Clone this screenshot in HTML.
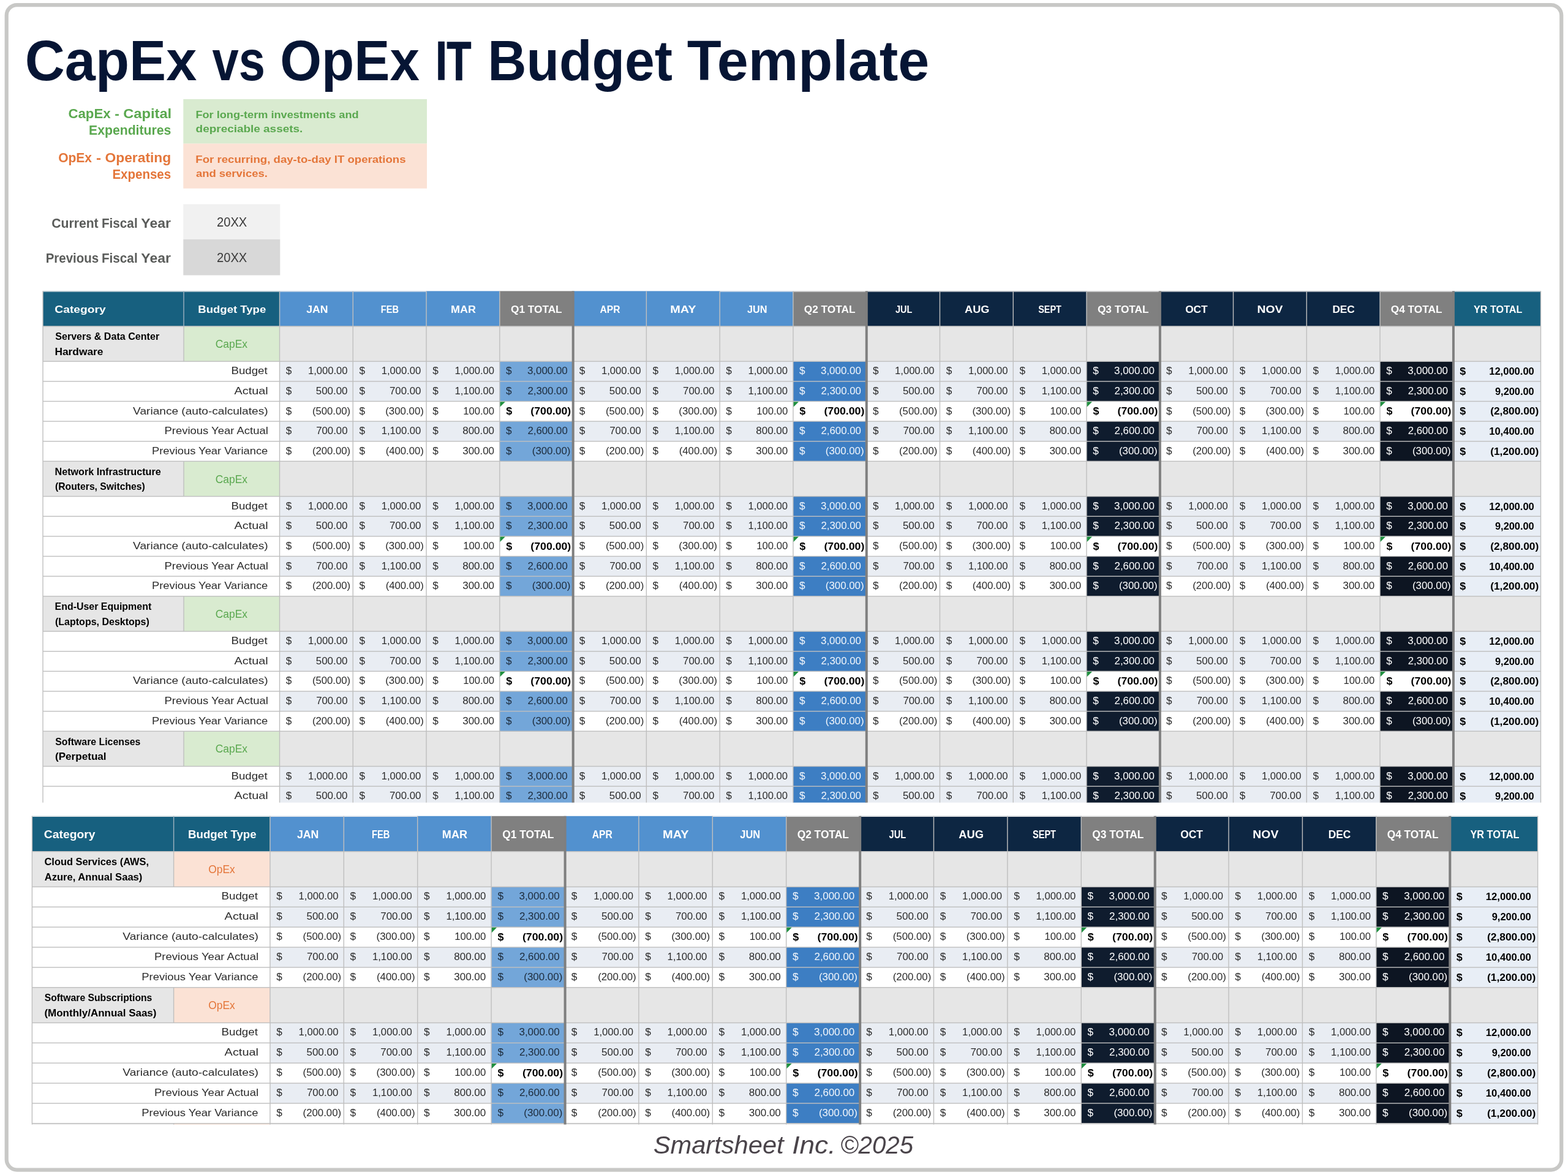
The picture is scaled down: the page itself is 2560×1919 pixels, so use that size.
<!DOCTYPE html>
<html lang="en">
<head>
<meta charset="utf-8">
<title>CapEx vs OpEx IT Budget Template</title>
<style>
html,body{margin:0;padding:0;background:#ffffff;}
body{width:2560px;height:1919px;overflow:hidden;}
svg{display:block;font-family:'Liberation Sans',sans-serif;}
text{white-space:pre;}
</style>
</head>
<body>
<svg width="2560" height="1919" viewBox="0 0 2560 1919" role="img" aria-label="CapEx vs OpEx IT Budget Template">
<rect x="10.7" y="8.05" width="2538.55" height="1902.55" rx="17" ry="17" fill="#ffffff" stroke="#c8c8c6" stroke-width="6.2"/>
<text font-size="92" font-weight="bold" fill="#061534"><tspan x="40.78" y="130.90" textLength="280.54" lengthAdjust="spacingAndGlyphs">CapEx</tspan> <tspan x="346.50" y="130.90" textLength="86.42" lengthAdjust="spacingAndGlyphs">vs</tspan> <tspan x="457.31" y="130.90" textLength="227.62" lengthAdjust="spacingAndGlyphs">OpEx</tspan> <tspan x="711.45" y="130.10" textLength="57.89" lengthAdjust="spacingAndGlyphs" font-size="89.68" stroke="#061534" stroke-width="1.6" stroke-linejoin="miter">IT</tspan> <tspan x="796.19" y="130.90" textLength="301.72" lengthAdjust="spacingAndGlyphs">Budget</tspan> <tspan x="1121.70" y="130.90" textLength="395.56" lengthAdjust="spacingAndGlyphs">Template</tspan></text>
<rect x="299.30" y="161.90" width="397.70" height="72.70" fill="#d9ebd0"/>
<rect x="299.30" y="234.60" width="397.70" height="73.20" fill="#fbe2d5"/>
<text font-size="21.2" font-weight="bold" fill="#5aa84f"><tspan x="111.41" y="193.00" textLength="69.23" lengthAdjust="spacingAndGlyphs">CapEx</tspan> <tspan x="187.30" y="193.00" textLength="7.58" lengthAdjust="spacingAndGlyphs">-</tspan> <tspan x="201.26" y="193.00" textLength="78.93" lengthAdjust="spacingAndGlyphs">Capital</tspan></text>
<text font-size="21.2" font-weight="bold" fill="#5aa84f"><tspan x="145.00" y="219.80" textLength="134.40" lengthAdjust="spacingAndGlyphs">Expenditures</tspan></text>
<text font-size="21.2" font-weight="bold" fill="#e4763a"><tspan x="95.16" y="264.90" textLength="54.91" lengthAdjust="spacingAndGlyphs">OpEx</tspan> <tspan x="156.94" y="264.90" textLength="8.09" lengthAdjust="spacingAndGlyphs">-</tspan> <tspan x="171.49" y="264.90" textLength="107.68" lengthAdjust="spacingAndGlyphs">Operating</tspan></text>
<text font-size="21.2" font-weight="bold" fill="#e4763a"><tspan x="183.45" y="292.30" textLength="95.71" lengthAdjust="spacingAndGlyphs">Expenses</tspan></text>
<text x="319.41" y="193.30" font-size="16.6" font-weight="bold" fill="#5aa84f" textLength="266.22" lengthAdjust="spacingAndGlyphs">For long-term investments and</text>
<text x="319.64" y="216.20" font-size="16.6" font-weight="bold" fill="#5aa84f" textLength="174.67" lengthAdjust="spacingAndGlyphs">depreciable assets.</text>
<text x="319.38" y="265.50" font-size="16.6" font-weight="bold" fill="#e4763a" textLength="343.18" lengthAdjust="spacingAndGlyphs">For recurring, day-to-day IT operations</text>
<text x="319.94" y="288.80" font-size="16.6" font-weight="bold" fill="#e4763a" textLength="116.88" lengthAdjust="spacingAndGlyphs">and services.</text>
<rect x="299.30" y="333.50" width="158.00" height="57.40" fill="#f1f1f1"/>
<rect x="299.30" y="390.90" width="158.00" height="58.60" fill="#d8d8d8"/>
<text font-size="21.4" font-weight="bold" fill="#5a5c5a"><tspan x="84.21" y="371.80" textLength="76.47" lengthAdjust="spacingAndGlyphs">Current</tspan> <tspan x="165.95" y="371.80" textLength="58.72" lengthAdjust="spacingAndGlyphs">Fiscal</tspan> <tspan x="230.36" y="371.80" textLength="48.47" lengthAdjust="spacingAndGlyphs">Year</tspan></text>
<text font-size="21.4" font-weight="bold" fill="#5a5c5a"><tspan x="74.66" y="428.80" textLength="86.59" lengthAdjust="spacingAndGlyphs">Previous</tspan> <tspan x="165.95" y="428.80" textLength="58.72" lengthAdjust="spacingAndGlyphs">Fiscal</tspan> <tspan x="230.36" y="428.80" textLength="48.47" lengthAdjust="spacingAndGlyphs">Year</tspan></text>
<text x="354.00" y="370.40" font-size="22.4" fill="#3a3a3a" textLength="49.29" lengthAdjust="spacingAndGlyphs">20XX</text>
<text x="354.00" y="427.60" font-size="22.4" fill="#3a3a3a" textLength="49.29" lengthAdjust="spacingAndGlyphs">20XX</text>
<text font-size="41" font-style="italic" fill="#4a444a"><tspan x="1066.78" y="1884.20" textLength="212.84" lengthAdjust="spacingAndGlyphs">Smartsheet</tspan> <tspan x="1293.28" y="1884.20" textLength="71.20" lengthAdjust="spacingAndGlyphs">Inc.</tspan> <tspan x="1371.93" y="1884.20" textLength="119.09" lengthAdjust="spacingAndGlyphs">©2025</tspan></text>
<clipPath id="clipa"><rect x="-2" y="-1.6" width="2449.50" height="835.50"/></clipPath>
<g transform="translate(70.00,476.80) scale(1.00000,1.00000)" clip-path="url(#clipa)">
<rect x="0.00" y="-1.60" width="230.00" height="57.70" fill="#17607f"/>
<rect x="230.00" y="-1.60" width="156.50" height="57.70" fill="#17607f"/>
<rect x="386.50" y="-1.60" width="119.77" height="57.70" fill="#5291cf"/>
<rect x="506.27" y="-1.60" width="119.77" height="57.70" fill="#5291cf"/>
<rect x="626.04" y="-1.60" width="119.77" height="57.70" fill="#5291cf"/>
<rect x="745.81" y="-1.60" width="119.77" height="57.70" fill="#808080"/>
<rect x="865.58" y="-1.60" width="119.77" height="57.70" fill="#5291cf"/>
<rect x="985.35" y="-1.60" width="119.77" height="57.70" fill="#5291cf"/>
<rect x="1105.12" y="-1.60" width="119.77" height="57.70" fill="#5291cf"/>
<rect x="1224.89" y="-1.60" width="119.77" height="57.70" fill="#808080"/>
<rect x="1344.66" y="-1.60" width="119.77" height="57.70" fill="#0d2642"/>
<rect x="1464.43" y="-1.60" width="119.77" height="57.70" fill="#0d2642"/>
<rect x="1584.20" y="-1.60" width="119.77" height="57.70" fill="#0d2642"/>
<rect x="1703.97" y="-1.60" width="119.77" height="57.70" fill="#808080"/>
<rect x="1823.74" y="-1.60" width="119.77" height="57.70" fill="#0d2642"/>
<rect x="1943.51" y="-1.60" width="119.77" height="57.70" fill="#0d2642"/>
<rect x="2063.28" y="-1.60" width="119.77" height="57.70" fill="#0d2642"/>
<rect x="2183.05" y="-1.60" width="119.77" height="57.70" fill="#808080"/>
<rect x="2302.82" y="-1.60" width="142.68" height="57.70" fill="#17607f"/>
<rect x="0.00" y="56.10" width="2445.50" height="57.30" fill="#e6e6e6"/>
<rect x="230.00" y="56.10" width="156.50" height="57.30" fill="#d9ebd0"/>
<rect x="0.00" y="113.40" width="386.50" height="32.63" fill="#ffffff"/>
<rect x="386.50" y="113.40" width="119.77" height="32.63" fill="#e9edf3"/>
<rect x="506.27" y="113.40" width="119.77" height="32.63" fill="#e9edf3"/>
<rect x="626.04" y="113.40" width="119.77" height="32.63" fill="#e9edf3"/>
<rect x="745.81" y="113.40" width="119.77" height="32.63" fill="#73a6d9"/>
<rect x="865.58" y="113.40" width="119.77" height="32.63" fill="#e9edf3"/>
<rect x="985.35" y="113.40" width="119.77" height="32.63" fill="#e9edf3"/>
<rect x="1105.12" y="113.40" width="119.77" height="32.63" fill="#e9edf3"/>
<rect x="1224.89" y="113.40" width="119.77" height="32.63" fill="#3d7ec3"/>
<rect x="1344.66" y="113.40" width="119.77" height="32.63" fill="#e9edf3"/>
<rect x="1464.43" y="113.40" width="119.77" height="32.63" fill="#e9edf3"/>
<rect x="1584.20" y="113.40" width="119.77" height="32.63" fill="#e9edf3"/>
<rect x="1703.97" y="113.40" width="119.77" height="32.63" fill="#0f1c2e"/>
<rect x="1823.74" y="113.40" width="119.77" height="32.63" fill="#e9edf3"/>
<rect x="1943.51" y="113.40" width="119.77" height="32.63" fill="#e9edf3"/>
<rect x="2063.28" y="113.40" width="119.77" height="32.63" fill="#e9edf3"/>
<rect x="2183.05" y="113.40" width="119.77" height="32.63" fill="#0d1522"/>
<rect x="2302.82" y="113.40" width="142.68" height="32.63" fill="#e8eef6"/>
<rect x="0.00" y="146.03" width="386.50" height="32.63" fill="#ffffff"/>
<rect x="386.50" y="146.03" width="119.77" height="32.63" fill="#e9edf3"/>
<rect x="506.27" y="146.03" width="119.77" height="32.63" fill="#e9edf3"/>
<rect x="626.04" y="146.03" width="119.77" height="32.63" fill="#e9edf3"/>
<rect x="745.81" y="146.03" width="119.77" height="32.63" fill="#73a6d9"/>
<rect x="865.58" y="146.03" width="119.77" height="32.63" fill="#e9edf3"/>
<rect x="985.35" y="146.03" width="119.77" height="32.63" fill="#e9edf3"/>
<rect x="1105.12" y="146.03" width="119.77" height="32.63" fill="#e9edf3"/>
<rect x="1224.89" y="146.03" width="119.77" height="32.63" fill="#3d7ec3"/>
<rect x="1344.66" y="146.03" width="119.77" height="32.63" fill="#e9edf3"/>
<rect x="1464.43" y="146.03" width="119.77" height="32.63" fill="#e9edf3"/>
<rect x="1584.20" y="146.03" width="119.77" height="32.63" fill="#e9edf3"/>
<rect x="1703.97" y="146.03" width="119.77" height="32.63" fill="#0f1c2e"/>
<rect x="1823.74" y="146.03" width="119.77" height="32.63" fill="#e9edf3"/>
<rect x="1943.51" y="146.03" width="119.77" height="32.63" fill="#e9edf3"/>
<rect x="2063.28" y="146.03" width="119.77" height="32.63" fill="#e9edf3"/>
<rect x="2183.05" y="146.03" width="119.77" height="32.63" fill="#0d1522"/>
<rect x="2302.82" y="146.03" width="142.68" height="32.63" fill="#e8eef6"/>
<rect x="0.00" y="178.66" width="386.50" height="32.63" fill="#ffffff"/>
<rect x="386.50" y="178.66" width="119.77" height="32.63" fill="#ffffff"/>
<rect x="506.27" y="178.66" width="119.77" height="32.63" fill="#ffffff"/>
<rect x="626.04" y="178.66" width="119.77" height="32.63" fill="#ffffff"/>
<rect x="745.81" y="178.66" width="119.77" height="32.63" fill="#ffffff"/>
<rect x="865.58" y="178.66" width="119.77" height="32.63" fill="#ffffff"/>
<rect x="985.35" y="178.66" width="119.77" height="32.63" fill="#ffffff"/>
<rect x="1105.12" y="178.66" width="119.77" height="32.63" fill="#ffffff"/>
<rect x="1224.89" y="178.66" width="119.77" height="32.63" fill="#ffffff"/>
<rect x="1344.66" y="178.66" width="119.77" height="32.63" fill="#ffffff"/>
<rect x="1464.43" y="178.66" width="119.77" height="32.63" fill="#ffffff"/>
<rect x="1584.20" y="178.66" width="119.77" height="32.63" fill="#ffffff"/>
<rect x="1703.97" y="178.66" width="119.77" height="32.63" fill="#ffffff"/>
<rect x="1823.74" y="178.66" width="119.77" height="32.63" fill="#ffffff"/>
<rect x="1943.51" y="178.66" width="119.77" height="32.63" fill="#ffffff"/>
<rect x="2063.28" y="178.66" width="119.77" height="32.63" fill="#ffffff"/>
<rect x="2183.05" y="178.66" width="119.77" height="32.63" fill="#ffffff"/>
<rect x="2302.82" y="178.66" width="142.68" height="32.63" fill="#e8eef6"/>
<rect x="0.00" y="211.29" width="386.50" height="32.63" fill="#ffffff"/>
<rect x="386.50" y="211.29" width="119.77" height="32.63" fill="#e9edf3"/>
<rect x="506.27" y="211.29" width="119.77" height="32.63" fill="#e9edf3"/>
<rect x="626.04" y="211.29" width="119.77" height="32.63" fill="#e9edf3"/>
<rect x="745.81" y="211.29" width="119.77" height="32.63" fill="#73a6d9"/>
<rect x="865.58" y="211.29" width="119.77" height="32.63" fill="#e9edf3"/>
<rect x="985.35" y="211.29" width="119.77" height="32.63" fill="#e9edf3"/>
<rect x="1105.12" y="211.29" width="119.77" height="32.63" fill="#e9edf3"/>
<rect x="1224.89" y="211.29" width="119.77" height="32.63" fill="#3d7ec3"/>
<rect x="1344.66" y="211.29" width="119.77" height="32.63" fill="#e9edf3"/>
<rect x="1464.43" y="211.29" width="119.77" height="32.63" fill="#e9edf3"/>
<rect x="1584.20" y="211.29" width="119.77" height="32.63" fill="#e9edf3"/>
<rect x="1703.97" y="211.29" width="119.77" height="32.63" fill="#0f1c2e"/>
<rect x="1823.74" y="211.29" width="119.77" height="32.63" fill="#e9edf3"/>
<rect x="1943.51" y="211.29" width="119.77" height="32.63" fill="#e9edf3"/>
<rect x="2063.28" y="211.29" width="119.77" height="32.63" fill="#e9edf3"/>
<rect x="2183.05" y="211.29" width="119.77" height="32.63" fill="#0d1522"/>
<rect x="2302.82" y="211.29" width="142.68" height="32.63" fill="#e8eef6"/>
<rect x="0.00" y="243.92" width="386.50" height="32.63" fill="#ffffff"/>
<rect x="386.50" y="243.92" width="119.77" height="32.63" fill="#ffffff"/>
<rect x="506.27" y="243.92" width="119.77" height="32.63" fill="#ffffff"/>
<rect x="626.04" y="243.92" width="119.77" height="32.63" fill="#ffffff"/>
<rect x="745.81" y="243.92" width="119.77" height="32.63" fill="#73a6d9"/>
<rect x="865.58" y="243.92" width="119.77" height="32.63" fill="#ffffff"/>
<rect x="985.35" y="243.92" width="119.77" height="32.63" fill="#ffffff"/>
<rect x="1105.12" y="243.92" width="119.77" height="32.63" fill="#ffffff"/>
<rect x="1224.89" y="243.92" width="119.77" height="32.63" fill="#3d7ec3"/>
<rect x="1344.66" y="243.92" width="119.77" height="32.63" fill="#ffffff"/>
<rect x="1464.43" y="243.92" width="119.77" height="32.63" fill="#ffffff"/>
<rect x="1584.20" y="243.92" width="119.77" height="32.63" fill="#ffffff"/>
<rect x="1703.97" y="243.92" width="119.77" height="32.63" fill="#0f1c2e"/>
<rect x="1823.74" y="243.92" width="119.77" height="32.63" fill="#ffffff"/>
<rect x="1943.51" y="243.92" width="119.77" height="32.63" fill="#ffffff"/>
<rect x="2063.28" y="243.92" width="119.77" height="32.63" fill="#ffffff"/>
<rect x="2183.05" y="243.92" width="119.77" height="32.63" fill="#0d1522"/>
<rect x="2302.82" y="243.92" width="142.68" height="32.63" fill="#e8eef6"/>
<rect x="0.00" y="276.55" width="2445.50" height="57.30" fill="#e6e6e6"/>
<rect x="230.00" y="276.55" width="156.50" height="57.30" fill="#d9ebd0"/>
<rect x="0.00" y="333.85" width="386.50" height="32.63" fill="#ffffff"/>
<rect x="386.50" y="333.85" width="119.77" height="32.63" fill="#e9edf3"/>
<rect x="506.27" y="333.85" width="119.77" height="32.63" fill="#e9edf3"/>
<rect x="626.04" y="333.85" width="119.77" height="32.63" fill="#e9edf3"/>
<rect x="745.81" y="333.85" width="119.77" height="32.63" fill="#73a6d9"/>
<rect x="865.58" y="333.85" width="119.77" height="32.63" fill="#e9edf3"/>
<rect x="985.35" y="333.85" width="119.77" height="32.63" fill="#e9edf3"/>
<rect x="1105.12" y="333.85" width="119.77" height="32.63" fill="#e9edf3"/>
<rect x="1224.89" y="333.85" width="119.77" height="32.63" fill="#3d7ec3"/>
<rect x="1344.66" y="333.85" width="119.77" height="32.63" fill="#e9edf3"/>
<rect x="1464.43" y="333.85" width="119.77" height="32.63" fill="#e9edf3"/>
<rect x="1584.20" y="333.85" width="119.77" height="32.63" fill="#e9edf3"/>
<rect x="1703.97" y="333.85" width="119.77" height="32.63" fill="#0f1c2e"/>
<rect x="1823.74" y="333.85" width="119.77" height="32.63" fill="#e9edf3"/>
<rect x="1943.51" y="333.85" width="119.77" height="32.63" fill="#e9edf3"/>
<rect x="2063.28" y="333.85" width="119.77" height="32.63" fill="#e9edf3"/>
<rect x="2183.05" y="333.85" width="119.77" height="32.63" fill="#0d1522"/>
<rect x="2302.82" y="333.85" width="142.68" height="32.63" fill="#e8eef6"/>
<rect x="0.00" y="366.48" width="386.50" height="32.63" fill="#ffffff"/>
<rect x="386.50" y="366.48" width="119.77" height="32.63" fill="#e9edf3"/>
<rect x="506.27" y="366.48" width="119.77" height="32.63" fill="#e9edf3"/>
<rect x="626.04" y="366.48" width="119.77" height="32.63" fill="#e9edf3"/>
<rect x="745.81" y="366.48" width="119.77" height="32.63" fill="#73a6d9"/>
<rect x="865.58" y="366.48" width="119.77" height="32.63" fill="#e9edf3"/>
<rect x="985.35" y="366.48" width="119.77" height="32.63" fill="#e9edf3"/>
<rect x="1105.12" y="366.48" width="119.77" height="32.63" fill="#e9edf3"/>
<rect x="1224.89" y="366.48" width="119.77" height="32.63" fill="#3d7ec3"/>
<rect x="1344.66" y="366.48" width="119.77" height="32.63" fill="#e9edf3"/>
<rect x="1464.43" y="366.48" width="119.77" height="32.63" fill="#e9edf3"/>
<rect x="1584.20" y="366.48" width="119.77" height="32.63" fill="#e9edf3"/>
<rect x="1703.97" y="366.48" width="119.77" height="32.63" fill="#0f1c2e"/>
<rect x="1823.74" y="366.48" width="119.77" height="32.63" fill="#e9edf3"/>
<rect x="1943.51" y="366.48" width="119.77" height="32.63" fill="#e9edf3"/>
<rect x="2063.28" y="366.48" width="119.77" height="32.63" fill="#e9edf3"/>
<rect x="2183.05" y="366.48" width="119.77" height="32.63" fill="#0d1522"/>
<rect x="2302.82" y="366.48" width="142.68" height="32.63" fill="#e8eef6"/>
<rect x="0.00" y="399.11" width="386.50" height="32.63" fill="#ffffff"/>
<rect x="386.50" y="399.11" width="119.77" height="32.63" fill="#ffffff"/>
<rect x="506.27" y="399.11" width="119.77" height="32.63" fill="#ffffff"/>
<rect x="626.04" y="399.11" width="119.77" height="32.63" fill="#ffffff"/>
<rect x="745.81" y="399.11" width="119.77" height="32.63" fill="#ffffff"/>
<rect x="865.58" y="399.11" width="119.77" height="32.63" fill="#ffffff"/>
<rect x="985.35" y="399.11" width="119.77" height="32.63" fill="#ffffff"/>
<rect x="1105.12" y="399.11" width="119.77" height="32.63" fill="#ffffff"/>
<rect x="1224.89" y="399.11" width="119.77" height="32.63" fill="#ffffff"/>
<rect x="1344.66" y="399.11" width="119.77" height="32.63" fill="#ffffff"/>
<rect x="1464.43" y="399.11" width="119.77" height="32.63" fill="#ffffff"/>
<rect x="1584.20" y="399.11" width="119.77" height="32.63" fill="#ffffff"/>
<rect x="1703.97" y="399.11" width="119.77" height="32.63" fill="#ffffff"/>
<rect x="1823.74" y="399.11" width="119.77" height="32.63" fill="#ffffff"/>
<rect x="1943.51" y="399.11" width="119.77" height="32.63" fill="#ffffff"/>
<rect x="2063.28" y="399.11" width="119.77" height="32.63" fill="#ffffff"/>
<rect x="2183.05" y="399.11" width="119.77" height="32.63" fill="#ffffff"/>
<rect x="2302.82" y="399.11" width="142.68" height="32.63" fill="#e8eef6"/>
<rect x="0.00" y="431.74" width="386.50" height="32.63" fill="#ffffff"/>
<rect x="386.50" y="431.74" width="119.77" height="32.63" fill="#e9edf3"/>
<rect x="506.27" y="431.74" width="119.77" height="32.63" fill="#e9edf3"/>
<rect x="626.04" y="431.74" width="119.77" height="32.63" fill="#e9edf3"/>
<rect x="745.81" y="431.74" width="119.77" height="32.63" fill="#73a6d9"/>
<rect x="865.58" y="431.74" width="119.77" height="32.63" fill="#e9edf3"/>
<rect x="985.35" y="431.74" width="119.77" height="32.63" fill="#e9edf3"/>
<rect x="1105.12" y="431.74" width="119.77" height="32.63" fill="#e9edf3"/>
<rect x="1224.89" y="431.74" width="119.77" height="32.63" fill="#3d7ec3"/>
<rect x="1344.66" y="431.74" width="119.77" height="32.63" fill="#e9edf3"/>
<rect x="1464.43" y="431.74" width="119.77" height="32.63" fill="#e9edf3"/>
<rect x="1584.20" y="431.74" width="119.77" height="32.63" fill="#e9edf3"/>
<rect x="1703.97" y="431.74" width="119.77" height="32.63" fill="#0f1c2e"/>
<rect x="1823.74" y="431.74" width="119.77" height="32.63" fill="#e9edf3"/>
<rect x="1943.51" y="431.74" width="119.77" height="32.63" fill="#e9edf3"/>
<rect x="2063.28" y="431.74" width="119.77" height="32.63" fill="#e9edf3"/>
<rect x="2183.05" y="431.74" width="119.77" height="32.63" fill="#0d1522"/>
<rect x="2302.82" y="431.74" width="142.68" height="32.63" fill="#e8eef6"/>
<rect x="0.00" y="464.37" width="386.50" height="32.63" fill="#ffffff"/>
<rect x="386.50" y="464.37" width="119.77" height="32.63" fill="#ffffff"/>
<rect x="506.27" y="464.37" width="119.77" height="32.63" fill="#ffffff"/>
<rect x="626.04" y="464.37" width="119.77" height="32.63" fill="#ffffff"/>
<rect x="745.81" y="464.37" width="119.77" height="32.63" fill="#73a6d9"/>
<rect x="865.58" y="464.37" width="119.77" height="32.63" fill="#ffffff"/>
<rect x="985.35" y="464.37" width="119.77" height="32.63" fill="#ffffff"/>
<rect x="1105.12" y="464.37" width="119.77" height="32.63" fill="#ffffff"/>
<rect x="1224.89" y="464.37" width="119.77" height="32.63" fill="#3d7ec3"/>
<rect x="1344.66" y="464.37" width="119.77" height="32.63" fill="#ffffff"/>
<rect x="1464.43" y="464.37" width="119.77" height="32.63" fill="#ffffff"/>
<rect x="1584.20" y="464.37" width="119.77" height="32.63" fill="#ffffff"/>
<rect x="1703.97" y="464.37" width="119.77" height="32.63" fill="#0f1c2e"/>
<rect x="1823.74" y="464.37" width="119.77" height="32.63" fill="#ffffff"/>
<rect x="1943.51" y="464.37" width="119.77" height="32.63" fill="#ffffff"/>
<rect x="2063.28" y="464.37" width="119.77" height="32.63" fill="#ffffff"/>
<rect x="2183.05" y="464.37" width="119.77" height="32.63" fill="#0d1522"/>
<rect x="2302.82" y="464.37" width="142.68" height="32.63" fill="#e8eef6"/>
<rect x="0.00" y="497.00" width="2445.50" height="57.30" fill="#e6e6e6"/>
<rect x="230.00" y="497.00" width="156.50" height="57.30" fill="#d9ebd0"/>
<rect x="0.00" y="554.30" width="386.50" height="32.63" fill="#ffffff"/>
<rect x="386.50" y="554.30" width="119.77" height="32.63" fill="#e9edf3"/>
<rect x="506.27" y="554.30" width="119.77" height="32.63" fill="#e9edf3"/>
<rect x="626.04" y="554.30" width="119.77" height="32.63" fill="#e9edf3"/>
<rect x="745.81" y="554.30" width="119.77" height="32.63" fill="#73a6d9"/>
<rect x="865.58" y="554.30" width="119.77" height="32.63" fill="#e9edf3"/>
<rect x="985.35" y="554.30" width="119.77" height="32.63" fill="#e9edf3"/>
<rect x="1105.12" y="554.30" width="119.77" height="32.63" fill="#e9edf3"/>
<rect x="1224.89" y="554.30" width="119.77" height="32.63" fill="#3d7ec3"/>
<rect x="1344.66" y="554.30" width="119.77" height="32.63" fill="#e9edf3"/>
<rect x="1464.43" y="554.30" width="119.77" height="32.63" fill="#e9edf3"/>
<rect x="1584.20" y="554.30" width="119.77" height="32.63" fill="#e9edf3"/>
<rect x="1703.97" y="554.30" width="119.77" height="32.63" fill="#0f1c2e"/>
<rect x="1823.74" y="554.30" width="119.77" height="32.63" fill="#e9edf3"/>
<rect x="1943.51" y="554.30" width="119.77" height="32.63" fill="#e9edf3"/>
<rect x="2063.28" y="554.30" width="119.77" height="32.63" fill="#e9edf3"/>
<rect x="2183.05" y="554.30" width="119.77" height="32.63" fill="#0d1522"/>
<rect x="2302.82" y="554.30" width="142.68" height="32.63" fill="#e8eef6"/>
<rect x="0.00" y="586.93" width="386.50" height="32.63" fill="#ffffff"/>
<rect x="386.50" y="586.93" width="119.77" height="32.63" fill="#e9edf3"/>
<rect x="506.27" y="586.93" width="119.77" height="32.63" fill="#e9edf3"/>
<rect x="626.04" y="586.93" width="119.77" height="32.63" fill="#e9edf3"/>
<rect x="745.81" y="586.93" width="119.77" height="32.63" fill="#73a6d9"/>
<rect x="865.58" y="586.93" width="119.77" height="32.63" fill="#e9edf3"/>
<rect x="985.35" y="586.93" width="119.77" height="32.63" fill="#e9edf3"/>
<rect x="1105.12" y="586.93" width="119.77" height="32.63" fill="#e9edf3"/>
<rect x="1224.89" y="586.93" width="119.77" height="32.63" fill="#3d7ec3"/>
<rect x="1344.66" y="586.93" width="119.77" height="32.63" fill="#e9edf3"/>
<rect x="1464.43" y="586.93" width="119.77" height="32.63" fill="#e9edf3"/>
<rect x="1584.20" y="586.93" width="119.77" height="32.63" fill="#e9edf3"/>
<rect x="1703.97" y="586.93" width="119.77" height="32.63" fill="#0f1c2e"/>
<rect x="1823.74" y="586.93" width="119.77" height="32.63" fill="#e9edf3"/>
<rect x="1943.51" y="586.93" width="119.77" height="32.63" fill="#e9edf3"/>
<rect x="2063.28" y="586.93" width="119.77" height="32.63" fill="#e9edf3"/>
<rect x="2183.05" y="586.93" width="119.77" height="32.63" fill="#0d1522"/>
<rect x="2302.82" y="586.93" width="142.68" height="32.63" fill="#e8eef6"/>
<rect x="0.00" y="619.56" width="386.50" height="32.63" fill="#ffffff"/>
<rect x="386.50" y="619.56" width="119.77" height="32.63" fill="#ffffff"/>
<rect x="506.27" y="619.56" width="119.77" height="32.63" fill="#ffffff"/>
<rect x="626.04" y="619.56" width="119.77" height="32.63" fill="#ffffff"/>
<rect x="745.81" y="619.56" width="119.77" height="32.63" fill="#ffffff"/>
<rect x="865.58" y="619.56" width="119.77" height="32.63" fill="#ffffff"/>
<rect x="985.35" y="619.56" width="119.77" height="32.63" fill="#ffffff"/>
<rect x="1105.12" y="619.56" width="119.77" height="32.63" fill="#ffffff"/>
<rect x="1224.89" y="619.56" width="119.77" height="32.63" fill="#ffffff"/>
<rect x="1344.66" y="619.56" width="119.77" height="32.63" fill="#ffffff"/>
<rect x="1464.43" y="619.56" width="119.77" height="32.63" fill="#ffffff"/>
<rect x="1584.20" y="619.56" width="119.77" height="32.63" fill="#ffffff"/>
<rect x="1703.97" y="619.56" width="119.77" height="32.63" fill="#ffffff"/>
<rect x="1823.74" y="619.56" width="119.77" height="32.63" fill="#ffffff"/>
<rect x="1943.51" y="619.56" width="119.77" height="32.63" fill="#ffffff"/>
<rect x="2063.28" y="619.56" width="119.77" height="32.63" fill="#ffffff"/>
<rect x="2183.05" y="619.56" width="119.77" height="32.63" fill="#ffffff"/>
<rect x="2302.82" y="619.56" width="142.68" height="32.63" fill="#e8eef6"/>
<rect x="0.00" y="652.19" width="386.50" height="32.63" fill="#ffffff"/>
<rect x="386.50" y="652.19" width="119.77" height="32.63" fill="#e9edf3"/>
<rect x="506.27" y="652.19" width="119.77" height="32.63" fill="#e9edf3"/>
<rect x="626.04" y="652.19" width="119.77" height="32.63" fill="#e9edf3"/>
<rect x="745.81" y="652.19" width="119.77" height="32.63" fill="#73a6d9"/>
<rect x="865.58" y="652.19" width="119.77" height="32.63" fill="#e9edf3"/>
<rect x="985.35" y="652.19" width="119.77" height="32.63" fill="#e9edf3"/>
<rect x="1105.12" y="652.19" width="119.77" height="32.63" fill="#e9edf3"/>
<rect x="1224.89" y="652.19" width="119.77" height="32.63" fill="#3d7ec3"/>
<rect x="1344.66" y="652.19" width="119.77" height="32.63" fill="#e9edf3"/>
<rect x="1464.43" y="652.19" width="119.77" height="32.63" fill="#e9edf3"/>
<rect x="1584.20" y="652.19" width="119.77" height="32.63" fill="#e9edf3"/>
<rect x="1703.97" y="652.19" width="119.77" height="32.63" fill="#0f1c2e"/>
<rect x="1823.74" y="652.19" width="119.77" height="32.63" fill="#e9edf3"/>
<rect x="1943.51" y="652.19" width="119.77" height="32.63" fill="#e9edf3"/>
<rect x="2063.28" y="652.19" width="119.77" height="32.63" fill="#e9edf3"/>
<rect x="2183.05" y="652.19" width="119.77" height="32.63" fill="#0d1522"/>
<rect x="2302.82" y="652.19" width="142.68" height="32.63" fill="#e8eef6"/>
<rect x="0.00" y="684.82" width="386.50" height="32.63" fill="#ffffff"/>
<rect x="386.50" y="684.82" width="119.77" height="32.63" fill="#ffffff"/>
<rect x="506.27" y="684.82" width="119.77" height="32.63" fill="#ffffff"/>
<rect x="626.04" y="684.82" width="119.77" height="32.63" fill="#ffffff"/>
<rect x="745.81" y="684.82" width="119.77" height="32.63" fill="#73a6d9"/>
<rect x="865.58" y="684.82" width="119.77" height="32.63" fill="#ffffff"/>
<rect x="985.35" y="684.82" width="119.77" height="32.63" fill="#ffffff"/>
<rect x="1105.12" y="684.82" width="119.77" height="32.63" fill="#ffffff"/>
<rect x="1224.89" y="684.82" width="119.77" height="32.63" fill="#3d7ec3"/>
<rect x="1344.66" y="684.82" width="119.77" height="32.63" fill="#ffffff"/>
<rect x="1464.43" y="684.82" width="119.77" height="32.63" fill="#ffffff"/>
<rect x="1584.20" y="684.82" width="119.77" height="32.63" fill="#ffffff"/>
<rect x="1703.97" y="684.82" width="119.77" height="32.63" fill="#0f1c2e"/>
<rect x="1823.74" y="684.82" width="119.77" height="32.63" fill="#ffffff"/>
<rect x="1943.51" y="684.82" width="119.77" height="32.63" fill="#ffffff"/>
<rect x="2063.28" y="684.82" width="119.77" height="32.63" fill="#ffffff"/>
<rect x="2183.05" y="684.82" width="119.77" height="32.63" fill="#0d1522"/>
<rect x="2302.82" y="684.82" width="142.68" height="32.63" fill="#e8eef6"/>
<rect x="0.00" y="717.45" width="2445.50" height="57.30" fill="#e6e6e6"/>
<rect x="230.00" y="717.45" width="156.50" height="57.30" fill="#d9ebd0"/>
<rect x="0.00" y="774.75" width="386.50" height="32.63" fill="#ffffff"/>
<rect x="386.50" y="774.75" width="119.77" height="32.63" fill="#e9edf3"/>
<rect x="506.27" y="774.75" width="119.77" height="32.63" fill="#e9edf3"/>
<rect x="626.04" y="774.75" width="119.77" height="32.63" fill="#e9edf3"/>
<rect x="745.81" y="774.75" width="119.77" height="32.63" fill="#73a6d9"/>
<rect x="865.58" y="774.75" width="119.77" height="32.63" fill="#e9edf3"/>
<rect x="985.35" y="774.75" width="119.77" height="32.63" fill="#e9edf3"/>
<rect x="1105.12" y="774.75" width="119.77" height="32.63" fill="#e9edf3"/>
<rect x="1224.89" y="774.75" width="119.77" height="32.63" fill="#3d7ec3"/>
<rect x="1344.66" y="774.75" width="119.77" height="32.63" fill="#e9edf3"/>
<rect x="1464.43" y="774.75" width="119.77" height="32.63" fill="#e9edf3"/>
<rect x="1584.20" y="774.75" width="119.77" height="32.63" fill="#e9edf3"/>
<rect x="1703.97" y="774.75" width="119.77" height="32.63" fill="#0f1c2e"/>
<rect x="1823.74" y="774.75" width="119.77" height="32.63" fill="#e9edf3"/>
<rect x="1943.51" y="774.75" width="119.77" height="32.63" fill="#e9edf3"/>
<rect x="2063.28" y="774.75" width="119.77" height="32.63" fill="#e9edf3"/>
<rect x="2183.05" y="774.75" width="119.77" height="32.63" fill="#0d1522"/>
<rect x="2302.82" y="774.75" width="142.68" height="32.63" fill="#e8eef6"/>
<rect x="0.00" y="807.38" width="386.50" height="32.63" fill="#ffffff"/>
<rect x="386.50" y="807.38" width="119.77" height="32.63" fill="#e9edf3"/>
<rect x="506.27" y="807.38" width="119.77" height="32.63" fill="#e9edf3"/>
<rect x="626.04" y="807.38" width="119.77" height="32.63" fill="#e9edf3"/>
<rect x="745.81" y="807.38" width="119.77" height="32.63" fill="#73a6d9"/>
<rect x="865.58" y="807.38" width="119.77" height="32.63" fill="#e9edf3"/>
<rect x="985.35" y="807.38" width="119.77" height="32.63" fill="#e9edf3"/>
<rect x="1105.12" y="807.38" width="119.77" height="32.63" fill="#e9edf3"/>
<rect x="1224.89" y="807.38" width="119.77" height="32.63" fill="#3d7ec3"/>
<rect x="1344.66" y="807.38" width="119.77" height="32.63" fill="#e9edf3"/>
<rect x="1464.43" y="807.38" width="119.77" height="32.63" fill="#e9edf3"/>
<rect x="1584.20" y="807.38" width="119.77" height="32.63" fill="#e9edf3"/>
<rect x="1703.97" y="807.38" width="119.77" height="32.63" fill="#0f1c2e"/>
<rect x="1823.74" y="807.38" width="119.77" height="32.63" fill="#e9edf3"/>
<rect x="1943.51" y="807.38" width="119.77" height="32.63" fill="#e9edf3"/>
<rect x="2063.28" y="807.38" width="119.77" height="32.63" fill="#e9edf3"/>
<rect x="2183.05" y="807.38" width="119.77" height="32.63" fill="#0d1522"/>
<rect x="2302.82" y="807.38" width="142.68" height="32.63" fill="#e8eef6"/>
<rect x="-0.7" y="-1.6" width="626.74" height="1.4" fill="#e9eaeb"/>
<rect x="1105.12" y="-1.6" width="1341.08" height="1.4" fill="#e9eaeb"/>
<rect x="0" y="55.40" width="2445.50" height="1.4" fill="#bfbfbf"/>
<rect x="0" y="112.70" width="2445.50" height="1.4" fill="#bfbfbf"/>
<rect x="0" y="145.33" width="2445.50" height="1.4" fill="#bfbfbf"/>
<rect x="0" y="177.96" width="2445.50" height="1.4" fill="#bfbfbf"/>
<rect x="0" y="210.59" width="2445.50" height="1.4" fill="#bfbfbf"/>
<rect x="0" y="243.22" width="2445.50" height="1.4" fill="#bfbfbf"/>
<rect x="0" y="275.85" width="2445.50" height="1.4" fill="#bfbfbf"/>
<rect x="0" y="333.15" width="2445.50" height="1.4" fill="#bfbfbf"/>
<rect x="0" y="365.78" width="2445.50" height="1.4" fill="#bfbfbf"/>
<rect x="0" y="398.41" width="2445.50" height="1.4" fill="#bfbfbf"/>
<rect x="0" y="431.04" width="2445.50" height="1.4" fill="#bfbfbf"/>
<rect x="0" y="463.67" width="2445.50" height="1.4" fill="#bfbfbf"/>
<rect x="0" y="496.30" width="2445.50" height="1.4" fill="#bfbfbf"/>
<rect x="0" y="553.60" width="2445.50" height="1.4" fill="#bfbfbf"/>
<rect x="0" y="586.23" width="2445.50" height="1.4" fill="#bfbfbf"/>
<rect x="0" y="618.86" width="2445.50" height="1.4" fill="#bfbfbf"/>
<rect x="0" y="651.49" width="2445.50" height="1.4" fill="#bfbfbf"/>
<rect x="0" y="684.12" width="2445.50" height="1.4" fill="#bfbfbf"/>
<rect x="0" y="716.75" width="2445.50" height="1.4" fill="#bfbfbf"/>
<rect x="0" y="774.05" width="2445.50" height="1.4" fill="#bfbfbf"/>
<rect x="0" y="806.68" width="2445.50" height="1.4" fill="#bfbfbf"/>
<rect x="-0.70" y="-1.6" width="1.4" height="837.50" fill="#bfbfbf"/>
<rect x="229.30" y="-1.6" width="1.4" height="57.70" fill="#9fb3bf"/>
<rect x="229.30" y="56.10" width="1.4" height="57.30" fill="#bfbfbf"/>
<rect x="229.30" y="276.55" width="1.4" height="57.30" fill="#bfbfbf"/>
<rect x="229.30" y="497.00" width="1.4" height="57.30" fill="#bfbfbf"/>
<rect x="229.30" y="717.45" width="1.4" height="57.30" fill="#bfbfbf"/>
<rect x="385.80" y="-1.6" width="1.4" height="837.50" fill="#bfbfbf"/>
<rect x="505.57" y="-1.6" width="1.4" height="837.50" fill="#bfbfbf"/>
<rect x="625.34" y="-1.6" width="1.4" height="837.50" fill="#bfbfbf"/>
<rect x="745.11" y="-1.6" width="1.4" height="837.50" fill="#bfbfbf"/>
<rect x="984.65" y="-1.6" width="1.4" height="837.50" fill="#bfbfbf"/>
<rect x="1104.42" y="-1.6" width="1.4" height="837.50" fill="#bfbfbf"/>
<rect x="1224.19" y="-1.6" width="1.4" height="837.50" fill="#bfbfbf"/>
<rect x="1463.73" y="-1.6" width="1.4" height="837.50" fill="#bfbfbf"/>
<rect x="1583.50" y="-1.6" width="1.4" height="837.50" fill="#bfbfbf"/>
<rect x="1703.27" y="-1.6" width="1.4" height="837.50" fill="#bfbfbf"/>
<rect x="1942.81" y="-1.6" width="1.4" height="837.50" fill="#bfbfbf"/>
<rect x="2062.58" y="-1.6" width="1.4" height="837.50" fill="#bfbfbf"/>
<rect x="2182.35" y="-1.6" width="1.4" height="837.50" fill="#bfbfbf"/>
<rect x="2444.80" y="-1.6" width="1.4" height="837.50" fill="#bfbfbf"/>
<rect x="863.68" y="-1.6" width="4.0" height="837.50" fill="#7f7f7f"/>
<rect x="1342.76" y="-1.6" width="4.0" height="837.50" fill="#7f7f7f"/>
<rect x="1821.84" y="-1.6" width="4.0" height="837.50" fill="#7f7f7f"/>
<rect x="2300.92" y="-1.6" width="4.0" height="837.50" fill="#7f7f7f"/>
<path d="M746.51 179.36 h8.3 l-8.3 8.3 z" fill="#1f8f3f"/>
<path d="M1225.59 179.36 h8.3 l-8.3 8.3 z" fill="#1f8f3f"/>
<path d="M1704.67 179.36 h8.3 l-8.3 8.3 z" fill="#1f8f3f"/>
<path d="M2183.75 179.36 h8.3 l-8.3 8.3 z" fill="#1f8f3f"/>
<path d="M746.51 399.81 h8.3 l-8.3 8.3 z" fill="#1f8f3f"/>
<path d="M1225.59 399.81 h8.3 l-8.3 8.3 z" fill="#1f8f3f"/>
<path d="M1704.67 399.81 h8.3 l-8.3 8.3 z" fill="#1f8f3f"/>
<path d="M2183.75 399.81 h8.3 l-8.3 8.3 z" fill="#1f8f3f"/>
<path d="M746.51 620.26 h8.3 l-8.3 8.3 z" fill="#1f8f3f"/>
<path d="M1225.59 620.26 h8.3 l-8.3 8.3 z" fill="#1f8f3f"/>
<path d="M1704.67 620.26 h8.3 l-8.3 8.3 z" fill="#1f8f3f"/>
<path d="M2183.75 620.26 h8.3 l-8.3 8.3 z" fill="#1f8f3f"/>
<text x="19.37" y="34.10" font-size="17.4" font-weight="bold" fill="#ffffff" textLength="83.21" lengthAdjust="spacingAndGlyphs">Category</text>
<text x="253.32" y="34.10" font-size="17.4" font-weight="bold" fill="#ffffff" textLength="110.94" lengthAdjust="spacingAndGlyphs">Budget Type</text>
<text x="430.25" y="34.10" font-size="17.4" font-weight="bold" fill="#ffffff" textLength="35.33" lengthAdjust="spacingAndGlyphs">JAN</text>
<text x="551.80" y="34.10" font-size="17.4" font-weight="bold" fill="#ffffff" textLength="29.22" lengthAdjust="spacingAndGlyphs">FEB</text>
<text x="665.96" y="34.10" font-size="17.4" font-weight="bold" fill="#ffffff" textLength="40.98" lengthAdjust="spacingAndGlyphs">MAR</text>
<text x="764.01" y="34.10" font-size="17.4" font-weight="bold" fill="#ffffff" textLength="83.66" lengthAdjust="spacingAndGlyphs">Q1 TOTAL</text>
<text x="909.55" y="34.10" font-size="17.4" font-weight="bold" fill="#ffffff" textLength="32.88" lengthAdjust="spacingAndGlyphs">APR</text>
<text x="1024.32" y="34.10" font-size="17.4" font-weight="bold" fill="#ffffff" textLength="42.29" lengthAdjust="spacingAndGlyphs">MAY</text>
<text x="1149.92" y="34.10" font-size="17.4" font-weight="bold" fill="#ffffff" textLength="32.52" lengthAdjust="spacingAndGlyphs">JUN</text>
<text x="1242.86" y="34.10" font-size="17.4" font-weight="bold" fill="#ffffff" textLength="83.56" lengthAdjust="spacingAndGlyphs">Q2 TOTAL</text>
<text x="1391.99" y="34.10" font-size="17.4" font-weight="bold" fill="#ffffff" textLength="27.32" lengthAdjust="spacingAndGlyphs">JUL</text>
<text x="1505.13" y="34.10" font-size="17.4" font-weight="bold" fill="#ffffff" textLength="40.23" lengthAdjust="spacingAndGlyphs">AUG</text>
<text x="1625.24" y="34.10" font-size="17.4" font-weight="bold" fill="#ffffff" textLength="37.68" lengthAdjust="spacingAndGlyphs">SEPT</text>
<text x="1721.91" y="34.10" font-size="17.4" font-weight="bold" fill="#ffffff" textLength="83.66" lengthAdjust="spacingAndGlyphs">Q3 TOTAL</text>
<text x="1865.15" y="34.10" font-size="17.4" font-weight="bold" fill="#ffffff" textLength="36.57" lengthAdjust="spacingAndGlyphs">OCT</text>
<text x="1982.61" y="34.10" font-size="17.4" font-weight="bold" fill="#ffffff" textLength="41.81" lengthAdjust="spacingAndGlyphs">NOV</text>
<text x="2105.41" y="34.10" font-size="17.4" font-weight="bold" fill="#ffffff" textLength="36.42" lengthAdjust="spacingAndGlyphs">DEC</text>
<text x="2200.86" y="34.10" font-size="17.4" font-weight="bold" fill="#ffffff" textLength="83.56" lengthAdjust="spacingAndGlyphs">Q4 TOTAL</text>
<text x="2335.92" y="34.10" font-size="17.4" font-weight="bold" fill="#ffffff" textLength="79.52" lengthAdjust="spacingAndGlyphs">YR TOTAL</text>
<text x="20.23" y="78.70" font-size="17" font-weight="bold" fill="#000000" textLength="169.94" lengthAdjust="spacingAndGlyphs">Servers &amp; Data Center</text>
<text x="19.42" y="103.00" font-size="17" font-weight="bold" fill="#000000" textLength="79.07" lengthAdjust="spacingAndGlyphs">Hardware</text>
<text x="281.76" y="91.30" font-size="17.6" fill="#5aa84f" textLength="52.31" lengthAdjust="spacingAndGlyphs">CapEx</text>
<text x="307.45" y="134.50" font-size="17" fill="#2b2b2b" textLength="59.19" lengthAdjust="spacingAndGlyphs">Budget</text>
<text x="396.75" y="134.50" font-size="17" fill="#2b2b2b" textLength="9.56" lengthAdjust="spacingAndGlyphs">$</text>
<text x="432.95" y="134.50" font-size="17" fill="#2b2b2b" textLength="64.48" lengthAdjust="spacingAndGlyphs">1,000.00</text>
<text x="516.52" y="134.50" font-size="17" fill="#2b2b2b" textLength="9.56" lengthAdjust="spacingAndGlyphs">$</text>
<text x="552.72" y="134.50" font-size="17" fill="#2b2b2b" textLength="64.48" lengthAdjust="spacingAndGlyphs">1,000.00</text>
<text x="636.29" y="134.50" font-size="17" fill="#2b2b2b" textLength="9.56" lengthAdjust="spacingAndGlyphs">$</text>
<text x="672.49" y="134.50" font-size="17" fill="#2b2b2b" textLength="64.48" lengthAdjust="spacingAndGlyphs">1,000.00</text>
<text x="756.06" y="134.50" font-size="17" fill="#1c2a3a" textLength="9.56" lengthAdjust="spacingAndGlyphs">$</text>
<text x="790.93" y="134.50" font-size="17" fill="#1c2a3a" textLength="65.82" lengthAdjust="spacingAndGlyphs">3,000.00</text>
<text x="875.83" y="134.50" font-size="17" fill="#2b2b2b" textLength="9.56" lengthAdjust="spacingAndGlyphs">$</text>
<text x="912.03" y="134.50" font-size="17" fill="#2b2b2b" textLength="64.48" lengthAdjust="spacingAndGlyphs">1,000.00</text>
<text x="995.60" y="134.50" font-size="17" fill="#2b2b2b" textLength="9.56" lengthAdjust="spacingAndGlyphs">$</text>
<text x="1031.80" y="134.50" font-size="17" fill="#2b2b2b" textLength="64.48" lengthAdjust="spacingAndGlyphs">1,000.00</text>
<text x="1115.37" y="134.50" font-size="17" fill="#2b2b2b" textLength="9.56" lengthAdjust="spacingAndGlyphs">$</text>
<text x="1151.57" y="134.50" font-size="17" fill="#2b2b2b" textLength="64.48" lengthAdjust="spacingAndGlyphs">1,000.00</text>
<text x="1235.14" y="134.50" font-size="17" fill="#f2f6fb" textLength="9.56" lengthAdjust="spacingAndGlyphs">$</text>
<text x="1270.01" y="134.50" font-size="17" fill="#f2f6fb" textLength="65.82" lengthAdjust="spacingAndGlyphs">3,000.00</text>
<text x="1354.91" y="134.50" font-size="17" fill="#2b2b2b" textLength="9.56" lengthAdjust="spacingAndGlyphs">$</text>
<text x="1391.11" y="134.50" font-size="17" fill="#2b2b2b" textLength="64.48" lengthAdjust="spacingAndGlyphs">1,000.00</text>
<text x="1474.68" y="134.50" font-size="17" fill="#2b2b2b" textLength="9.56" lengthAdjust="spacingAndGlyphs">$</text>
<text x="1510.88" y="134.50" font-size="17" fill="#2b2b2b" textLength="64.48" lengthAdjust="spacingAndGlyphs">1,000.00</text>
<text x="1594.45" y="134.50" font-size="17" fill="#2b2b2b" textLength="9.56" lengthAdjust="spacingAndGlyphs">$</text>
<text x="1630.65" y="134.50" font-size="17" fill="#2b2b2b" textLength="64.48" lengthAdjust="spacingAndGlyphs">1,000.00</text>
<text x="1714.22" y="134.50" font-size="17" fill="#ffffff" textLength="9.56" lengthAdjust="spacingAndGlyphs">$</text>
<text x="1749.09" y="134.50" font-size="17" fill="#ffffff" textLength="65.82" lengthAdjust="spacingAndGlyphs">3,000.00</text>
<text x="1833.99" y="134.50" font-size="17" fill="#2b2b2b" textLength="9.56" lengthAdjust="spacingAndGlyphs">$</text>
<text x="1870.19" y="134.50" font-size="17" fill="#2b2b2b" textLength="64.48" lengthAdjust="spacingAndGlyphs">1,000.00</text>
<text x="1953.76" y="134.50" font-size="17" fill="#2b2b2b" textLength="9.56" lengthAdjust="spacingAndGlyphs">$</text>
<text x="1989.96" y="134.50" font-size="17" fill="#2b2b2b" textLength="64.48" lengthAdjust="spacingAndGlyphs">1,000.00</text>
<text x="2073.53" y="134.50" font-size="17" fill="#2b2b2b" textLength="9.56" lengthAdjust="spacingAndGlyphs">$</text>
<text x="2109.73" y="134.50" font-size="17" fill="#2b2b2b" textLength="64.48" lengthAdjust="spacingAndGlyphs">1,000.00</text>
<text x="2193.30" y="134.50" font-size="17" fill="#ffffff" textLength="9.56" lengthAdjust="spacingAndGlyphs">$</text>
<text x="2228.17" y="134.50" font-size="17" fill="#ffffff" textLength="65.82" lengthAdjust="spacingAndGlyphs">3,000.00</text>
<text x="2313.25" y="135.40" font-size="16.6" font-weight="bold" fill="#000000" textLength="9.92" lengthAdjust="spacingAndGlyphs">$</text>
<text x="2361.19" y="135.40" font-size="16.4" font-weight="bold" fill="#000000" textLength="73.62" lengthAdjust="spacingAndGlyphs">12,000.00</text>
<text x="312.60" y="167.13" font-size="17" fill="#2b2b2b" textLength="55.07" lengthAdjust="spacingAndGlyphs">Actual</text>
<text x="396.75" y="167.13" font-size="17" fill="#2b2b2b" textLength="9.56" lengthAdjust="spacingAndGlyphs">$</text>
<text x="445.72" y="167.13" font-size="17" fill="#2b2b2b" textLength="51.79" lengthAdjust="spacingAndGlyphs">500.00</text>
<text x="516.52" y="167.13" font-size="17" fill="#2b2b2b" textLength="9.56" lengthAdjust="spacingAndGlyphs">$</text>
<text x="566.00" y="167.13" font-size="17" fill="#2b2b2b" textLength="51.28" lengthAdjust="spacingAndGlyphs">700.00</text>
<text x="636.29" y="167.13" font-size="17" fill="#2b2b2b" textLength="9.56" lengthAdjust="spacingAndGlyphs">$</text>
<text x="672.49" y="167.13" font-size="17" fill="#2b2b2b" textLength="64.48" lengthAdjust="spacingAndGlyphs">1,100.00</text>
<text x="756.06" y="167.13" font-size="17" fill="#1c2a3a" textLength="9.56" lengthAdjust="spacingAndGlyphs">$</text>
<text x="791.44" y="167.13" font-size="17" fill="#1c2a3a" textLength="65.31" lengthAdjust="spacingAndGlyphs">2,300.00</text>
<text x="875.83" y="167.13" font-size="17" fill="#2b2b2b" textLength="9.56" lengthAdjust="spacingAndGlyphs">$</text>
<text x="924.80" y="167.13" font-size="17" fill="#2b2b2b" textLength="51.79" lengthAdjust="spacingAndGlyphs">500.00</text>
<text x="995.60" y="167.13" font-size="17" fill="#2b2b2b" textLength="9.56" lengthAdjust="spacingAndGlyphs">$</text>
<text x="1045.08" y="167.13" font-size="17" fill="#2b2b2b" textLength="51.28" lengthAdjust="spacingAndGlyphs">700.00</text>
<text x="1115.37" y="167.13" font-size="17" fill="#2b2b2b" textLength="9.56" lengthAdjust="spacingAndGlyphs">$</text>
<text x="1151.57" y="167.13" font-size="17" fill="#2b2b2b" textLength="64.48" lengthAdjust="spacingAndGlyphs">1,100.00</text>
<text x="1235.14" y="167.13" font-size="17" fill="#f2f6fb" textLength="9.56" lengthAdjust="spacingAndGlyphs">$</text>
<text x="1270.52" y="167.13" font-size="17" fill="#f2f6fb" textLength="65.31" lengthAdjust="spacingAndGlyphs">2,300.00</text>
<text x="1354.91" y="167.13" font-size="17" fill="#2b2b2b" textLength="9.56" lengthAdjust="spacingAndGlyphs">$</text>
<text x="1403.88" y="167.13" font-size="17" fill="#2b2b2b" textLength="51.79" lengthAdjust="spacingAndGlyphs">500.00</text>
<text x="1474.68" y="167.13" font-size="17" fill="#2b2b2b" textLength="9.56" lengthAdjust="spacingAndGlyphs">$</text>
<text x="1524.16" y="167.13" font-size="17" fill="#2b2b2b" textLength="51.28" lengthAdjust="spacingAndGlyphs">700.00</text>
<text x="1594.45" y="167.13" font-size="17" fill="#2b2b2b" textLength="9.56" lengthAdjust="spacingAndGlyphs">$</text>
<text x="1630.65" y="167.13" font-size="17" fill="#2b2b2b" textLength="64.48" lengthAdjust="spacingAndGlyphs">1,100.00</text>
<text x="1714.22" y="167.13" font-size="17" fill="#ffffff" textLength="9.56" lengthAdjust="spacingAndGlyphs">$</text>
<text x="1749.60" y="167.13" font-size="17" fill="#ffffff" textLength="65.31" lengthAdjust="spacingAndGlyphs">2,300.00</text>
<text x="1833.99" y="167.13" font-size="17" fill="#2b2b2b" textLength="9.56" lengthAdjust="spacingAndGlyphs">$</text>
<text x="1882.96" y="167.13" font-size="17" fill="#2b2b2b" textLength="51.79" lengthAdjust="spacingAndGlyphs">500.00</text>
<text x="1953.76" y="167.13" font-size="17" fill="#2b2b2b" textLength="9.56" lengthAdjust="spacingAndGlyphs">$</text>
<text x="2003.24" y="167.13" font-size="17" fill="#2b2b2b" textLength="51.28" lengthAdjust="spacingAndGlyphs">700.00</text>
<text x="2073.53" y="167.13" font-size="17" fill="#2b2b2b" textLength="9.56" lengthAdjust="spacingAndGlyphs">$</text>
<text x="2109.73" y="167.13" font-size="17" fill="#2b2b2b" textLength="64.48" lengthAdjust="spacingAndGlyphs">1,100.00</text>
<text x="2193.30" y="167.13" font-size="17" fill="#ffffff" textLength="9.56" lengthAdjust="spacingAndGlyphs">$</text>
<text x="2228.68" y="167.13" font-size="17" fill="#ffffff" textLength="65.31" lengthAdjust="spacingAndGlyphs">2,300.00</text>
<text x="2313.25" y="168.03" font-size="16.6" font-weight="bold" fill="#000000" textLength="9.92" lengthAdjust="spacingAndGlyphs">$</text>
<text x="2371.00" y="168.03" font-size="16.4" font-weight="bold" fill="#000000" textLength="63.68" lengthAdjust="spacingAndGlyphs">9,200.00</text>
<text x="147.10" y="199.76" font-size="17" fill="#2b2b2b" textLength="220.49" lengthAdjust="spacingAndGlyphs">Variance (auto-calculates)</text>
<text x="396.75" y="199.76" font-size="17" fill="#2b2b2b" textLength="9.56" lengthAdjust="spacingAndGlyphs">$</text>
<text x="439.89" y="199.76" font-size="17" fill="#2b2b2b" textLength="62.23" lengthAdjust="spacingAndGlyphs">(500.00)</text>
<text x="516.52" y="199.76" font-size="17" fill="#2b2b2b" textLength="9.56" lengthAdjust="spacingAndGlyphs">$</text>
<text x="559.25" y="199.76" font-size="17" fill="#2b2b2b" textLength="62.65" lengthAdjust="spacingAndGlyphs">(300.00)</text>
<text x="636.29" y="199.76" font-size="17" fill="#2b2b2b" textLength="9.56" lengthAdjust="spacingAndGlyphs">$</text>
<text x="686.29" y="199.76" font-size="17" fill="#2b2b2b" textLength="50.75" lengthAdjust="spacingAndGlyphs">100.00</text>
<text x="756.24" y="200.66" font-size="16.6" font-weight="bold" fill="#000000" textLength="9.92" lengthAdjust="spacingAndGlyphs">$</text>
<text x="796.37" y="200.66" font-size="16.4" font-weight="bold" fill="#000000" textLength="65.90" lengthAdjust="spacingAndGlyphs">(700.00)</text>
<text x="875.83" y="199.76" font-size="17" fill="#2b2b2b" textLength="9.56" lengthAdjust="spacingAndGlyphs">$</text>
<text x="918.97" y="199.76" font-size="17" fill="#2b2b2b" textLength="62.23" lengthAdjust="spacingAndGlyphs">(500.00)</text>
<text x="995.60" y="199.76" font-size="17" fill="#2b2b2b" textLength="9.56" lengthAdjust="spacingAndGlyphs">$</text>
<text x="1038.33" y="199.76" font-size="17" fill="#2b2b2b" textLength="62.65" lengthAdjust="spacingAndGlyphs">(300.00)</text>
<text x="1115.37" y="199.76" font-size="17" fill="#2b2b2b" textLength="9.56" lengthAdjust="spacingAndGlyphs">$</text>
<text x="1165.37" y="199.76" font-size="17" fill="#2b2b2b" textLength="50.75" lengthAdjust="spacingAndGlyphs">100.00</text>
<text x="1235.32" y="200.66" font-size="16.6" font-weight="bold" fill="#000000" textLength="9.92" lengthAdjust="spacingAndGlyphs">$</text>
<text x="1275.45" y="200.66" font-size="16.4" font-weight="bold" fill="#000000" textLength="65.90" lengthAdjust="spacingAndGlyphs">(700.00)</text>
<text x="1354.91" y="199.76" font-size="17" fill="#2b2b2b" textLength="9.56" lengthAdjust="spacingAndGlyphs">$</text>
<text x="1398.05" y="199.76" font-size="17" fill="#2b2b2b" textLength="62.23" lengthAdjust="spacingAndGlyphs">(500.00)</text>
<text x="1474.68" y="199.76" font-size="17" fill="#2b2b2b" textLength="9.56" lengthAdjust="spacingAndGlyphs">$</text>
<text x="1517.41" y="199.76" font-size="17" fill="#2b2b2b" textLength="62.65" lengthAdjust="spacingAndGlyphs">(300.00)</text>
<text x="1594.45" y="199.76" font-size="17" fill="#2b2b2b" textLength="9.56" lengthAdjust="spacingAndGlyphs">$</text>
<text x="1644.45" y="199.76" font-size="17" fill="#2b2b2b" textLength="50.75" lengthAdjust="spacingAndGlyphs">100.00</text>
<text x="1714.40" y="200.66" font-size="16.6" font-weight="bold" fill="#000000" textLength="9.92" lengthAdjust="spacingAndGlyphs">$</text>
<text x="1754.53" y="200.66" font-size="16.4" font-weight="bold" fill="#000000" textLength="65.90" lengthAdjust="spacingAndGlyphs">(700.00)</text>
<text x="1833.99" y="199.76" font-size="17" fill="#2b2b2b" textLength="9.56" lengthAdjust="spacingAndGlyphs">$</text>
<text x="1877.13" y="199.76" font-size="17" fill="#2b2b2b" textLength="62.23" lengthAdjust="spacingAndGlyphs">(500.00)</text>
<text x="1953.76" y="199.76" font-size="17" fill="#2b2b2b" textLength="9.56" lengthAdjust="spacingAndGlyphs">$</text>
<text x="1996.49" y="199.76" font-size="17" fill="#2b2b2b" textLength="62.65" lengthAdjust="spacingAndGlyphs">(300.00)</text>
<text x="2073.53" y="199.76" font-size="17" fill="#2b2b2b" textLength="9.56" lengthAdjust="spacingAndGlyphs">$</text>
<text x="2123.53" y="199.76" font-size="17" fill="#2b2b2b" textLength="50.75" lengthAdjust="spacingAndGlyphs">100.00</text>
<text x="2193.48" y="200.66" font-size="16.6" font-weight="bold" fill="#000000" textLength="9.92" lengthAdjust="spacingAndGlyphs">$</text>
<text x="2233.61" y="200.66" font-size="16.4" font-weight="bold" fill="#000000" textLength="65.90" lengthAdjust="spacingAndGlyphs">(700.00)</text>
<text x="2313.25" y="200.66" font-size="16.6" font-weight="bold" fill="#000000" textLength="9.92" lengthAdjust="spacingAndGlyphs">$</text>
<text x="2363.21" y="200.66" font-size="16.4" font-weight="bold" fill="#000000" textLength="78.99" lengthAdjust="spacingAndGlyphs">(2,800.00)</text>
<text x="198.57" y="232.39" font-size="17" fill="#2b2b2b" textLength="169.22" lengthAdjust="spacingAndGlyphs">Previous Year Actual</text>
<text x="396.75" y="232.39" font-size="17" fill="#2b2b2b" textLength="9.56" lengthAdjust="spacingAndGlyphs">$</text>
<text x="446.23" y="232.39" font-size="17" fill="#2b2b2b" textLength="51.28" lengthAdjust="spacingAndGlyphs">700.00</text>
<text x="516.52" y="232.39" font-size="17" fill="#2b2b2b" textLength="9.56" lengthAdjust="spacingAndGlyphs">$</text>
<text x="552.72" y="232.39" font-size="17" fill="#2b2b2b" textLength="64.48" lengthAdjust="spacingAndGlyphs">1,100.00</text>
<text x="636.29" y="232.39" font-size="17" fill="#2b2b2b" textLength="9.56" lengthAdjust="spacingAndGlyphs">$</text>
<text x="685.26" y="232.39" font-size="17" fill="#2b2b2b" textLength="51.79" lengthAdjust="spacingAndGlyphs">800.00</text>
<text x="756.06" y="232.39" font-size="17" fill="#1c2a3a" textLength="9.56" lengthAdjust="spacingAndGlyphs">$</text>
<text x="791.44" y="232.39" font-size="17" fill="#1c2a3a" textLength="65.31" lengthAdjust="spacingAndGlyphs">2,600.00</text>
<text x="875.83" y="232.39" font-size="17" fill="#2b2b2b" textLength="9.56" lengthAdjust="spacingAndGlyphs">$</text>
<text x="925.31" y="232.39" font-size="17" fill="#2b2b2b" textLength="51.28" lengthAdjust="spacingAndGlyphs">700.00</text>
<text x="995.60" y="232.39" font-size="17" fill="#2b2b2b" textLength="9.56" lengthAdjust="spacingAndGlyphs">$</text>
<text x="1031.80" y="232.39" font-size="17" fill="#2b2b2b" textLength="64.48" lengthAdjust="spacingAndGlyphs">1,100.00</text>
<text x="1115.37" y="232.39" font-size="17" fill="#2b2b2b" textLength="9.56" lengthAdjust="spacingAndGlyphs">$</text>
<text x="1164.34" y="232.39" font-size="17" fill="#2b2b2b" textLength="51.79" lengthAdjust="spacingAndGlyphs">800.00</text>
<text x="1235.14" y="232.39" font-size="17" fill="#f2f6fb" textLength="9.56" lengthAdjust="spacingAndGlyphs">$</text>
<text x="1270.52" y="232.39" font-size="17" fill="#f2f6fb" textLength="65.31" lengthAdjust="spacingAndGlyphs">2,600.00</text>
<text x="1354.91" y="232.39" font-size="17" fill="#2b2b2b" textLength="9.56" lengthAdjust="spacingAndGlyphs">$</text>
<text x="1404.39" y="232.39" font-size="17" fill="#2b2b2b" textLength="51.28" lengthAdjust="spacingAndGlyphs">700.00</text>
<text x="1474.68" y="232.39" font-size="17" fill="#2b2b2b" textLength="9.56" lengthAdjust="spacingAndGlyphs">$</text>
<text x="1510.88" y="232.39" font-size="17" fill="#2b2b2b" textLength="64.48" lengthAdjust="spacingAndGlyphs">1,100.00</text>
<text x="1594.45" y="232.39" font-size="17" fill="#2b2b2b" textLength="9.56" lengthAdjust="spacingAndGlyphs">$</text>
<text x="1643.42" y="232.39" font-size="17" fill="#2b2b2b" textLength="51.79" lengthAdjust="spacingAndGlyphs">800.00</text>
<text x="1714.22" y="232.39" font-size="17" fill="#ffffff" textLength="9.56" lengthAdjust="spacingAndGlyphs">$</text>
<text x="1749.60" y="232.39" font-size="17" fill="#ffffff" textLength="65.31" lengthAdjust="spacingAndGlyphs">2,600.00</text>
<text x="1833.99" y="232.39" font-size="17" fill="#2b2b2b" textLength="9.56" lengthAdjust="spacingAndGlyphs">$</text>
<text x="1883.47" y="232.39" font-size="17" fill="#2b2b2b" textLength="51.28" lengthAdjust="spacingAndGlyphs">700.00</text>
<text x="1953.76" y="232.39" font-size="17" fill="#2b2b2b" textLength="9.56" lengthAdjust="spacingAndGlyphs">$</text>
<text x="1989.96" y="232.39" font-size="17" fill="#2b2b2b" textLength="64.48" lengthAdjust="spacingAndGlyphs">1,100.00</text>
<text x="2073.53" y="232.39" font-size="17" fill="#2b2b2b" textLength="9.56" lengthAdjust="spacingAndGlyphs">$</text>
<text x="2122.50" y="232.39" font-size="17" fill="#2b2b2b" textLength="51.79" lengthAdjust="spacingAndGlyphs">800.00</text>
<text x="2193.30" y="232.39" font-size="17" fill="#ffffff" textLength="9.56" lengthAdjust="spacingAndGlyphs">$</text>
<text x="2228.68" y="232.39" font-size="17" fill="#ffffff" textLength="65.31" lengthAdjust="spacingAndGlyphs">2,600.00</text>
<text x="2313.25" y="233.29" font-size="16.6" font-weight="bold" fill="#000000" textLength="9.92" lengthAdjust="spacingAndGlyphs">$</text>
<text x="2361.19" y="233.29" font-size="16.4" font-weight="bold" fill="#000000" textLength="73.62" lengthAdjust="spacingAndGlyphs">10,400.00</text>
<text x="177.98" y="265.02" font-size="17" fill="#2b2b2b" textLength="189.29" lengthAdjust="spacingAndGlyphs">Previous Year Variance</text>
<text x="396.75" y="265.02" font-size="17" fill="#2b2b2b" textLength="9.56" lengthAdjust="spacingAndGlyphs">$</text>
<text x="439.89" y="265.02" font-size="17" fill="#2b2b2b" textLength="62.23" lengthAdjust="spacingAndGlyphs">(200.00)</text>
<text x="516.52" y="265.02" font-size="17" fill="#2b2b2b" textLength="9.56" lengthAdjust="spacingAndGlyphs">$</text>
<text x="559.66" y="265.02" font-size="17" fill="#2b2b2b" textLength="62.23" lengthAdjust="spacingAndGlyphs">(400.00)</text>
<text x="636.29" y="265.02" font-size="17" fill="#2b2b2b" textLength="9.56" lengthAdjust="spacingAndGlyphs">$</text>
<text x="685.26" y="265.02" font-size="17" fill="#2b2b2b" textLength="51.79" lengthAdjust="spacingAndGlyphs">300.00</text>
<text x="756.06" y="265.02" font-size="17" fill="#1c2a3a" textLength="9.56" lengthAdjust="spacingAndGlyphs">$</text>
<text x="798.79" y="265.02" font-size="17" fill="#1c2a3a" textLength="62.65" lengthAdjust="spacingAndGlyphs">(300.00)</text>
<text x="875.83" y="265.02" font-size="17" fill="#2b2b2b" textLength="9.56" lengthAdjust="spacingAndGlyphs">$</text>
<text x="918.97" y="265.02" font-size="17" fill="#2b2b2b" textLength="62.23" lengthAdjust="spacingAndGlyphs">(200.00)</text>
<text x="995.60" y="265.02" font-size="17" fill="#2b2b2b" textLength="9.56" lengthAdjust="spacingAndGlyphs">$</text>
<text x="1038.74" y="265.02" font-size="17" fill="#2b2b2b" textLength="62.23" lengthAdjust="spacingAndGlyphs">(400.00)</text>
<text x="1115.37" y="265.02" font-size="17" fill="#2b2b2b" textLength="9.56" lengthAdjust="spacingAndGlyphs">$</text>
<text x="1164.34" y="265.02" font-size="17" fill="#2b2b2b" textLength="51.79" lengthAdjust="spacingAndGlyphs">300.00</text>
<text x="1235.14" y="265.02" font-size="17" fill="#f2f6fb" textLength="9.56" lengthAdjust="spacingAndGlyphs">$</text>
<text x="1277.87" y="265.02" font-size="17" fill="#f2f6fb" textLength="62.65" lengthAdjust="spacingAndGlyphs">(300.00)</text>
<text x="1354.91" y="265.02" font-size="17" fill="#2b2b2b" textLength="9.56" lengthAdjust="spacingAndGlyphs">$</text>
<text x="1398.05" y="265.02" font-size="17" fill="#2b2b2b" textLength="62.23" lengthAdjust="spacingAndGlyphs">(200.00)</text>
<text x="1474.68" y="265.02" font-size="17" fill="#2b2b2b" textLength="9.56" lengthAdjust="spacingAndGlyphs">$</text>
<text x="1517.82" y="265.02" font-size="17" fill="#2b2b2b" textLength="62.23" lengthAdjust="spacingAndGlyphs">(400.00)</text>
<text x="1594.45" y="265.02" font-size="17" fill="#2b2b2b" textLength="9.56" lengthAdjust="spacingAndGlyphs">$</text>
<text x="1643.42" y="265.02" font-size="17" fill="#2b2b2b" textLength="51.79" lengthAdjust="spacingAndGlyphs">300.00</text>
<text x="1714.22" y="265.02" font-size="17" fill="#ffffff" textLength="9.56" lengthAdjust="spacingAndGlyphs">$</text>
<text x="1756.95" y="265.02" font-size="17" fill="#ffffff" textLength="62.65" lengthAdjust="spacingAndGlyphs">(300.00)</text>
<text x="1833.99" y="265.02" font-size="17" fill="#2b2b2b" textLength="9.56" lengthAdjust="spacingAndGlyphs">$</text>
<text x="1877.13" y="265.02" font-size="17" fill="#2b2b2b" textLength="62.23" lengthAdjust="spacingAndGlyphs">(200.00)</text>
<text x="1953.76" y="265.02" font-size="17" fill="#2b2b2b" textLength="9.56" lengthAdjust="spacingAndGlyphs">$</text>
<text x="1996.90" y="265.02" font-size="17" fill="#2b2b2b" textLength="62.23" lengthAdjust="spacingAndGlyphs">(400.00)</text>
<text x="2073.53" y="265.02" font-size="17" fill="#2b2b2b" textLength="9.56" lengthAdjust="spacingAndGlyphs">$</text>
<text x="2122.50" y="265.02" font-size="17" fill="#2b2b2b" textLength="51.79" lengthAdjust="spacingAndGlyphs">300.00</text>
<text x="2193.30" y="265.02" font-size="17" fill="#ffffff" textLength="9.56" lengthAdjust="spacingAndGlyphs">$</text>
<text x="2236.03" y="265.02" font-size="17" fill="#ffffff" textLength="62.65" lengthAdjust="spacingAndGlyphs">(300.00)</text>
<text x="2313.25" y="265.92" font-size="16.6" font-weight="bold" fill="#000000" textLength="9.92" lengthAdjust="spacingAndGlyphs">$</text>
<text x="2363.21" y="265.92" font-size="16.4" font-weight="bold" fill="#000000" textLength="78.99" lengthAdjust="spacingAndGlyphs">(1,200.00)</text>
<text x="19.51" y="299.15" font-size="17" font-weight="bold" fill="#000000" textLength="173.23" lengthAdjust="spacingAndGlyphs">Network Infrastructure</text>
<text x="20.01" y="323.45" font-size="17" font-weight="bold" fill="#000000" textLength="146.74" lengthAdjust="spacingAndGlyphs">(Routers, Switches)</text>
<text x="281.76" y="311.75" font-size="17.6" fill="#5aa84f" textLength="52.31" lengthAdjust="spacingAndGlyphs">CapEx</text>
<text x="307.45" y="354.95" font-size="17" fill="#2b2b2b" textLength="59.19" lengthAdjust="spacingAndGlyphs">Budget</text>
<text x="396.75" y="354.95" font-size="17" fill="#2b2b2b" textLength="9.56" lengthAdjust="spacingAndGlyphs">$</text>
<text x="432.95" y="354.95" font-size="17" fill="#2b2b2b" textLength="64.48" lengthAdjust="spacingAndGlyphs">1,000.00</text>
<text x="516.52" y="354.95" font-size="17" fill="#2b2b2b" textLength="9.56" lengthAdjust="spacingAndGlyphs">$</text>
<text x="552.72" y="354.95" font-size="17" fill="#2b2b2b" textLength="64.48" lengthAdjust="spacingAndGlyphs">1,000.00</text>
<text x="636.29" y="354.95" font-size="17" fill="#2b2b2b" textLength="9.56" lengthAdjust="spacingAndGlyphs">$</text>
<text x="672.49" y="354.95" font-size="17" fill="#2b2b2b" textLength="64.48" lengthAdjust="spacingAndGlyphs">1,000.00</text>
<text x="756.06" y="354.95" font-size="17" fill="#1c2a3a" textLength="9.56" lengthAdjust="spacingAndGlyphs">$</text>
<text x="790.93" y="354.95" font-size="17" fill="#1c2a3a" textLength="65.82" lengthAdjust="spacingAndGlyphs">3,000.00</text>
<text x="875.83" y="354.95" font-size="17" fill="#2b2b2b" textLength="9.56" lengthAdjust="spacingAndGlyphs">$</text>
<text x="912.03" y="354.95" font-size="17" fill="#2b2b2b" textLength="64.48" lengthAdjust="spacingAndGlyphs">1,000.00</text>
<text x="995.60" y="354.95" font-size="17" fill="#2b2b2b" textLength="9.56" lengthAdjust="spacingAndGlyphs">$</text>
<text x="1031.80" y="354.95" font-size="17" fill="#2b2b2b" textLength="64.48" lengthAdjust="spacingAndGlyphs">1,000.00</text>
<text x="1115.37" y="354.95" font-size="17" fill="#2b2b2b" textLength="9.56" lengthAdjust="spacingAndGlyphs">$</text>
<text x="1151.57" y="354.95" font-size="17" fill="#2b2b2b" textLength="64.48" lengthAdjust="spacingAndGlyphs">1,000.00</text>
<text x="1235.14" y="354.95" font-size="17" fill="#f2f6fb" textLength="9.56" lengthAdjust="spacingAndGlyphs">$</text>
<text x="1270.01" y="354.95" font-size="17" fill="#f2f6fb" textLength="65.82" lengthAdjust="spacingAndGlyphs">3,000.00</text>
<text x="1354.91" y="354.95" font-size="17" fill="#2b2b2b" textLength="9.56" lengthAdjust="spacingAndGlyphs">$</text>
<text x="1391.11" y="354.95" font-size="17" fill="#2b2b2b" textLength="64.48" lengthAdjust="spacingAndGlyphs">1,000.00</text>
<text x="1474.68" y="354.95" font-size="17" fill="#2b2b2b" textLength="9.56" lengthAdjust="spacingAndGlyphs">$</text>
<text x="1510.88" y="354.95" font-size="17" fill="#2b2b2b" textLength="64.48" lengthAdjust="spacingAndGlyphs">1,000.00</text>
<text x="1594.45" y="354.95" font-size="17" fill="#2b2b2b" textLength="9.56" lengthAdjust="spacingAndGlyphs">$</text>
<text x="1630.65" y="354.95" font-size="17" fill="#2b2b2b" textLength="64.48" lengthAdjust="spacingAndGlyphs">1,000.00</text>
<text x="1714.22" y="354.95" font-size="17" fill="#ffffff" textLength="9.56" lengthAdjust="spacingAndGlyphs">$</text>
<text x="1749.09" y="354.95" font-size="17" fill="#ffffff" textLength="65.82" lengthAdjust="spacingAndGlyphs">3,000.00</text>
<text x="1833.99" y="354.95" font-size="17" fill="#2b2b2b" textLength="9.56" lengthAdjust="spacingAndGlyphs">$</text>
<text x="1870.19" y="354.95" font-size="17" fill="#2b2b2b" textLength="64.48" lengthAdjust="spacingAndGlyphs">1,000.00</text>
<text x="1953.76" y="354.95" font-size="17" fill="#2b2b2b" textLength="9.56" lengthAdjust="spacingAndGlyphs">$</text>
<text x="1989.96" y="354.95" font-size="17" fill="#2b2b2b" textLength="64.48" lengthAdjust="spacingAndGlyphs">1,000.00</text>
<text x="2073.53" y="354.95" font-size="17" fill="#2b2b2b" textLength="9.56" lengthAdjust="spacingAndGlyphs">$</text>
<text x="2109.73" y="354.95" font-size="17" fill="#2b2b2b" textLength="64.48" lengthAdjust="spacingAndGlyphs">1,000.00</text>
<text x="2193.30" y="354.95" font-size="17" fill="#ffffff" textLength="9.56" lengthAdjust="spacingAndGlyphs">$</text>
<text x="2228.17" y="354.95" font-size="17" fill="#ffffff" textLength="65.82" lengthAdjust="spacingAndGlyphs">3,000.00</text>
<text x="2313.25" y="355.85" font-size="16.6" font-weight="bold" fill="#000000" textLength="9.92" lengthAdjust="spacingAndGlyphs">$</text>
<text x="2361.19" y="355.85" font-size="16.4" font-weight="bold" fill="#000000" textLength="73.62" lengthAdjust="spacingAndGlyphs">12,000.00</text>
<text x="312.60" y="387.58" font-size="17" fill="#2b2b2b" textLength="55.07" lengthAdjust="spacingAndGlyphs">Actual</text>
<text x="396.75" y="387.58" font-size="17" fill="#2b2b2b" textLength="9.56" lengthAdjust="spacingAndGlyphs">$</text>
<text x="445.72" y="387.58" font-size="17" fill="#2b2b2b" textLength="51.79" lengthAdjust="spacingAndGlyphs">500.00</text>
<text x="516.52" y="387.58" font-size="17" fill="#2b2b2b" textLength="9.56" lengthAdjust="spacingAndGlyphs">$</text>
<text x="566.00" y="387.58" font-size="17" fill="#2b2b2b" textLength="51.28" lengthAdjust="spacingAndGlyphs">700.00</text>
<text x="636.29" y="387.58" font-size="17" fill="#2b2b2b" textLength="9.56" lengthAdjust="spacingAndGlyphs">$</text>
<text x="672.49" y="387.58" font-size="17" fill="#2b2b2b" textLength="64.48" lengthAdjust="spacingAndGlyphs">1,100.00</text>
<text x="756.06" y="387.58" font-size="17" fill="#1c2a3a" textLength="9.56" lengthAdjust="spacingAndGlyphs">$</text>
<text x="791.44" y="387.58" font-size="17" fill="#1c2a3a" textLength="65.31" lengthAdjust="spacingAndGlyphs">2,300.00</text>
<text x="875.83" y="387.58" font-size="17" fill="#2b2b2b" textLength="9.56" lengthAdjust="spacingAndGlyphs">$</text>
<text x="924.80" y="387.58" font-size="17" fill="#2b2b2b" textLength="51.79" lengthAdjust="spacingAndGlyphs">500.00</text>
<text x="995.60" y="387.58" font-size="17" fill="#2b2b2b" textLength="9.56" lengthAdjust="spacingAndGlyphs">$</text>
<text x="1045.08" y="387.58" font-size="17" fill="#2b2b2b" textLength="51.28" lengthAdjust="spacingAndGlyphs">700.00</text>
<text x="1115.37" y="387.58" font-size="17" fill="#2b2b2b" textLength="9.56" lengthAdjust="spacingAndGlyphs">$</text>
<text x="1151.57" y="387.58" font-size="17" fill="#2b2b2b" textLength="64.48" lengthAdjust="spacingAndGlyphs">1,100.00</text>
<text x="1235.14" y="387.58" font-size="17" fill="#f2f6fb" textLength="9.56" lengthAdjust="spacingAndGlyphs">$</text>
<text x="1270.52" y="387.58" font-size="17" fill="#f2f6fb" textLength="65.31" lengthAdjust="spacingAndGlyphs">2,300.00</text>
<text x="1354.91" y="387.58" font-size="17" fill="#2b2b2b" textLength="9.56" lengthAdjust="spacingAndGlyphs">$</text>
<text x="1403.88" y="387.58" font-size="17" fill="#2b2b2b" textLength="51.79" lengthAdjust="spacingAndGlyphs">500.00</text>
<text x="1474.68" y="387.58" font-size="17" fill="#2b2b2b" textLength="9.56" lengthAdjust="spacingAndGlyphs">$</text>
<text x="1524.16" y="387.58" font-size="17" fill="#2b2b2b" textLength="51.28" lengthAdjust="spacingAndGlyphs">700.00</text>
<text x="1594.45" y="387.58" font-size="17" fill="#2b2b2b" textLength="9.56" lengthAdjust="spacingAndGlyphs">$</text>
<text x="1630.65" y="387.58" font-size="17" fill="#2b2b2b" textLength="64.48" lengthAdjust="spacingAndGlyphs">1,100.00</text>
<text x="1714.22" y="387.58" font-size="17" fill="#ffffff" textLength="9.56" lengthAdjust="spacingAndGlyphs">$</text>
<text x="1749.60" y="387.58" font-size="17" fill="#ffffff" textLength="65.31" lengthAdjust="spacingAndGlyphs">2,300.00</text>
<text x="1833.99" y="387.58" font-size="17" fill="#2b2b2b" textLength="9.56" lengthAdjust="spacingAndGlyphs">$</text>
<text x="1882.96" y="387.58" font-size="17" fill="#2b2b2b" textLength="51.79" lengthAdjust="spacingAndGlyphs">500.00</text>
<text x="1953.76" y="387.58" font-size="17" fill="#2b2b2b" textLength="9.56" lengthAdjust="spacingAndGlyphs">$</text>
<text x="2003.24" y="387.58" font-size="17" fill="#2b2b2b" textLength="51.28" lengthAdjust="spacingAndGlyphs">700.00</text>
<text x="2073.53" y="387.58" font-size="17" fill="#2b2b2b" textLength="9.56" lengthAdjust="spacingAndGlyphs">$</text>
<text x="2109.73" y="387.58" font-size="17" fill="#2b2b2b" textLength="64.48" lengthAdjust="spacingAndGlyphs">1,100.00</text>
<text x="2193.30" y="387.58" font-size="17" fill="#ffffff" textLength="9.56" lengthAdjust="spacingAndGlyphs">$</text>
<text x="2228.68" y="387.58" font-size="17" fill="#ffffff" textLength="65.31" lengthAdjust="spacingAndGlyphs">2,300.00</text>
<text x="2313.25" y="388.48" font-size="16.6" font-weight="bold" fill="#000000" textLength="9.92" lengthAdjust="spacingAndGlyphs">$</text>
<text x="2371.00" y="388.48" font-size="16.4" font-weight="bold" fill="#000000" textLength="63.68" lengthAdjust="spacingAndGlyphs">9,200.00</text>
<text x="147.10" y="420.21" font-size="17" fill="#2b2b2b" textLength="220.49" lengthAdjust="spacingAndGlyphs">Variance (auto-calculates)</text>
<text x="396.75" y="420.21" font-size="17" fill="#2b2b2b" textLength="9.56" lengthAdjust="spacingAndGlyphs">$</text>
<text x="439.89" y="420.21" font-size="17" fill="#2b2b2b" textLength="62.23" lengthAdjust="spacingAndGlyphs">(500.00)</text>
<text x="516.52" y="420.21" font-size="17" fill="#2b2b2b" textLength="9.56" lengthAdjust="spacingAndGlyphs">$</text>
<text x="559.25" y="420.21" font-size="17" fill="#2b2b2b" textLength="62.65" lengthAdjust="spacingAndGlyphs">(300.00)</text>
<text x="636.29" y="420.21" font-size="17" fill="#2b2b2b" textLength="9.56" lengthAdjust="spacingAndGlyphs">$</text>
<text x="686.29" y="420.21" font-size="17" fill="#2b2b2b" textLength="50.75" lengthAdjust="spacingAndGlyphs">100.00</text>
<text x="756.24" y="421.11" font-size="16.6" font-weight="bold" fill="#000000" textLength="9.92" lengthAdjust="spacingAndGlyphs">$</text>
<text x="796.37" y="421.11" font-size="16.4" font-weight="bold" fill="#000000" textLength="65.90" lengthAdjust="spacingAndGlyphs">(700.00)</text>
<text x="875.83" y="420.21" font-size="17" fill="#2b2b2b" textLength="9.56" lengthAdjust="spacingAndGlyphs">$</text>
<text x="918.97" y="420.21" font-size="17" fill="#2b2b2b" textLength="62.23" lengthAdjust="spacingAndGlyphs">(500.00)</text>
<text x="995.60" y="420.21" font-size="17" fill="#2b2b2b" textLength="9.56" lengthAdjust="spacingAndGlyphs">$</text>
<text x="1038.33" y="420.21" font-size="17" fill="#2b2b2b" textLength="62.65" lengthAdjust="spacingAndGlyphs">(300.00)</text>
<text x="1115.37" y="420.21" font-size="17" fill="#2b2b2b" textLength="9.56" lengthAdjust="spacingAndGlyphs">$</text>
<text x="1165.37" y="420.21" font-size="17" fill="#2b2b2b" textLength="50.75" lengthAdjust="spacingAndGlyphs">100.00</text>
<text x="1235.32" y="421.11" font-size="16.6" font-weight="bold" fill="#000000" textLength="9.92" lengthAdjust="spacingAndGlyphs">$</text>
<text x="1275.45" y="421.11" font-size="16.4" font-weight="bold" fill="#000000" textLength="65.90" lengthAdjust="spacingAndGlyphs">(700.00)</text>
<text x="1354.91" y="420.21" font-size="17" fill="#2b2b2b" textLength="9.56" lengthAdjust="spacingAndGlyphs">$</text>
<text x="1398.05" y="420.21" font-size="17" fill="#2b2b2b" textLength="62.23" lengthAdjust="spacingAndGlyphs">(500.00)</text>
<text x="1474.68" y="420.21" font-size="17" fill="#2b2b2b" textLength="9.56" lengthAdjust="spacingAndGlyphs">$</text>
<text x="1517.41" y="420.21" font-size="17" fill="#2b2b2b" textLength="62.65" lengthAdjust="spacingAndGlyphs">(300.00)</text>
<text x="1594.45" y="420.21" font-size="17" fill="#2b2b2b" textLength="9.56" lengthAdjust="spacingAndGlyphs">$</text>
<text x="1644.45" y="420.21" font-size="17" fill="#2b2b2b" textLength="50.75" lengthAdjust="spacingAndGlyphs">100.00</text>
<text x="1714.40" y="421.11" font-size="16.6" font-weight="bold" fill="#000000" textLength="9.92" lengthAdjust="spacingAndGlyphs">$</text>
<text x="1754.53" y="421.11" font-size="16.4" font-weight="bold" fill="#000000" textLength="65.90" lengthAdjust="spacingAndGlyphs">(700.00)</text>
<text x="1833.99" y="420.21" font-size="17" fill="#2b2b2b" textLength="9.56" lengthAdjust="spacingAndGlyphs">$</text>
<text x="1877.13" y="420.21" font-size="17" fill="#2b2b2b" textLength="62.23" lengthAdjust="spacingAndGlyphs">(500.00)</text>
<text x="1953.76" y="420.21" font-size="17" fill="#2b2b2b" textLength="9.56" lengthAdjust="spacingAndGlyphs">$</text>
<text x="1996.49" y="420.21" font-size="17" fill="#2b2b2b" textLength="62.65" lengthAdjust="spacingAndGlyphs">(300.00)</text>
<text x="2073.53" y="420.21" font-size="17" fill="#2b2b2b" textLength="9.56" lengthAdjust="spacingAndGlyphs">$</text>
<text x="2123.53" y="420.21" font-size="17" fill="#2b2b2b" textLength="50.75" lengthAdjust="spacingAndGlyphs">100.00</text>
<text x="2193.48" y="421.11" font-size="16.6" font-weight="bold" fill="#000000" textLength="9.92" lengthAdjust="spacingAndGlyphs">$</text>
<text x="2233.61" y="421.11" font-size="16.4" font-weight="bold" fill="#000000" textLength="65.90" lengthAdjust="spacingAndGlyphs">(700.00)</text>
<text x="2313.25" y="421.11" font-size="16.6" font-weight="bold" fill="#000000" textLength="9.92" lengthAdjust="spacingAndGlyphs">$</text>
<text x="2363.21" y="421.11" font-size="16.4" font-weight="bold" fill="#000000" textLength="78.99" lengthAdjust="spacingAndGlyphs">(2,800.00)</text>
<text x="198.57" y="452.84" font-size="17" fill="#2b2b2b" textLength="169.22" lengthAdjust="spacingAndGlyphs">Previous Year Actual</text>
<text x="396.75" y="452.84" font-size="17" fill="#2b2b2b" textLength="9.56" lengthAdjust="spacingAndGlyphs">$</text>
<text x="446.23" y="452.84" font-size="17" fill="#2b2b2b" textLength="51.28" lengthAdjust="spacingAndGlyphs">700.00</text>
<text x="516.52" y="452.84" font-size="17" fill="#2b2b2b" textLength="9.56" lengthAdjust="spacingAndGlyphs">$</text>
<text x="552.72" y="452.84" font-size="17" fill="#2b2b2b" textLength="64.48" lengthAdjust="spacingAndGlyphs">1,100.00</text>
<text x="636.29" y="452.84" font-size="17" fill="#2b2b2b" textLength="9.56" lengthAdjust="spacingAndGlyphs">$</text>
<text x="685.26" y="452.84" font-size="17" fill="#2b2b2b" textLength="51.79" lengthAdjust="spacingAndGlyphs">800.00</text>
<text x="756.06" y="452.84" font-size="17" fill="#1c2a3a" textLength="9.56" lengthAdjust="spacingAndGlyphs">$</text>
<text x="791.44" y="452.84" font-size="17" fill="#1c2a3a" textLength="65.31" lengthAdjust="spacingAndGlyphs">2,600.00</text>
<text x="875.83" y="452.84" font-size="17" fill="#2b2b2b" textLength="9.56" lengthAdjust="spacingAndGlyphs">$</text>
<text x="925.31" y="452.84" font-size="17" fill="#2b2b2b" textLength="51.28" lengthAdjust="spacingAndGlyphs">700.00</text>
<text x="995.60" y="452.84" font-size="17" fill="#2b2b2b" textLength="9.56" lengthAdjust="spacingAndGlyphs">$</text>
<text x="1031.80" y="452.84" font-size="17" fill="#2b2b2b" textLength="64.48" lengthAdjust="spacingAndGlyphs">1,100.00</text>
<text x="1115.37" y="452.84" font-size="17" fill="#2b2b2b" textLength="9.56" lengthAdjust="spacingAndGlyphs">$</text>
<text x="1164.34" y="452.84" font-size="17" fill="#2b2b2b" textLength="51.79" lengthAdjust="spacingAndGlyphs">800.00</text>
<text x="1235.14" y="452.84" font-size="17" fill="#f2f6fb" textLength="9.56" lengthAdjust="spacingAndGlyphs">$</text>
<text x="1270.52" y="452.84" font-size="17" fill="#f2f6fb" textLength="65.31" lengthAdjust="spacingAndGlyphs">2,600.00</text>
<text x="1354.91" y="452.84" font-size="17" fill="#2b2b2b" textLength="9.56" lengthAdjust="spacingAndGlyphs">$</text>
<text x="1404.39" y="452.84" font-size="17" fill="#2b2b2b" textLength="51.28" lengthAdjust="spacingAndGlyphs">700.00</text>
<text x="1474.68" y="452.84" font-size="17" fill="#2b2b2b" textLength="9.56" lengthAdjust="spacingAndGlyphs">$</text>
<text x="1510.88" y="452.84" font-size="17" fill="#2b2b2b" textLength="64.48" lengthAdjust="spacingAndGlyphs">1,100.00</text>
<text x="1594.45" y="452.84" font-size="17" fill="#2b2b2b" textLength="9.56" lengthAdjust="spacingAndGlyphs">$</text>
<text x="1643.42" y="452.84" font-size="17" fill="#2b2b2b" textLength="51.79" lengthAdjust="spacingAndGlyphs">800.00</text>
<text x="1714.22" y="452.84" font-size="17" fill="#ffffff" textLength="9.56" lengthAdjust="spacingAndGlyphs">$</text>
<text x="1749.60" y="452.84" font-size="17" fill="#ffffff" textLength="65.31" lengthAdjust="spacingAndGlyphs">2,600.00</text>
<text x="1833.99" y="452.84" font-size="17" fill="#2b2b2b" textLength="9.56" lengthAdjust="spacingAndGlyphs">$</text>
<text x="1883.47" y="452.84" font-size="17" fill="#2b2b2b" textLength="51.28" lengthAdjust="spacingAndGlyphs">700.00</text>
<text x="1953.76" y="452.84" font-size="17" fill="#2b2b2b" textLength="9.56" lengthAdjust="spacingAndGlyphs">$</text>
<text x="1989.96" y="452.84" font-size="17" fill="#2b2b2b" textLength="64.48" lengthAdjust="spacingAndGlyphs">1,100.00</text>
<text x="2073.53" y="452.84" font-size="17" fill="#2b2b2b" textLength="9.56" lengthAdjust="spacingAndGlyphs">$</text>
<text x="2122.50" y="452.84" font-size="17" fill="#2b2b2b" textLength="51.79" lengthAdjust="spacingAndGlyphs">800.00</text>
<text x="2193.30" y="452.84" font-size="17" fill="#ffffff" textLength="9.56" lengthAdjust="spacingAndGlyphs">$</text>
<text x="2228.68" y="452.84" font-size="17" fill="#ffffff" textLength="65.31" lengthAdjust="spacingAndGlyphs">2,600.00</text>
<text x="2313.25" y="453.74" font-size="16.6" font-weight="bold" fill="#000000" textLength="9.92" lengthAdjust="spacingAndGlyphs">$</text>
<text x="2361.19" y="453.74" font-size="16.4" font-weight="bold" fill="#000000" textLength="73.62" lengthAdjust="spacingAndGlyphs">10,400.00</text>
<text x="177.98" y="485.47" font-size="17" fill="#2b2b2b" textLength="189.29" lengthAdjust="spacingAndGlyphs">Previous Year Variance</text>
<text x="396.75" y="485.47" font-size="17" fill="#2b2b2b" textLength="9.56" lengthAdjust="spacingAndGlyphs">$</text>
<text x="439.89" y="485.47" font-size="17" fill="#2b2b2b" textLength="62.23" lengthAdjust="spacingAndGlyphs">(200.00)</text>
<text x="516.52" y="485.47" font-size="17" fill="#2b2b2b" textLength="9.56" lengthAdjust="spacingAndGlyphs">$</text>
<text x="559.66" y="485.47" font-size="17" fill="#2b2b2b" textLength="62.23" lengthAdjust="spacingAndGlyphs">(400.00)</text>
<text x="636.29" y="485.47" font-size="17" fill="#2b2b2b" textLength="9.56" lengthAdjust="spacingAndGlyphs">$</text>
<text x="685.26" y="485.47" font-size="17" fill="#2b2b2b" textLength="51.79" lengthAdjust="spacingAndGlyphs">300.00</text>
<text x="756.06" y="485.47" font-size="17" fill="#1c2a3a" textLength="9.56" lengthAdjust="spacingAndGlyphs">$</text>
<text x="798.79" y="485.47" font-size="17" fill="#1c2a3a" textLength="62.65" lengthAdjust="spacingAndGlyphs">(300.00)</text>
<text x="875.83" y="485.47" font-size="17" fill="#2b2b2b" textLength="9.56" lengthAdjust="spacingAndGlyphs">$</text>
<text x="918.97" y="485.47" font-size="17" fill="#2b2b2b" textLength="62.23" lengthAdjust="spacingAndGlyphs">(200.00)</text>
<text x="995.60" y="485.47" font-size="17" fill="#2b2b2b" textLength="9.56" lengthAdjust="spacingAndGlyphs">$</text>
<text x="1038.74" y="485.47" font-size="17" fill="#2b2b2b" textLength="62.23" lengthAdjust="spacingAndGlyphs">(400.00)</text>
<text x="1115.37" y="485.47" font-size="17" fill="#2b2b2b" textLength="9.56" lengthAdjust="spacingAndGlyphs">$</text>
<text x="1164.34" y="485.47" font-size="17" fill="#2b2b2b" textLength="51.79" lengthAdjust="spacingAndGlyphs">300.00</text>
<text x="1235.14" y="485.47" font-size="17" fill="#f2f6fb" textLength="9.56" lengthAdjust="spacingAndGlyphs">$</text>
<text x="1277.87" y="485.47" font-size="17" fill="#f2f6fb" textLength="62.65" lengthAdjust="spacingAndGlyphs">(300.00)</text>
<text x="1354.91" y="485.47" font-size="17" fill="#2b2b2b" textLength="9.56" lengthAdjust="spacingAndGlyphs">$</text>
<text x="1398.05" y="485.47" font-size="17" fill="#2b2b2b" textLength="62.23" lengthAdjust="spacingAndGlyphs">(200.00)</text>
<text x="1474.68" y="485.47" font-size="17" fill="#2b2b2b" textLength="9.56" lengthAdjust="spacingAndGlyphs">$</text>
<text x="1517.82" y="485.47" font-size="17" fill="#2b2b2b" textLength="62.23" lengthAdjust="spacingAndGlyphs">(400.00)</text>
<text x="1594.45" y="485.47" font-size="17" fill="#2b2b2b" textLength="9.56" lengthAdjust="spacingAndGlyphs">$</text>
<text x="1643.42" y="485.47" font-size="17" fill="#2b2b2b" textLength="51.79" lengthAdjust="spacingAndGlyphs">300.00</text>
<text x="1714.22" y="485.47" font-size="17" fill="#ffffff" textLength="9.56" lengthAdjust="spacingAndGlyphs">$</text>
<text x="1756.95" y="485.47" font-size="17" fill="#ffffff" textLength="62.65" lengthAdjust="spacingAndGlyphs">(300.00)</text>
<text x="1833.99" y="485.47" font-size="17" fill="#2b2b2b" textLength="9.56" lengthAdjust="spacingAndGlyphs">$</text>
<text x="1877.13" y="485.47" font-size="17" fill="#2b2b2b" textLength="62.23" lengthAdjust="spacingAndGlyphs">(200.00)</text>
<text x="1953.76" y="485.47" font-size="17" fill="#2b2b2b" textLength="9.56" lengthAdjust="spacingAndGlyphs">$</text>
<text x="1996.90" y="485.47" font-size="17" fill="#2b2b2b" textLength="62.23" lengthAdjust="spacingAndGlyphs">(400.00)</text>
<text x="2073.53" y="485.47" font-size="17" fill="#2b2b2b" textLength="9.56" lengthAdjust="spacingAndGlyphs">$</text>
<text x="2122.50" y="485.47" font-size="17" fill="#2b2b2b" textLength="51.79" lengthAdjust="spacingAndGlyphs">300.00</text>
<text x="2193.30" y="485.47" font-size="17" fill="#ffffff" textLength="9.56" lengthAdjust="spacingAndGlyphs">$</text>
<text x="2236.03" y="485.47" font-size="17" fill="#ffffff" textLength="62.65" lengthAdjust="spacingAndGlyphs">(300.00)</text>
<text x="2313.25" y="486.37" font-size="16.6" font-weight="bold" fill="#000000" textLength="9.92" lengthAdjust="spacingAndGlyphs">$</text>
<text x="2363.21" y="486.37" font-size="16.4" font-weight="bold" fill="#000000" textLength="78.99" lengthAdjust="spacingAndGlyphs">(1,200.00)</text>
<text x="19.53" y="519.60" font-size="17" font-weight="bold" fill="#000000" textLength="157.69" lengthAdjust="spacingAndGlyphs">End-User Equipment</text>
<text x="19.99" y="543.90" font-size="17" font-weight="bold" fill="#000000" textLength="153.86" lengthAdjust="spacingAndGlyphs">(Laptops, Desktops)</text>
<text x="281.76" y="532.20" font-size="17.6" fill="#5aa84f" textLength="52.31" lengthAdjust="spacingAndGlyphs">CapEx</text>
<text x="307.45" y="575.40" font-size="17" fill="#2b2b2b" textLength="59.19" lengthAdjust="spacingAndGlyphs">Budget</text>
<text x="396.75" y="575.40" font-size="17" fill="#2b2b2b" textLength="9.56" lengthAdjust="spacingAndGlyphs">$</text>
<text x="432.95" y="575.40" font-size="17" fill="#2b2b2b" textLength="64.48" lengthAdjust="spacingAndGlyphs">1,000.00</text>
<text x="516.52" y="575.40" font-size="17" fill="#2b2b2b" textLength="9.56" lengthAdjust="spacingAndGlyphs">$</text>
<text x="552.72" y="575.40" font-size="17" fill="#2b2b2b" textLength="64.48" lengthAdjust="spacingAndGlyphs">1,000.00</text>
<text x="636.29" y="575.40" font-size="17" fill="#2b2b2b" textLength="9.56" lengthAdjust="spacingAndGlyphs">$</text>
<text x="672.49" y="575.40" font-size="17" fill="#2b2b2b" textLength="64.48" lengthAdjust="spacingAndGlyphs">1,000.00</text>
<text x="756.06" y="575.40" font-size="17" fill="#1c2a3a" textLength="9.56" lengthAdjust="spacingAndGlyphs">$</text>
<text x="790.93" y="575.40" font-size="17" fill="#1c2a3a" textLength="65.82" lengthAdjust="spacingAndGlyphs">3,000.00</text>
<text x="875.83" y="575.40" font-size="17" fill="#2b2b2b" textLength="9.56" lengthAdjust="spacingAndGlyphs">$</text>
<text x="912.03" y="575.40" font-size="17" fill="#2b2b2b" textLength="64.48" lengthAdjust="spacingAndGlyphs">1,000.00</text>
<text x="995.60" y="575.40" font-size="17" fill="#2b2b2b" textLength="9.56" lengthAdjust="spacingAndGlyphs">$</text>
<text x="1031.80" y="575.40" font-size="17" fill="#2b2b2b" textLength="64.48" lengthAdjust="spacingAndGlyphs">1,000.00</text>
<text x="1115.37" y="575.40" font-size="17" fill="#2b2b2b" textLength="9.56" lengthAdjust="spacingAndGlyphs">$</text>
<text x="1151.57" y="575.40" font-size="17" fill="#2b2b2b" textLength="64.48" lengthAdjust="spacingAndGlyphs">1,000.00</text>
<text x="1235.14" y="575.40" font-size="17" fill="#f2f6fb" textLength="9.56" lengthAdjust="spacingAndGlyphs">$</text>
<text x="1270.01" y="575.40" font-size="17" fill="#f2f6fb" textLength="65.82" lengthAdjust="spacingAndGlyphs">3,000.00</text>
<text x="1354.91" y="575.40" font-size="17" fill="#2b2b2b" textLength="9.56" lengthAdjust="spacingAndGlyphs">$</text>
<text x="1391.11" y="575.40" font-size="17" fill="#2b2b2b" textLength="64.48" lengthAdjust="spacingAndGlyphs">1,000.00</text>
<text x="1474.68" y="575.40" font-size="17" fill="#2b2b2b" textLength="9.56" lengthAdjust="spacingAndGlyphs">$</text>
<text x="1510.88" y="575.40" font-size="17" fill="#2b2b2b" textLength="64.48" lengthAdjust="spacingAndGlyphs">1,000.00</text>
<text x="1594.45" y="575.40" font-size="17" fill="#2b2b2b" textLength="9.56" lengthAdjust="spacingAndGlyphs">$</text>
<text x="1630.65" y="575.40" font-size="17" fill="#2b2b2b" textLength="64.48" lengthAdjust="spacingAndGlyphs">1,000.00</text>
<text x="1714.22" y="575.40" font-size="17" fill="#ffffff" textLength="9.56" lengthAdjust="spacingAndGlyphs">$</text>
<text x="1749.09" y="575.40" font-size="17" fill="#ffffff" textLength="65.82" lengthAdjust="spacingAndGlyphs">3,000.00</text>
<text x="1833.99" y="575.40" font-size="17" fill="#2b2b2b" textLength="9.56" lengthAdjust="spacingAndGlyphs">$</text>
<text x="1870.19" y="575.40" font-size="17" fill="#2b2b2b" textLength="64.48" lengthAdjust="spacingAndGlyphs">1,000.00</text>
<text x="1953.76" y="575.40" font-size="17" fill="#2b2b2b" textLength="9.56" lengthAdjust="spacingAndGlyphs">$</text>
<text x="1989.96" y="575.40" font-size="17" fill="#2b2b2b" textLength="64.48" lengthAdjust="spacingAndGlyphs">1,000.00</text>
<text x="2073.53" y="575.40" font-size="17" fill="#2b2b2b" textLength="9.56" lengthAdjust="spacingAndGlyphs">$</text>
<text x="2109.73" y="575.40" font-size="17" fill="#2b2b2b" textLength="64.48" lengthAdjust="spacingAndGlyphs">1,000.00</text>
<text x="2193.30" y="575.40" font-size="17" fill="#ffffff" textLength="9.56" lengthAdjust="spacingAndGlyphs">$</text>
<text x="2228.17" y="575.40" font-size="17" fill="#ffffff" textLength="65.82" lengthAdjust="spacingAndGlyphs">3,000.00</text>
<text x="2313.25" y="576.30" font-size="16.6" font-weight="bold" fill="#000000" textLength="9.92" lengthAdjust="spacingAndGlyphs">$</text>
<text x="2361.19" y="576.30" font-size="16.4" font-weight="bold" fill="#000000" textLength="73.62" lengthAdjust="spacingAndGlyphs">12,000.00</text>
<text x="312.60" y="608.03" font-size="17" fill="#2b2b2b" textLength="55.07" lengthAdjust="spacingAndGlyphs">Actual</text>
<text x="396.75" y="608.03" font-size="17" fill="#2b2b2b" textLength="9.56" lengthAdjust="spacingAndGlyphs">$</text>
<text x="445.72" y="608.03" font-size="17" fill="#2b2b2b" textLength="51.79" lengthAdjust="spacingAndGlyphs">500.00</text>
<text x="516.52" y="608.03" font-size="17" fill="#2b2b2b" textLength="9.56" lengthAdjust="spacingAndGlyphs">$</text>
<text x="566.00" y="608.03" font-size="17" fill="#2b2b2b" textLength="51.28" lengthAdjust="spacingAndGlyphs">700.00</text>
<text x="636.29" y="608.03" font-size="17" fill="#2b2b2b" textLength="9.56" lengthAdjust="spacingAndGlyphs">$</text>
<text x="672.49" y="608.03" font-size="17" fill="#2b2b2b" textLength="64.48" lengthAdjust="spacingAndGlyphs">1,100.00</text>
<text x="756.06" y="608.03" font-size="17" fill="#1c2a3a" textLength="9.56" lengthAdjust="spacingAndGlyphs">$</text>
<text x="791.44" y="608.03" font-size="17" fill="#1c2a3a" textLength="65.31" lengthAdjust="spacingAndGlyphs">2,300.00</text>
<text x="875.83" y="608.03" font-size="17" fill="#2b2b2b" textLength="9.56" lengthAdjust="spacingAndGlyphs">$</text>
<text x="924.80" y="608.03" font-size="17" fill="#2b2b2b" textLength="51.79" lengthAdjust="spacingAndGlyphs">500.00</text>
<text x="995.60" y="608.03" font-size="17" fill="#2b2b2b" textLength="9.56" lengthAdjust="spacingAndGlyphs">$</text>
<text x="1045.08" y="608.03" font-size="17" fill="#2b2b2b" textLength="51.28" lengthAdjust="spacingAndGlyphs">700.00</text>
<text x="1115.37" y="608.03" font-size="17" fill="#2b2b2b" textLength="9.56" lengthAdjust="spacingAndGlyphs">$</text>
<text x="1151.57" y="608.03" font-size="17" fill="#2b2b2b" textLength="64.48" lengthAdjust="spacingAndGlyphs">1,100.00</text>
<text x="1235.14" y="608.03" font-size="17" fill="#f2f6fb" textLength="9.56" lengthAdjust="spacingAndGlyphs">$</text>
<text x="1270.52" y="608.03" font-size="17" fill="#f2f6fb" textLength="65.31" lengthAdjust="spacingAndGlyphs">2,300.00</text>
<text x="1354.91" y="608.03" font-size="17" fill="#2b2b2b" textLength="9.56" lengthAdjust="spacingAndGlyphs">$</text>
<text x="1403.88" y="608.03" font-size="17" fill="#2b2b2b" textLength="51.79" lengthAdjust="spacingAndGlyphs">500.00</text>
<text x="1474.68" y="608.03" font-size="17" fill="#2b2b2b" textLength="9.56" lengthAdjust="spacingAndGlyphs">$</text>
<text x="1524.16" y="608.03" font-size="17" fill="#2b2b2b" textLength="51.28" lengthAdjust="spacingAndGlyphs">700.00</text>
<text x="1594.45" y="608.03" font-size="17" fill="#2b2b2b" textLength="9.56" lengthAdjust="spacingAndGlyphs">$</text>
<text x="1630.65" y="608.03" font-size="17" fill="#2b2b2b" textLength="64.48" lengthAdjust="spacingAndGlyphs">1,100.00</text>
<text x="1714.22" y="608.03" font-size="17" fill="#ffffff" textLength="9.56" lengthAdjust="spacingAndGlyphs">$</text>
<text x="1749.60" y="608.03" font-size="17" fill="#ffffff" textLength="65.31" lengthAdjust="spacingAndGlyphs">2,300.00</text>
<text x="1833.99" y="608.03" font-size="17" fill="#2b2b2b" textLength="9.56" lengthAdjust="spacingAndGlyphs">$</text>
<text x="1882.96" y="608.03" font-size="17" fill="#2b2b2b" textLength="51.79" lengthAdjust="spacingAndGlyphs">500.00</text>
<text x="1953.76" y="608.03" font-size="17" fill="#2b2b2b" textLength="9.56" lengthAdjust="spacingAndGlyphs">$</text>
<text x="2003.24" y="608.03" font-size="17" fill="#2b2b2b" textLength="51.28" lengthAdjust="spacingAndGlyphs">700.00</text>
<text x="2073.53" y="608.03" font-size="17" fill="#2b2b2b" textLength="9.56" lengthAdjust="spacingAndGlyphs">$</text>
<text x="2109.73" y="608.03" font-size="17" fill="#2b2b2b" textLength="64.48" lengthAdjust="spacingAndGlyphs">1,100.00</text>
<text x="2193.30" y="608.03" font-size="17" fill="#ffffff" textLength="9.56" lengthAdjust="spacingAndGlyphs">$</text>
<text x="2228.68" y="608.03" font-size="17" fill="#ffffff" textLength="65.31" lengthAdjust="spacingAndGlyphs">2,300.00</text>
<text x="2313.25" y="608.93" font-size="16.6" font-weight="bold" fill="#000000" textLength="9.92" lengthAdjust="spacingAndGlyphs">$</text>
<text x="2371.00" y="608.93" font-size="16.4" font-weight="bold" fill="#000000" textLength="63.68" lengthAdjust="spacingAndGlyphs">9,200.00</text>
<text x="147.10" y="640.66" font-size="17" fill="#2b2b2b" textLength="220.49" lengthAdjust="spacingAndGlyphs">Variance (auto-calculates)</text>
<text x="396.75" y="640.66" font-size="17" fill="#2b2b2b" textLength="9.56" lengthAdjust="spacingAndGlyphs">$</text>
<text x="439.89" y="640.66" font-size="17" fill="#2b2b2b" textLength="62.23" lengthAdjust="spacingAndGlyphs">(500.00)</text>
<text x="516.52" y="640.66" font-size="17" fill="#2b2b2b" textLength="9.56" lengthAdjust="spacingAndGlyphs">$</text>
<text x="559.25" y="640.66" font-size="17" fill="#2b2b2b" textLength="62.65" lengthAdjust="spacingAndGlyphs">(300.00)</text>
<text x="636.29" y="640.66" font-size="17" fill="#2b2b2b" textLength="9.56" lengthAdjust="spacingAndGlyphs">$</text>
<text x="686.29" y="640.66" font-size="17" fill="#2b2b2b" textLength="50.75" lengthAdjust="spacingAndGlyphs">100.00</text>
<text x="756.24" y="641.56" font-size="16.6" font-weight="bold" fill="#000000" textLength="9.92" lengthAdjust="spacingAndGlyphs">$</text>
<text x="796.37" y="641.56" font-size="16.4" font-weight="bold" fill="#000000" textLength="65.90" lengthAdjust="spacingAndGlyphs">(700.00)</text>
<text x="875.83" y="640.66" font-size="17" fill="#2b2b2b" textLength="9.56" lengthAdjust="spacingAndGlyphs">$</text>
<text x="918.97" y="640.66" font-size="17" fill="#2b2b2b" textLength="62.23" lengthAdjust="spacingAndGlyphs">(500.00)</text>
<text x="995.60" y="640.66" font-size="17" fill="#2b2b2b" textLength="9.56" lengthAdjust="spacingAndGlyphs">$</text>
<text x="1038.33" y="640.66" font-size="17" fill="#2b2b2b" textLength="62.65" lengthAdjust="spacingAndGlyphs">(300.00)</text>
<text x="1115.37" y="640.66" font-size="17" fill="#2b2b2b" textLength="9.56" lengthAdjust="spacingAndGlyphs">$</text>
<text x="1165.37" y="640.66" font-size="17" fill="#2b2b2b" textLength="50.75" lengthAdjust="spacingAndGlyphs">100.00</text>
<text x="1235.32" y="641.56" font-size="16.6" font-weight="bold" fill="#000000" textLength="9.92" lengthAdjust="spacingAndGlyphs">$</text>
<text x="1275.45" y="641.56" font-size="16.4" font-weight="bold" fill="#000000" textLength="65.90" lengthAdjust="spacingAndGlyphs">(700.00)</text>
<text x="1354.91" y="640.66" font-size="17" fill="#2b2b2b" textLength="9.56" lengthAdjust="spacingAndGlyphs">$</text>
<text x="1398.05" y="640.66" font-size="17" fill="#2b2b2b" textLength="62.23" lengthAdjust="spacingAndGlyphs">(500.00)</text>
<text x="1474.68" y="640.66" font-size="17" fill="#2b2b2b" textLength="9.56" lengthAdjust="spacingAndGlyphs">$</text>
<text x="1517.41" y="640.66" font-size="17" fill="#2b2b2b" textLength="62.65" lengthAdjust="spacingAndGlyphs">(300.00)</text>
<text x="1594.45" y="640.66" font-size="17" fill="#2b2b2b" textLength="9.56" lengthAdjust="spacingAndGlyphs">$</text>
<text x="1644.45" y="640.66" font-size="17" fill="#2b2b2b" textLength="50.75" lengthAdjust="spacingAndGlyphs">100.00</text>
<text x="1714.40" y="641.56" font-size="16.6" font-weight="bold" fill="#000000" textLength="9.92" lengthAdjust="spacingAndGlyphs">$</text>
<text x="1754.53" y="641.56" font-size="16.4" font-weight="bold" fill="#000000" textLength="65.90" lengthAdjust="spacingAndGlyphs">(700.00)</text>
<text x="1833.99" y="640.66" font-size="17" fill="#2b2b2b" textLength="9.56" lengthAdjust="spacingAndGlyphs">$</text>
<text x="1877.13" y="640.66" font-size="17" fill="#2b2b2b" textLength="62.23" lengthAdjust="spacingAndGlyphs">(500.00)</text>
<text x="1953.76" y="640.66" font-size="17" fill="#2b2b2b" textLength="9.56" lengthAdjust="spacingAndGlyphs">$</text>
<text x="1996.49" y="640.66" font-size="17" fill="#2b2b2b" textLength="62.65" lengthAdjust="spacingAndGlyphs">(300.00)</text>
<text x="2073.53" y="640.66" font-size="17" fill="#2b2b2b" textLength="9.56" lengthAdjust="spacingAndGlyphs">$</text>
<text x="2123.53" y="640.66" font-size="17" fill="#2b2b2b" textLength="50.75" lengthAdjust="spacingAndGlyphs">100.00</text>
<text x="2193.48" y="641.56" font-size="16.6" font-weight="bold" fill="#000000" textLength="9.92" lengthAdjust="spacingAndGlyphs">$</text>
<text x="2233.61" y="641.56" font-size="16.4" font-weight="bold" fill="#000000" textLength="65.90" lengthAdjust="spacingAndGlyphs">(700.00)</text>
<text x="2313.25" y="641.56" font-size="16.6" font-weight="bold" fill="#000000" textLength="9.92" lengthAdjust="spacingAndGlyphs">$</text>
<text x="2363.21" y="641.56" font-size="16.4" font-weight="bold" fill="#000000" textLength="78.99" lengthAdjust="spacingAndGlyphs">(2,800.00)</text>
<text x="198.57" y="673.29" font-size="17" fill="#2b2b2b" textLength="169.22" lengthAdjust="spacingAndGlyphs">Previous Year Actual</text>
<text x="396.75" y="673.29" font-size="17" fill="#2b2b2b" textLength="9.56" lengthAdjust="spacingAndGlyphs">$</text>
<text x="446.23" y="673.29" font-size="17" fill="#2b2b2b" textLength="51.28" lengthAdjust="spacingAndGlyphs">700.00</text>
<text x="516.52" y="673.29" font-size="17" fill="#2b2b2b" textLength="9.56" lengthAdjust="spacingAndGlyphs">$</text>
<text x="552.72" y="673.29" font-size="17" fill="#2b2b2b" textLength="64.48" lengthAdjust="spacingAndGlyphs">1,100.00</text>
<text x="636.29" y="673.29" font-size="17" fill="#2b2b2b" textLength="9.56" lengthAdjust="spacingAndGlyphs">$</text>
<text x="685.26" y="673.29" font-size="17" fill="#2b2b2b" textLength="51.79" lengthAdjust="spacingAndGlyphs">800.00</text>
<text x="756.06" y="673.29" font-size="17" fill="#1c2a3a" textLength="9.56" lengthAdjust="spacingAndGlyphs">$</text>
<text x="791.44" y="673.29" font-size="17" fill="#1c2a3a" textLength="65.31" lengthAdjust="spacingAndGlyphs">2,600.00</text>
<text x="875.83" y="673.29" font-size="17" fill="#2b2b2b" textLength="9.56" lengthAdjust="spacingAndGlyphs">$</text>
<text x="925.31" y="673.29" font-size="17" fill="#2b2b2b" textLength="51.28" lengthAdjust="spacingAndGlyphs">700.00</text>
<text x="995.60" y="673.29" font-size="17" fill="#2b2b2b" textLength="9.56" lengthAdjust="spacingAndGlyphs">$</text>
<text x="1031.80" y="673.29" font-size="17" fill="#2b2b2b" textLength="64.48" lengthAdjust="spacingAndGlyphs">1,100.00</text>
<text x="1115.37" y="673.29" font-size="17" fill="#2b2b2b" textLength="9.56" lengthAdjust="spacingAndGlyphs">$</text>
<text x="1164.34" y="673.29" font-size="17" fill="#2b2b2b" textLength="51.79" lengthAdjust="spacingAndGlyphs">800.00</text>
<text x="1235.14" y="673.29" font-size="17" fill="#f2f6fb" textLength="9.56" lengthAdjust="spacingAndGlyphs">$</text>
<text x="1270.52" y="673.29" font-size="17" fill="#f2f6fb" textLength="65.31" lengthAdjust="spacingAndGlyphs">2,600.00</text>
<text x="1354.91" y="673.29" font-size="17" fill="#2b2b2b" textLength="9.56" lengthAdjust="spacingAndGlyphs">$</text>
<text x="1404.39" y="673.29" font-size="17" fill="#2b2b2b" textLength="51.28" lengthAdjust="spacingAndGlyphs">700.00</text>
<text x="1474.68" y="673.29" font-size="17" fill="#2b2b2b" textLength="9.56" lengthAdjust="spacingAndGlyphs">$</text>
<text x="1510.88" y="673.29" font-size="17" fill="#2b2b2b" textLength="64.48" lengthAdjust="spacingAndGlyphs">1,100.00</text>
<text x="1594.45" y="673.29" font-size="17" fill="#2b2b2b" textLength="9.56" lengthAdjust="spacingAndGlyphs">$</text>
<text x="1643.42" y="673.29" font-size="17" fill="#2b2b2b" textLength="51.79" lengthAdjust="spacingAndGlyphs">800.00</text>
<text x="1714.22" y="673.29" font-size="17" fill="#ffffff" textLength="9.56" lengthAdjust="spacingAndGlyphs">$</text>
<text x="1749.60" y="673.29" font-size="17" fill="#ffffff" textLength="65.31" lengthAdjust="spacingAndGlyphs">2,600.00</text>
<text x="1833.99" y="673.29" font-size="17" fill="#2b2b2b" textLength="9.56" lengthAdjust="spacingAndGlyphs">$</text>
<text x="1883.47" y="673.29" font-size="17" fill="#2b2b2b" textLength="51.28" lengthAdjust="spacingAndGlyphs">700.00</text>
<text x="1953.76" y="673.29" font-size="17" fill="#2b2b2b" textLength="9.56" lengthAdjust="spacingAndGlyphs">$</text>
<text x="1989.96" y="673.29" font-size="17" fill="#2b2b2b" textLength="64.48" lengthAdjust="spacingAndGlyphs">1,100.00</text>
<text x="2073.53" y="673.29" font-size="17" fill="#2b2b2b" textLength="9.56" lengthAdjust="spacingAndGlyphs">$</text>
<text x="2122.50" y="673.29" font-size="17" fill="#2b2b2b" textLength="51.79" lengthAdjust="spacingAndGlyphs">800.00</text>
<text x="2193.30" y="673.29" font-size="17" fill="#ffffff" textLength="9.56" lengthAdjust="spacingAndGlyphs">$</text>
<text x="2228.68" y="673.29" font-size="17" fill="#ffffff" textLength="65.31" lengthAdjust="spacingAndGlyphs">2,600.00</text>
<text x="2313.25" y="674.19" font-size="16.6" font-weight="bold" fill="#000000" textLength="9.92" lengthAdjust="spacingAndGlyphs">$</text>
<text x="2361.19" y="674.19" font-size="16.4" font-weight="bold" fill="#000000" textLength="73.62" lengthAdjust="spacingAndGlyphs">10,400.00</text>
<text x="177.98" y="705.92" font-size="17" fill="#2b2b2b" textLength="189.29" lengthAdjust="spacingAndGlyphs">Previous Year Variance</text>
<text x="396.75" y="705.92" font-size="17" fill="#2b2b2b" textLength="9.56" lengthAdjust="spacingAndGlyphs">$</text>
<text x="439.89" y="705.92" font-size="17" fill="#2b2b2b" textLength="62.23" lengthAdjust="spacingAndGlyphs">(200.00)</text>
<text x="516.52" y="705.92" font-size="17" fill="#2b2b2b" textLength="9.56" lengthAdjust="spacingAndGlyphs">$</text>
<text x="559.66" y="705.92" font-size="17" fill="#2b2b2b" textLength="62.23" lengthAdjust="spacingAndGlyphs">(400.00)</text>
<text x="636.29" y="705.92" font-size="17" fill="#2b2b2b" textLength="9.56" lengthAdjust="spacingAndGlyphs">$</text>
<text x="685.26" y="705.92" font-size="17" fill="#2b2b2b" textLength="51.79" lengthAdjust="spacingAndGlyphs">300.00</text>
<text x="756.06" y="705.92" font-size="17" fill="#1c2a3a" textLength="9.56" lengthAdjust="spacingAndGlyphs">$</text>
<text x="798.79" y="705.92" font-size="17" fill="#1c2a3a" textLength="62.65" lengthAdjust="spacingAndGlyphs">(300.00)</text>
<text x="875.83" y="705.92" font-size="17" fill="#2b2b2b" textLength="9.56" lengthAdjust="spacingAndGlyphs">$</text>
<text x="918.97" y="705.92" font-size="17" fill="#2b2b2b" textLength="62.23" lengthAdjust="spacingAndGlyphs">(200.00)</text>
<text x="995.60" y="705.92" font-size="17" fill="#2b2b2b" textLength="9.56" lengthAdjust="spacingAndGlyphs">$</text>
<text x="1038.74" y="705.92" font-size="17" fill="#2b2b2b" textLength="62.23" lengthAdjust="spacingAndGlyphs">(400.00)</text>
<text x="1115.37" y="705.92" font-size="17" fill="#2b2b2b" textLength="9.56" lengthAdjust="spacingAndGlyphs">$</text>
<text x="1164.34" y="705.92" font-size="17" fill="#2b2b2b" textLength="51.79" lengthAdjust="spacingAndGlyphs">300.00</text>
<text x="1235.14" y="705.92" font-size="17" fill="#f2f6fb" textLength="9.56" lengthAdjust="spacingAndGlyphs">$</text>
<text x="1277.87" y="705.92" font-size="17" fill="#f2f6fb" textLength="62.65" lengthAdjust="spacingAndGlyphs">(300.00)</text>
<text x="1354.91" y="705.92" font-size="17" fill="#2b2b2b" textLength="9.56" lengthAdjust="spacingAndGlyphs">$</text>
<text x="1398.05" y="705.92" font-size="17" fill="#2b2b2b" textLength="62.23" lengthAdjust="spacingAndGlyphs">(200.00)</text>
<text x="1474.68" y="705.92" font-size="17" fill="#2b2b2b" textLength="9.56" lengthAdjust="spacingAndGlyphs">$</text>
<text x="1517.82" y="705.92" font-size="17" fill="#2b2b2b" textLength="62.23" lengthAdjust="spacingAndGlyphs">(400.00)</text>
<text x="1594.45" y="705.92" font-size="17" fill="#2b2b2b" textLength="9.56" lengthAdjust="spacingAndGlyphs">$</text>
<text x="1643.42" y="705.92" font-size="17" fill="#2b2b2b" textLength="51.79" lengthAdjust="spacingAndGlyphs">300.00</text>
<text x="1714.22" y="705.92" font-size="17" fill="#ffffff" textLength="9.56" lengthAdjust="spacingAndGlyphs">$</text>
<text x="1756.95" y="705.92" font-size="17" fill="#ffffff" textLength="62.65" lengthAdjust="spacingAndGlyphs">(300.00)</text>
<text x="1833.99" y="705.92" font-size="17" fill="#2b2b2b" textLength="9.56" lengthAdjust="spacingAndGlyphs">$</text>
<text x="1877.13" y="705.92" font-size="17" fill="#2b2b2b" textLength="62.23" lengthAdjust="spacingAndGlyphs">(200.00)</text>
<text x="1953.76" y="705.92" font-size="17" fill="#2b2b2b" textLength="9.56" lengthAdjust="spacingAndGlyphs">$</text>
<text x="1996.90" y="705.92" font-size="17" fill="#2b2b2b" textLength="62.23" lengthAdjust="spacingAndGlyphs">(400.00)</text>
<text x="2073.53" y="705.92" font-size="17" fill="#2b2b2b" textLength="9.56" lengthAdjust="spacingAndGlyphs">$</text>
<text x="2122.50" y="705.92" font-size="17" fill="#2b2b2b" textLength="51.79" lengthAdjust="spacingAndGlyphs">300.00</text>
<text x="2193.30" y="705.92" font-size="17" fill="#ffffff" textLength="9.56" lengthAdjust="spacingAndGlyphs">$</text>
<text x="2236.03" y="705.92" font-size="17" fill="#ffffff" textLength="62.65" lengthAdjust="spacingAndGlyphs">(300.00)</text>
<text x="2313.25" y="706.82" font-size="16.6" font-weight="bold" fill="#000000" textLength="9.92" lengthAdjust="spacingAndGlyphs">$</text>
<text x="2363.21" y="706.82" font-size="16.4" font-weight="bold" fill="#000000" textLength="78.99" lengthAdjust="spacingAndGlyphs">(1,200.00)</text>
<text x="20.23" y="740.05" font-size="17" font-weight="bold" fill="#000000" textLength="139.09" lengthAdjust="spacingAndGlyphs">Software Licenses</text>
<text x="19.94" y="764.35" font-size="17" font-weight="bold" fill="#000000" textLength="83.70" lengthAdjust="spacingAndGlyphs">(Perpetual</text>
<text x="281.76" y="752.65" font-size="17.6" fill="#5aa84f" textLength="52.31" lengthAdjust="spacingAndGlyphs">CapEx</text>
<text x="307.45" y="795.85" font-size="17" fill="#2b2b2b" textLength="59.19" lengthAdjust="spacingAndGlyphs">Budget</text>
<text x="396.75" y="795.85" font-size="17" fill="#2b2b2b" textLength="9.56" lengthAdjust="spacingAndGlyphs">$</text>
<text x="432.95" y="795.85" font-size="17" fill="#2b2b2b" textLength="64.48" lengthAdjust="spacingAndGlyphs">1,000.00</text>
<text x="516.52" y="795.85" font-size="17" fill="#2b2b2b" textLength="9.56" lengthAdjust="spacingAndGlyphs">$</text>
<text x="552.72" y="795.85" font-size="17" fill="#2b2b2b" textLength="64.48" lengthAdjust="spacingAndGlyphs">1,000.00</text>
<text x="636.29" y="795.85" font-size="17" fill="#2b2b2b" textLength="9.56" lengthAdjust="spacingAndGlyphs">$</text>
<text x="672.49" y="795.85" font-size="17" fill="#2b2b2b" textLength="64.48" lengthAdjust="spacingAndGlyphs">1,000.00</text>
<text x="756.06" y="795.85" font-size="17" fill="#1c2a3a" textLength="9.56" lengthAdjust="spacingAndGlyphs">$</text>
<text x="790.93" y="795.85" font-size="17" fill="#1c2a3a" textLength="65.82" lengthAdjust="spacingAndGlyphs">3,000.00</text>
<text x="875.83" y="795.85" font-size="17" fill="#2b2b2b" textLength="9.56" lengthAdjust="spacingAndGlyphs">$</text>
<text x="912.03" y="795.85" font-size="17" fill="#2b2b2b" textLength="64.48" lengthAdjust="spacingAndGlyphs">1,000.00</text>
<text x="995.60" y="795.85" font-size="17" fill="#2b2b2b" textLength="9.56" lengthAdjust="spacingAndGlyphs">$</text>
<text x="1031.80" y="795.85" font-size="17" fill="#2b2b2b" textLength="64.48" lengthAdjust="spacingAndGlyphs">1,000.00</text>
<text x="1115.37" y="795.85" font-size="17" fill="#2b2b2b" textLength="9.56" lengthAdjust="spacingAndGlyphs">$</text>
<text x="1151.57" y="795.85" font-size="17" fill="#2b2b2b" textLength="64.48" lengthAdjust="spacingAndGlyphs">1,000.00</text>
<text x="1235.14" y="795.85" font-size="17" fill="#f2f6fb" textLength="9.56" lengthAdjust="spacingAndGlyphs">$</text>
<text x="1270.01" y="795.85" font-size="17" fill="#f2f6fb" textLength="65.82" lengthAdjust="spacingAndGlyphs">3,000.00</text>
<text x="1354.91" y="795.85" font-size="17" fill="#2b2b2b" textLength="9.56" lengthAdjust="spacingAndGlyphs">$</text>
<text x="1391.11" y="795.85" font-size="17" fill="#2b2b2b" textLength="64.48" lengthAdjust="spacingAndGlyphs">1,000.00</text>
<text x="1474.68" y="795.85" font-size="17" fill="#2b2b2b" textLength="9.56" lengthAdjust="spacingAndGlyphs">$</text>
<text x="1510.88" y="795.85" font-size="17" fill="#2b2b2b" textLength="64.48" lengthAdjust="spacingAndGlyphs">1,000.00</text>
<text x="1594.45" y="795.85" font-size="17" fill="#2b2b2b" textLength="9.56" lengthAdjust="spacingAndGlyphs">$</text>
<text x="1630.65" y="795.85" font-size="17" fill="#2b2b2b" textLength="64.48" lengthAdjust="spacingAndGlyphs">1,000.00</text>
<text x="1714.22" y="795.85" font-size="17" fill="#ffffff" textLength="9.56" lengthAdjust="spacingAndGlyphs">$</text>
<text x="1749.09" y="795.85" font-size="17" fill="#ffffff" textLength="65.82" lengthAdjust="spacingAndGlyphs">3,000.00</text>
<text x="1833.99" y="795.85" font-size="17" fill="#2b2b2b" textLength="9.56" lengthAdjust="spacingAndGlyphs">$</text>
<text x="1870.19" y="795.85" font-size="17" fill="#2b2b2b" textLength="64.48" lengthAdjust="spacingAndGlyphs">1,000.00</text>
<text x="1953.76" y="795.85" font-size="17" fill="#2b2b2b" textLength="9.56" lengthAdjust="spacingAndGlyphs">$</text>
<text x="1989.96" y="795.85" font-size="17" fill="#2b2b2b" textLength="64.48" lengthAdjust="spacingAndGlyphs">1,000.00</text>
<text x="2073.53" y="795.85" font-size="17" fill="#2b2b2b" textLength="9.56" lengthAdjust="spacingAndGlyphs">$</text>
<text x="2109.73" y="795.85" font-size="17" fill="#2b2b2b" textLength="64.48" lengthAdjust="spacingAndGlyphs">1,000.00</text>
<text x="2193.30" y="795.85" font-size="17" fill="#ffffff" textLength="9.56" lengthAdjust="spacingAndGlyphs">$</text>
<text x="2228.17" y="795.85" font-size="17" fill="#ffffff" textLength="65.82" lengthAdjust="spacingAndGlyphs">3,000.00</text>
<text x="2313.25" y="796.75" font-size="16.6" font-weight="bold" fill="#000000" textLength="9.92" lengthAdjust="spacingAndGlyphs">$</text>
<text x="2361.19" y="796.75" font-size="16.4" font-weight="bold" fill="#000000" textLength="73.62" lengthAdjust="spacingAndGlyphs">12,000.00</text>
<text x="312.60" y="828.48" font-size="17" fill="#2b2b2b" textLength="55.07" lengthAdjust="spacingAndGlyphs">Actual</text>
<text x="396.75" y="828.48" font-size="17" fill="#2b2b2b" textLength="9.56" lengthAdjust="spacingAndGlyphs">$</text>
<text x="445.72" y="828.48" font-size="17" fill="#2b2b2b" textLength="51.79" lengthAdjust="spacingAndGlyphs">500.00</text>
<text x="516.52" y="828.48" font-size="17" fill="#2b2b2b" textLength="9.56" lengthAdjust="spacingAndGlyphs">$</text>
<text x="566.00" y="828.48" font-size="17" fill="#2b2b2b" textLength="51.28" lengthAdjust="spacingAndGlyphs">700.00</text>
<text x="636.29" y="828.48" font-size="17" fill="#2b2b2b" textLength="9.56" lengthAdjust="spacingAndGlyphs">$</text>
<text x="672.49" y="828.48" font-size="17" fill="#2b2b2b" textLength="64.48" lengthAdjust="spacingAndGlyphs">1,100.00</text>
<text x="756.06" y="828.48" font-size="17" fill="#1c2a3a" textLength="9.56" lengthAdjust="spacingAndGlyphs">$</text>
<text x="791.44" y="828.48" font-size="17" fill="#1c2a3a" textLength="65.31" lengthAdjust="spacingAndGlyphs">2,300.00</text>
<text x="875.83" y="828.48" font-size="17" fill="#2b2b2b" textLength="9.56" lengthAdjust="spacingAndGlyphs">$</text>
<text x="924.80" y="828.48" font-size="17" fill="#2b2b2b" textLength="51.79" lengthAdjust="spacingAndGlyphs">500.00</text>
<text x="995.60" y="828.48" font-size="17" fill="#2b2b2b" textLength="9.56" lengthAdjust="spacingAndGlyphs">$</text>
<text x="1045.08" y="828.48" font-size="17" fill="#2b2b2b" textLength="51.28" lengthAdjust="spacingAndGlyphs">700.00</text>
<text x="1115.37" y="828.48" font-size="17" fill="#2b2b2b" textLength="9.56" lengthAdjust="spacingAndGlyphs">$</text>
<text x="1151.57" y="828.48" font-size="17" fill="#2b2b2b" textLength="64.48" lengthAdjust="spacingAndGlyphs">1,100.00</text>
<text x="1235.14" y="828.48" font-size="17" fill="#f2f6fb" textLength="9.56" lengthAdjust="spacingAndGlyphs">$</text>
<text x="1270.52" y="828.48" font-size="17" fill="#f2f6fb" textLength="65.31" lengthAdjust="spacingAndGlyphs">2,300.00</text>
<text x="1354.91" y="828.48" font-size="17" fill="#2b2b2b" textLength="9.56" lengthAdjust="spacingAndGlyphs">$</text>
<text x="1403.88" y="828.48" font-size="17" fill="#2b2b2b" textLength="51.79" lengthAdjust="spacingAndGlyphs">500.00</text>
<text x="1474.68" y="828.48" font-size="17" fill="#2b2b2b" textLength="9.56" lengthAdjust="spacingAndGlyphs">$</text>
<text x="1524.16" y="828.48" font-size="17" fill="#2b2b2b" textLength="51.28" lengthAdjust="spacingAndGlyphs">700.00</text>
<text x="1594.45" y="828.48" font-size="17" fill="#2b2b2b" textLength="9.56" lengthAdjust="spacingAndGlyphs">$</text>
<text x="1630.65" y="828.48" font-size="17" fill="#2b2b2b" textLength="64.48" lengthAdjust="spacingAndGlyphs">1,100.00</text>
<text x="1714.22" y="828.48" font-size="17" fill="#ffffff" textLength="9.56" lengthAdjust="spacingAndGlyphs">$</text>
<text x="1749.60" y="828.48" font-size="17" fill="#ffffff" textLength="65.31" lengthAdjust="spacingAndGlyphs">2,300.00</text>
<text x="1833.99" y="828.48" font-size="17" fill="#2b2b2b" textLength="9.56" lengthAdjust="spacingAndGlyphs">$</text>
<text x="1882.96" y="828.48" font-size="17" fill="#2b2b2b" textLength="51.79" lengthAdjust="spacingAndGlyphs">500.00</text>
<text x="1953.76" y="828.48" font-size="17" fill="#2b2b2b" textLength="9.56" lengthAdjust="spacingAndGlyphs">$</text>
<text x="2003.24" y="828.48" font-size="17" fill="#2b2b2b" textLength="51.28" lengthAdjust="spacingAndGlyphs">700.00</text>
<text x="2073.53" y="828.48" font-size="17" fill="#2b2b2b" textLength="9.56" lengthAdjust="spacingAndGlyphs">$</text>
<text x="2109.73" y="828.48" font-size="17" fill="#2b2b2b" textLength="64.48" lengthAdjust="spacingAndGlyphs">1,100.00</text>
<text x="2193.30" y="828.48" font-size="17" fill="#ffffff" textLength="9.56" lengthAdjust="spacingAndGlyphs">$</text>
<text x="2228.68" y="828.48" font-size="17" fill="#ffffff" textLength="65.31" lengthAdjust="spacingAndGlyphs">2,300.00</text>
<text x="2313.25" y="829.38" font-size="16.6" font-weight="bold" fill="#000000" textLength="9.92" lengthAdjust="spacingAndGlyphs">$</text>
<text x="2371.00" y="829.38" font-size="16.4" font-weight="bold" fill="#000000" textLength="63.68" lengthAdjust="spacingAndGlyphs">9,200.00</text>
</g>
<clipPath id="clipb"><rect x="-2" y="-1.6" width="2449.50" height="500.21"/></clipPath>
<g transform="translate(52.40,1334.20) scale(1.00520,1.00720)" clip-path="url(#clipb)">
<rect x="0.00" y="-1.60" width="230.00" height="57.70" fill="#17607f"/>
<rect x="230.00" y="-1.60" width="156.50" height="57.70" fill="#17607f"/>
<rect x="386.50" y="-1.60" width="119.77" height="57.70" fill="#5291cf"/>
<rect x="506.27" y="-1.60" width="119.77" height="57.70" fill="#5291cf"/>
<rect x="626.04" y="-1.60" width="119.77" height="57.70" fill="#5291cf"/>
<rect x="745.81" y="-1.60" width="119.77" height="57.70" fill="#808080"/>
<rect x="865.58" y="-1.60" width="119.77" height="57.70" fill="#5291cf"/>
<rect x="985.35" y="-1.60" width="119.77" height="57.70" fill="#5291cf"/>
<rect x="1105.12" y="-1.60" width="119.77" height="57.70" fill="#5291cf"/>
<rect x="1224.89" y="-1.60" width="119.77" height="57.70" fill="#808080"/>
<rect x="1344.66" y="-1.60" width="119.77" height="57.70" fill="#0d2642"/>
<rect x="1464.43" y="-1.60" width="119.77" height="57.70" fill="#0d2642"/>
<rect x="1584.20" y="-1.60" width="119.77" height="57.70" fill="#0d2642"/>
<rect x="1703.97" y="-1.60" width="119.77" height="57.70" fill="#808080"/>
<rect x="1823.74" y="-1.60" width="119.77" height="57.70" fill="#0d2642"/>
<rect x="1943.51" y="-1.60" width="119.77" height="57.70" fill="#0d2642"/>
<rect x="2063.28" y="-1.60" width="119.77" height="57.70" fill="#0d2642"/>
<rect x="2183.05" y="-1.60" width="119.77" height="57.70" fill="#808080"/>
<rect x="2302.82" y="-1.60" width="142.68" height="57.70" fill="#17607f"/>
<rect x="0.00" y="56.10" width="2445.50" height="57.30" fill="#e6e6e6"/>
<rect x="230.00" y="56.10" width="156.50" height="57.30" fill="#fbe2d5"/>
<rect x="0.00" y="113.40" width="386.50" height="32.63" fill="#ffffff"/>
<rect x="386.50" y="113.40" width="119.77" height="32.63" fill="#e9edf3"/>
<rect x="506.27" y="113.40" width="119.77" height="32.63" fill="#e9edf3"/>
<rect x="626.04" y="113.40" width="119.77" height="32.63" fill="#e9edf3"/>
<rect x="745.81" y="113.40" width="119.77" height="32.63" fill="#73a6d9"/>
<rect x="865.58" y="113.40" width="119.77" height="32.63" fill="#e9edf3"/>
<rect x="985.35" y="113.40" width="119.77" height="32.63" fill="#e9edf3"/>
<rect x="1105.12" y="113.40" width="119.77" height="32.63" fill="#e9edf3"/>
<rect x="1224.89" y="113.40" width="119.77" height="32.63" fill="#3d7ec3"/>
<rect x="1344.66" y="113.40" width="119.77" height="32.63" fill="#e9edf3"/>
<rect x="1464.43" y="113.40" width="119.77" height="32.63" fill="#e9edf3"/>
<rect x="1584.20" y="113.40" width="119.77" height="32.63" fill="#e9edf3"/>
<rect x="1703.97" y="113.40" width="119.77" height="32.63" fill="#0f1c2e"/>
<rect x="1823.74" y="113.40" width="119.77" height="32.63" fill="#e9edf3"/>
<rect x="1943.51" y="113.40" width="119.77" height="32.63" fill="#e9edf3"/>
<rect x="2063.28" y="113.40" width="119.77" height="32.63" fill="#e9edf3"/>
<rect x="2183.05" y="113.40" width="119.77" height="32.63" fill="#0d1522"/>
<rect x="2302.82" y="113.40" width="142.68" height="32.63" fill="#e8eef6"/>
<rect x="0.00" y="146.03" width="386.50" height="32.63" fill="#ffffff"/>
<rect x="386.50" y="146.03" width="119.77" height="32.63" fill="#e9edf3"/>
<rect x="506.27" y="146.03" width="119.77" height="32.63" fill="#e9edf3"/>
<rect x="626.04" y="146.03" width="119.77" height="32.63" fill="#e9edf3"/>
<rect x="745.81" y="146.03" width="119.77" height="32.63" fill="#73a6d9"/>
<rect x="865.58" y="146.03" width="119.77" height="32.63" fill="#e9edf3"/>
<rect x="985.35" y="146.03" width="119.77" height="32.63" fill="#e9edf3"/>
<rect x="1105.12" y="146.03" width="119.77" height="32.63" fill="#e9edf3"/>
<rect x="1224.89" y="146.03" width="119.77" height="32.63" fill="#3d7ec3"/>
<rect x="1344.66" y="146.03" width="119.77" height="32.63" fill="#e9edf3"/>
<rect x="1464.43" y="146.03" width="119.77" height="32.63" fill="#e9edf3"/>
<rect x="1584.20" y="146.03" width="119.77" height="32.63" fill="#e9edf3"/>
<rect x="1703.97" y="146.03" width="119.77" height="32.63" fill="#0f1c2e"/>
<rect x="1823.74" y="146.03" width="119.77" height="32.63" fill="#e9edf3"/>
<rect x="1943.51" y="146.03" width="119.77" height="32.63" fill="#e9edf3"/>
<rect x="2063.28" y="146.03" width="119.77" height="32.63" fill="#e9edf3"/>
<rect x="2183.05" y="146.03" width="119.77" height="32.63" fill="#0d1522"/>
<rect x="2302.82" y="146.03" width="142.68" height="32.63" fill="#e8eef6"/>
<rect x="0.00" y="178.66" width="386.50" height="32.63" fill="#ffffff"/>
<rect x="386.50" y="178.66" width="119.77" height="32.63" fill="#ffffff"/>
<rect x="506.27" y="178.66" width="119.77" height="32.63" fill="#ffffff"/>
<rect x="626.04" y="178.66" width="119.77" height="32.63" fill="#ffffff"/>
<rect x="745.81" y="178.66" width="119.77" height="32.63" fill="#ffffff"/>
<rect x="865.58" y="178.66" width="119.77" height="32.63" fill="#ffffff"/>
<rect x="985.35" y="178.66" width="119.77" height="32.63" fill="#ffffff"/>
<rect x="1105.12" y="178.66" width="119.77" height="32.63" fill="#ffffff"/>
<rect x="1224.89" y="178.66" width="119.77" height="32.63" fill="#ffffff"/>
<rect x="1344.66" y="178.66" width="119.77" height="32.63" fill="#ffffff"/>
<rect x="1464.43" y="178.66" width="119.77" height="32.63" fill="#ffffff"/>
<rect x="1584.20" y="178.66" width="119.77" height="32.63" fill="#ffffff"/>
<rect x="1703.97" y="178.66" width="119.77" height="32.63" fill="#ffffff"/>
<rect x="1823.74" y="178.66" width="119.77" height="32.63" fill="#ffffff"/>
<rect x="1943.51" y="178.66" width="119.77" height="32.63" fill="#ffffff"/>
<rect x="2063.28" y="178.66" width="119.77" height="32.63" fill="#ffffff"/>
<rect x="2183.05" y="178.66" width="119.77" height="32.63" fill="#ffffff"/>
<rect x="2302.82" y="178.66" width="142.68" height="32.63" fill="#e8eef6"/>
<rect x="0.00" y="211.29" width="386.50" height="32.63" fill="#ffffff"/>
<rect x="386.50" y="211.29" width="119.77" height="32.63" fill="#e9edf3"/>
<rect x="506.27" y="211.29" width="119.77" height="32.63" fill="#e9edf3"/>
<rect x="626.04" y="211.29" width="119.77" height="32.63" fill="#e9edf3"/>
<rect x="745.81" y="211.29" width="119.77" height="32.63" fill="#73a6d9"/>
<rect x="865.58" y="211.29" width="119.77" height="32.63" fill="#e9edf3"/>
<rect x="985.35" y="211.29" width="119.77" height="32.63" fill="#e9edf3"/>
<rect x="1105.12" y="211.29" width="119.77" height="32.63" fill="#e9edf3"/>
<rect x="1224.89" y="211.29" width="119.77" height="32.63" fill="#3d7ec3"/>
<rect x="1344.66" y="211.29" width="119.77" height="32.63" fill="#e9edf3"/>
<rect x="1464.43" y="211.29" width="119.77" height="32.63" fill="#e9edf3"/>
<rect x="1584.20" y="211.29" width="119.77" height="32.63" fill="#e9edf3"/>
<rect x="1703.97" y="211.29" width="119.77" height="32.63" fill="#0f1c2e"/>
<rect x="1823.74" y="211.29" width="119.77" height="32.63" fill="#e9edf3"/>
<rect x="1943.51" y="211.29" width="119.77" height="32.63" fill="#e9edf3"/>
<rect x="2063.28" y="211.29" width="119.77" height="32.63" fill="#e9edf3"/>
<rect x="2183.05" y="211.29" width="119.77" height="32.63" fill="#0d1522"/>
<rect x="2302.82" y="211.29" width="142.68" height="32.63" fill="#e8eef6"/>
<rect x="0.00" y="243.92" width="386.50" height="32.63" fill="#ffffff"/>
<rect x="386.50" y="243.92" width="119.77" height="32.63" fill="#ffffff"/>
<rect x="506.27" y="243.92" width="119.77" height="32.63" fill="#ffffff"/>
<rect x="626.04" y="243.92" width="119.77" height="32.63" fill="#ffffff"/>
<rect x="745.81" y="243.92" width="119.77" height="32.63" fill="#73a6d9"/>
<rect x="865.58" y="243.92" width="119.77" height="32.63" fill="#ffffff"/>
<rect x="985.35" y="243.92" width="119.77" height="32.63" fill="#ffffff"/>
<rect x="1105.12" y="243.92" width="119.77" height="32.63" fill="#ffffff"/>
<rect x="1224.89" y="243.92" width="119.77" height="32.63" fill="#3d7ec3"/>
<rect x="1344.66" y="243.92" width="119.77" height="32.63" fill="#ffffff"/>
<rect x="1464.43" y="243.92" width="119.77" height="32.63" fill="#ffffff"/>
<rect x="1584.20" y="243.92" width="119.77" height="32.63" fill="#ffffff"/>
<rect x="1703.97" y="243.92" width="119.77" height="32.63" fill="#0f1c2e"/>
<rect x="1823.74" y="243.92" width="119.77" height="32.63" fill="#ffffff"/>
<rect x="1943.51" y="243.92" width="119.77" height="32.63" fill="#ffffff"/>
<rect x="2063.28" y="243.92" width="119.77" height="32.63" fill="#ffffff"/>
<rect x="2183.05" y="243.92" width="119.77" height="32.63" fill="#0d1522"/>
<rect x="2302.82" y="243.92" width="142.68" height="32.63" fill="#e8eef6"/>
<rect x="0.00" y="276.55" width="2445.50" height="57.30" fill="#e6e6e6"/>
<rect x="230.00" y="276.55" width="156.50" height="57.30" fill="#fbe2d5"/>
<rect x="0.00" y="333.85" width="386.50" height="32.63" fill="#ffffff"/>
<rect x="386.50" y="333.85" width="119.77" height="32.63" fill="#e9edf3"/>
<rect x="506.27" y="333.85" width="119.77" height="32.63" fill="#e9edf3"/>
<rect x="626.04" y="333.85" width="119.77" height="32.63" fill="#e9edf3"/>
<rect x="745.81" y="333.85" width="119.77" height="32.63" fill="#73a6d9"/>
<rect x="865.58" y="333.85" width="119.77" height="32.63" fill="#e9edf3"/>
<rect x="985.35" y="333.85" width="119.77" height="32.63" fill="#e9edf3"/>
<rect x="1105.12" y="333.85" width="119.77" height="32.63" fill="#e9edf3"/>
<rect x="1224.89" y="333.85" width="119.77" height="32.63" fill="#3d7ec3"/>
<rect x="1344.66" y="333.85" width="119.77" height="32.63" fill="#e9edf3"/>
<rect x="1464.43" y="333.85" width="119.77" height="32.63" fill="#e9edf3"/>
<rect x="1584.20" y="333.85" width="119.77" height="32.63" fill="#e9edf3"/>
<rect x="1703.97" y="333.85" width="119.77" height="32.63" fill="#0f1c2e"/>
<rect x="1823.74" y="333.85" width="119.77" height="32.63" fill="#e9edf3"/>
<rect x="1943.51" y="333.85" width="119.77" height="32.63" fill="#e9edf3"/>
<rect x="2063.28" y="333.85" width="119.77" height="32.63" fill="#e9edf3"/>
<rect x="2183.05" y="333.85" width="119.77" height="32.63" fill="#0d1522"/>
<rect x="2302.82" y="333.85" width="142.68" height="32.63" fill="#e8eef6"/>
<rect x="0.00" y="366.48" width="386.50" height="32.63" fill="#ffffff"/>
<rect x="386.50" y="366.48" width="119.77" height="32.63" fill="#e9edf3"/>
<rect x="506.27" y="366.48" width="119.77" height="32.63" fill="#e9edf3"/>
<rect x="626.04" y="366.48" width="119.77" height="32.63" fill="#e9edf3"/>
<rect x="745.81" y="366.48" width="119.77" height="32.63" fill="#73a6d9"/>
<rect x="865.58" y="366.48" width="119.77" height="32.63" fill="#e9edf3"/>
<rect x="985.35" y="366.48" width="119.77" height="32.63" fill="#e9edf3"/>
<rect x="1105.12" y="366.48" width="119.77" height="32.63" fill="#e9edf3"/>
<rect x="1224.89" y="366.48" width="119.77" height="32.63" fill="#3d7ec3"/>
<rect x="1344.66" y="366.48" width="119.77" height="32.63" fill="#e9edf3"/>
<rect x="1464.43" y="366.48" width="119.77" height="32.63" fill="#e9edf3"/>
<rect x="1584.20" y="366.48" width="119.77" height="32.63" fill="#e9edf3"/>
<rect x="1703.97" y="366.48" width="119.77" height="32.63" fill="#0f1c2e"/>
<rect x="1823.74" y="366.48" width="119.77" height="32.63" fill="#e9edf3"/>
<rect x="1943.51" y="366.48" width="119.77" height="32.63" fill="#e9edf3"/>
<rect x="2063.28" y="366.48" width="119.77" height="32.63" fill="#e9edf3"/>
<rect x="2183.05" y="366.48" width="119.77" height="32.63" fill="#0d1522"/>
<rect x="2302.82" y="366.48" width="142.68" height="32.63" fill="#e8eef6"/>
<rect x="0.00" y="399.11" width="386.50" height="32.63" fill="#ffffff"/>
<rect x="386.50" y="399.11" width="119.77" height="32.63" fill="#ffffff"/>
<rect x="506.27" y="399.11" width="119.77" height="32.63" fill="#ffffff"/>
<rect x="626.04" y="399.11" width="119.77" height="32.63" fill="#ffffff"/>
<rect x="745.81" y="399.11" width="119.77" height="32.63" fill="#ffffff"/>
<rect x="865.58" y="399.11" width="119.77" height="32.63" fill="#ffffff"/>
<rect x="985.35" y="399.11" width="119.77" height="32.63" fill="#ffffff"/>
<rect x="1105.12" y="399.11" width="119.77" height="32.63" fill="#ffffff"/>
<rect x="1224.89" y="399.11" width="119.77" height="32.63" fill="#ffffff"/>
<rect x="1344.66" y="399.11" width="119.77" height="32.63" fill="#ffffff"/>
<rect x="1464.43" y="399.11" width="119.77" height="32.63" fill="#ffffff"/>
<rect x="1584.20" y="399.11" width="119.77" height="32.63" fill="#ffffff"/>
<rect x="1703.97" y="399.11" width="119.77" height="32.63" fill="#ffffff"/>
<rect x="1823.74" y="399.11" width="119.77" height="32.63" fill="#ffffff"/>
<rect x="1943.51" y="399.11" width="119.77" height="32.63" fill="#ffffff"/>
<rect x="2063.28" y="399.11" width="119.77" height="32.63" fill="#ffffff"/>
<rect x="2183.05" y="399.11" width="119.77" height="32.63" fill="#ffffff"/>
<rect x="2302.82" y="399.11" width="142.68" height="32.63" fill="#e8eef6"/>
<rect x="0.00" y="431.74" width="386.50" height="32.63" fill="#ffffff"/>
<rect x="386.50" y="431.74" width="119.77" height="32.63" fill="#e9edf3"/>
<rect x="506.27" y="431.74" width="119.77" height="32.63" fill="#e9edf3"/>
<rect x="626.04" y="431.74" width="119.77" height="32.63" fill="#e9edf3"/>
<rect x="745.81" y="431.74" width="119.77" height="32.63" fill="#73a6d9"/>
<rect x="865.58" y="431.74" width="119.77" height="32.63" fill="#e9edf3"/>
<rect x="985.35" y="431.74" width="119.77" height="32.63" fill="#e9edf3"/>
<rect x="1105.12" y="431.74" width="119.77" height="32.63" fill="#e9edf3"/>
<rect x="1224.89" y="431.74" width="119.77" height="32.63" fill="#3d7ec3"/>
<rect x="1344.66" y="431.74" width="119.77" height="32.63" fill="#e9edf3"/>
<rect x="1464.43" y="431.74" width="119.77" height="32.63" fill="#e9edf3"/>
<rect x="1584.20" y="431.74" width="119.77" height="32.63" fill="#e9edf3"/>
<rect x="1703.97" y="431.74" width="119.77" height="32.63" fill="#0f1c2e"/>
<rect x="1823.74" y="431.74" width="119.77" height="32.63" fill="#e9edf3"/>
<rect x="1943.51" y="431.74" width="119.77" height="32.63" fill="#e9edf3"/>
<rect x="2063.28" y="431.74" width="119.77" height="32.63" fill="#e9edf3"/>
<rect x="2183.05" y="431.74" width="119.77" height="32.63" fill="#0d1522"/>
<rect x="2302.82" y="431.74" width="142.68" height="32.63" fill="#e8eef6"/>
<rect x="0.00" y="464.37" width="386.50" height="32.63" fill="#ffffff"/>
<rect x="386.50" y="464.37" width="119.77" height="32.63" fill="#ffffff"/>
<rect x="506.27" y="464.37" width="119.77" height="32.63" fill="#ffffff"/>
<rect x="626.04" y="464.37" width="119.77" height="32.63" fill="#ffffff"/>
<rect x="745.81" y="464.37" width="119.77" height="32.63" fill="#73a6d9"/>
<rect x="865.58" y="464.37" width="119.77" height="32.63" fill="#ffffff"/>
<rect x="985.35" y="464.37" width="119.77" height="32.63" fill="#ffffff"/>
<rect x="1105.12" y="464.37" width="119.77" height="32.63" fill="#ffffff"/>
<rect x="1224.89" y="464.37" width="119.77" height="32.63" fill="#3d7ec3"/>
<rect x="1344.66" y="464.37" width="119.77" height="32.63" fill="#ffffff"/>
<rect x="1464.43" y="464.37" width="119.77" height="32.63" fill="#ffffff"/>
<rect x="1584.20" y="464.37" width="119.77" height="32.63" fill="#ffffff"/>
<rect x="1703.97" y="464.37" width="119.77" height="32.63" fill="#0f1c2e"/>
<rect x="1823.74" y="464.37" width="119.77" height="32.63" fill="#ffffff"/>
<rect x="1943.51" y="464.37" width="119.77" height="32.63" fill="#ffffff"/>
<rect x="2063.28" y="464.37" width="119.77" height="32.63" fill="#ffffff"/>
<rect x="2183.05" y="464.37" width="119.77" height="32.63" fill="#0d1522"/>
<rect x="2302.82" y="464.37" width="142.68" height="32.63" fill="#e8eef6"/>
<rect x="0.00" y="497.00" width="2445.50" height="57.30" fill="#e6e6e6"/>
<rect x="230.00" y="497.00" width="156.50" height="57.30" fill="#fbe2d5"/>
<rect x="-0.7" y="-1.6" width="626.74" height="1.4" fill="#e9eaeb"/>
<rect x="1105.12" y="-1.6" width="1341.08" height="1.4" fill="#e9eaeb"/>
<rect x="0" y="55.40" width="2445.50" height="1.4" fill="#bfbfbf"/>
<rect x="0" y="112.70" width="2445.50" height="1.4" fill="#bfbfbf"/>
<rect x="0" y="145.33" width="2445.50" height="1.4" fill="#bfbfbf"/>
<rect x="0" y="177.96" width="2445.50" height="1.4" fill="#bfbfbf"/>
<rect x="0" y="210.59" width="2445.50" height="1.4" fill="#bfbfbf"/>
<rect x="0" y="243.22" width="2445.50" height="1.4" fill="#bfbfbf"/>
<rect x="0" y="275.85" width="2445.50" height="1.4" fill="#bfbfbf"/>
<rect x="0" y="333.15" width="2445.50" height="1.4" fill="#bfbfbf"/>
<rect x="0" y="365.78" width="2445.50" height="1.4" fill="#bfbfbf"/>
<rect x="0" y="398.41" width="2445.50" height="1.4" fill="#bfbfbf"/>
<rect x="0" y="431.04" width="2445.50" height="1.4" fill="#bfbfbf"/>
<rect x="0" y="463.67" width="2445.50" height="1.4" fill="#bfbfbf"/>
<rect x="0" y="496.30" width="2445.50" height="1.4" fill="#bfbfbf"/>
<rect x="-0.70" y="-1.6" width="1.4" height="502.21" fill="#bfbfbf"/>
<rect x="229.30" y="-1.6" width="1.4" height="57.70" fill="#9fb3bf"/>
<rect x="229.30" y="56.10" width="1.4" height="57.30" fill="#bfbfbf"/>
<rect x="229.30" y="276.55" width="1.4" height="57.30" fill="#bfbfbf"/>
<rect x="229.30" y="497.00" width="1.4" height="57.30" fill="#bfbfbf"/>
<rect x="385.80" y="-1.6" width="1.4" height="502.21" fill="#bfbfbf"/>
<rect x="505.57" y="-1.6" width="1.4" height="502.21" fill="#bfbfbf"/>
<rect x="625.34" y="-1.6" width="1.4" height="502.21" fill="#bfbfbf"/>
<rect x="745.11" y="-1.6" width="1.4" height="502.21" fill="#bfbfbf"/>
<rect x="984.65" y="-1.6" width="1.4" height="502.21" fill="#bfbfbf"/>
<rect x="1104.42" y="-1.6" width="1.4" height="502.21" fill="#bfbfbf"/>
<rect x="1224.19" y="-1.6" width="1.4" height="502.21" fill="#bfbfbf"/>
<rect x="1463.73" y="-1.6" width="1.4" height="502.21" fill="#bfbfbf"/>
<rect x="1583.50" y="-1.6" width="1.4" height="502.21" fill="#bfbfbf"/>
<rect x="1703.27" y="-1.6" width="1.4" height="502.21" fill="#bfbfbf"/>
<rect x="1942.81" y="-1.6" width="1.4" height="502.21" fill="#bfbfbf"/>
<rect x="2062.58" y="-1.6" width="1.4" height="502.21" fill="#bfbfbf"/>
<rect x="2182.35" y="-1.6" width="1.4" height="502.21" fill="#bfbfbf"/>
<rect x="2444.80" y="-1.6" width="1.4" height="502.21" fill="#bfbfbf"/>
<rect x="863.68" y="-1.6" width="4.0" height="502.21" fill="#7f7f7f"/>
<rect x="1342.76" y="-1.6" width="4.0" height="502.21" fill="#7f7f7f"/>
<rect x="1821.84" y="-1.6" width="4.0" height="502.21" fill="#7f7f7f"/>
<rect x="2300.92" y="-1.6" width="4.0" height="502.21" fill="#7f7f7f"/>
<path d="M746.51 179.36 h8.3 l-8.3 8.3 z" fill="#1f8f3f"/>
<path d="M1225.59 179.36 h8.3 l-8.3 8.3 z" fill="#1f8f3f"/>
<path d="M1704.67 179.36 h8.3 l-8.3 8.3 z" fill="#1f8f3f"/>
<path d="M2183.75 179.36 h8.3 l-8.3 8.3 z" fill="#1f8f3f"/>
<path d="M746.51 399.81 h8.3 l-8.3 8.3 z" fill="#1f8f3f"/>
<path d="M1225.59 399.81 h8.3 l-8.3 8.3 z" fill="#1f8f3f"/>
<path d="M1704.67 399.81 h8.3 l-8.3 8.3 z" fill="#1f8f3f"/>
<path d="M2183.75 399.81 h8.3 l-8.3 8.3 z" fill="#1f8f3f"/>
<text x="19.37" y="34.10" font-size="17.4" font-weight="bold" fill="#ffffff" textLength="83.21" lengthAdjust="spacingAndGlyphs">Category</text>
<text x="253.32" y="34.10" font-size="17.4" font-weight="bold" fill="#ffffff" textLength="110.94" lengthAdjust="spacingAndGlyphs">Budget Type</text>
<text x="430.25" y="34.10" font-size="17.4" font-weight="bold" fill="#ffffff" textLength="35.33" lengthAdjust="spacingAndGlyphs">JAN</text>
<text x="551.80" y="34.10" font-size="17.4" font-weight="bold" fill="#ffffff" textLength="29.22" lengthAdjust="spacingAndGlyphs">FEB</text>
<text x="665.96" y="34.10" font-size="17.4" font-weight="bold" fill="#ffffff" textLength="40.98" lengthAdjust="spacingAndGlyphs">MAR</text>
<text x="764.01" y="34.10" font-size="17.4" font-weight="bold" fill="#ffffff" textLength="83.66" lengthAdjust="spacingAndGlyphs">Q1 TOTAL</text>
<text x="909.55" y="34.10" font-size="17.4" font-weight="bold" fill="#ffffff" textLength="32.88" lengthAdjust="spacingAndGlyphs">APR</text>
<text x="1024.32" y="34.10" font-size="17.4" font-weight="bold" fill="#ffffff" textLength="42.29" lengthAdjust="spacingAndGlyphs">MAY</text>
<text x="1149.92" y="34.10" font-size="17.4" font-weight="bold" fill="#ffffff" textLength="32.52" lengthAdjust="spacingAndGlyphs">JUN</text>
<text x="1242.86" y="34.10" font-size="17.4" font-weight="bold" fill="#ffffff" textLength="83.56" lengthAdjust="spacingAndGlyphs">Q2 TOTAL</text>
<text x="1391.99" y="34.10" font-size="17.4" font-weight="bold" fill="#ffffff" textLength="27.32" lengthAdjust="spacingAndGlyphs">JUL</text>
<text x="1505.13" y="34.10" font-size="17.4" font-weight="bold" fill="#ffffff" textLength="40.23" lengthAdjust="spacingAndGlyphs">AUG</text>
<text x="1625.24" y="34.10" font-size="17.4" font-weight="bold" fill="#ffffff" textLength="37.68" lengthAdjust="spacingAndGlyphs">SEPT</text>
<text x="1721.91" y="34.10" font-size="17.4" font-weight="bold" fill="#ffffff" textLength="83.66" lengthAdjust="spacingAndGlyphs">Q3 TOTAL</text>
<text x="1865.15" y="34.10" font-size="17.4" font-weight="bold" fill="#ffffff" textLength="36.57" lengthAdjust="spacingAndGlyphs">OCT</text>
<text x="1982.61" y="34.10" font-size="17.4" font-weight="bold" fill="#ffffff" textLength="41.81" lengthAdjust="spacingAndGlyphs">NOV</text>
<text x="2105.41" y="34.10" font-size="17.4" font-weight="bold" fill="#ffffff" textLength="36.42" lengthAdjust="spacingAndGlyphs">DEC</text>
<text x="2200.86" y="34.10" font-size="17.4" font-weight="bold" fill="#ffffff" textLength="83.56" lengthAdjust="spacingAndGlyphs">Q4 TOTAL</text>
<text x="2335.92" y="34.10" font-size="17.4" font-weight="bold" fill="#ffffff" textLength="79.52" lengthAdjust="spacingAndGlyphs">YR TOTAL</text>
<text x="19.98" y="78.70" font-size="17" font-weight="bold" fill="#000000" textLength="169.74" lengthAdjust="spacingAndGlyphs">Cloud Services (AWS,</text>
<text x="20.22" y="103.00" font-size="17" font-weight="bold" fill="#000000" textLength="158.80" lengthAdjust="spacingAndGlyphs">Azure, Annual Saas)</text>
<text x="286.47" y="91.30" font-size="17.6" fill="#e4763a" textLength="43.09" lengthAdjust="spacingAndGlyphs">OpEx</text>
<text x="307.45" y="134.00" font-size="17" fill="#2b2b2b" textLength="59.19" lengthAdjust="spacingAndGlyphs">Budget</text>
<text x="396.75" y="134.00" font-size="17" fill="#2b2b2b" textLength="9.56" lengthAdjust="spacingAndGlyphs">$</text>
<text x="432.95" y="134.00" font-size="17" fill="#2b2b2b" textLength="64.48" lengthAdjust="spacingAndGlyphs">1,000.00</text>
<text x="516.52" y="134.00" font-size="17" fill="#2b2b2b" textLength="9.56" lengthAdjust="spacingAndGlyphs">$</text>
<text x="552.72" y="134.00" font-size="17" fill="#2b2b2b" textLength="64.48" lengthAdjust="spacingAndGlyphs">1,000.00</text>
<text x="636.29" y="134.00" font-size="17" fill="#2b2b2b" textLength="9.56" lengthAdjust="spacingAndGlyphs">$</text>
<text x="672.49" y="134.00" font-size="17" fill="#2b2b2b" textLength="64.48" lengthAdjust="spacingAndGlyphs">1,000.00</text>
<text x="756.06" y="134.00" font-size="17" fill="#1c2a3a" textLength="9.56" lengthAdjust="spacingAndGlyphs">$</text>
<text x="790.93" y="134.00" font-size="17" fill="#1c2a3a" textLength="65.82" lengthAdjust="spacingAndGlyphs">3,000.00</text>
<text x="875.83" y="134.00" font-size="17" fill="#2b2b2b" textLength="9.56" lengthAdjust="spacingAndGlyphs">$</text>
<text x="912.03" y="134.00" font-size="17" fill="#2b2b2b" textLength="64.48" lengthAdjust="spacingAndGlyphs">1,000.00</text>
<text x="995.60" y="134.00" font-size="17" fill="#2b2b2b" textLength="9.56" lengthAdjust="spacingAndGlyphs">$</text>
<text x="1031.80" y="134.00" font-size="17" fill="#2b2b2b" textLength="64.48" lengthAdjust="spacingAndGlyphs">1,000.00</text>
<text x="1115.37" y="134.00" font-size="17" fill="#2b2b2b" textLength="9.56" lengthAdjust="spacingAndGlyphs">$</text>
<text x="1151.57" y="134.00" font-size="17" fill="#2b2b2b" textLength="64.48" lengthAdjust="spacingAndGlyphs">1,000.00</text>
<text x="1235.14" y="134.00" font-size="17" fill="#f2f6fb" textLength="9.56" lengthAdjust="spacingAndGlyphs">$</text>
<text x="1270.01" y="134.00" font-size="17" fill="#f2f6fb" textLength="65.82" lengthAdjust="spacingAndGlyphs">3,000.00</text>
<text x="1354.91" y="134.00" font-size="17" fill="#2b2b2b" textLength="9.56" lengthAdjust="spacingAndGlyphs">$</text>
<text x="1391.11" y="134.00" font-size="17" fill="#2b2b2b" textLength="64.48" lengthAdjust="spacingAndGlyphs">1,000.00</text>
<text x="1474.68" y="134.00" font-size="17" fill="#2b2b2b" textLength="9.56" lengthAdjust="spacingAndGlyphs">$</text>
<text x="1510.88" y="134.00" font-size="17" fill="#2b2b2b" textLength="64.48" lengthAdjust="spacingAndGlyphs">1,000.00</text>
<text x="1594.45" y="134.00" font-size="17" fill="#2b2b2b" textLength="9.56" lengthAdjust="spacingAndGlyphs">$</text>
<text x="1630.65" y="134.00" font-size="17" fill="#2b2b2b" textLength="64.48" lengthAdjust="spacingAndGlyphs">1,000.00</text>
<text x="1714.22" y="134.00" font-size="17" fill="#ffffff" textLength="9.56" lengthAdjust="spacingAndGlyphs">$</text>
<text x="1749.09" y="134.00" font-size="17" fill="#ffffff" textLength="65.82" lengthAdjust="spacingAndGlyphs">3,000.00</text>
<text x="1833.99" y="134.00" font-size="17" fill="#2b2b2b" textLength="9.56" lengthAdjust="spacingAndGlyphs">$</text>
<text x="1870.19" y="134.00" font-size="17" fill="#2b2b2b" textLength="64.48" lengthAdjust="spacingAndGlyphs">1,000.00</text>
<text x="1953.76" y="134.00" font-size="17" fill="#2b2b2b" textLength="9.56" lengthAdjust="spacingAndGlyphs">$</text>
<text x="1989.96" y="134.00" font-size="17" fill="#2b2b2b" textLength="64.48" lengthAdjust="spacingAndGlyphs">1,000.00</text>
<text x="2073.53" y="134.00" font-size="17" fill="#2b2b2b" textLength="9.56" lengthAdjust="spacingAndGlyphs">$</text>
<text x="2109.73" y="134.00" font-size="17" fill="#2b2b2b" textLength="64.48" lengthAdjust="spacingAndGlyphs">1,000.00</text>
<text x="2193.30" y="134.00" font-size="17" fill="#ffffff" textLength="9.56" lengthAdjust="spacingAndGlyphs">$</text>
<text x="2228.17" y="134.00" font-size="17" fill="#ffffff" textLength="65.82" lengthAdjust="spacingAndGlyphs">3,000.00</text>
<text x="2313.25" y="134.90" font-size="16.6" font-weight="bold" fill="#000000" textLength="9.92" lengthAdjust="spacingAndGlyphs">$</text>
<text x="2361.19" y="134.90" font-size="16.4" font-weight="bold" fill="#000000" textLength="73.62" lengthAdjust="spacingAndGlyphs">12,000.00</text>
<text x="312.60" y="166.63" font-size="17" fill="#2b2b2b" textLength="55.07" lengthAdjust="spacingAndGlyphs">Actual</text>
<text x="396.75" y="166.63" font-size="17" fill="#2b2b2b" textLength="9.56" lengthAdjust="spacingAndGlyphs">$</text>
<text x="445.72" y="166.63" font-size="17" fill="#2b2b2b" textLength="51.79" lengthAdjust="spacingAndGlyphs">500.00</text>
<text x="516.52" y="166.63" font-size="17" fill="#2b2b2b" textLength="9.56" lengthAdjust="spacingAndGlyphs">$</text>
<text x="566.00" y="166.63" font-size="17" fill="#2b2b2b" textLength="51.28" lengthAdjust="spacingAndGlyphs">700.00</text>
<text x="636.29" y="166.63" font-size="17" fill="#2b2b2b" textLength="9.56" lengthAdjust="spacingAndGlyphs">$</text>
<text x="672.49" y="166.63" font-size="17" fill="#2b2b2b" textLength="64.48" lengthAdjust="spacingAndGlyphs">1,100.00</text>
<text x="756.06" y="166.63" font-size="17" fill="#1c2a3a" textLength="9.56" lengthAdjust="spacingAndGlyphs">$</text>
<text x="791.44" y="166.63" font-size="17" fill="#1c2a3a" textLength="65.31" lengthAdjust="spacingAndGlyphs">2,300.00</text>
<text x="875.83" y="166.63" font-size="17" fill="#2b2b2b" textLength="9.56" lengthAdjust="spacingAndGlyphs">$</text>
<text x="924.80" y="166.63" font-size="17" fill="#2b2b2b" textLength="51.79" lengthAdjust="spacingAndGlyphs">500.00</text>
<text x="995.60" y="166.63" font-size="17" fill="#2b2b2b" textLength="9.56" lengthAdjust="spacingAndGlyphs">$</text>
<text x="1045.08" y="166.63" font-size="17" fill="#2b2b2b" textLength="51.28" lengthAdjust="spacingAndGlyphs">700.00</text>
<text x="1115.37" y="166.63" font-size="17" fill="#2b2b2b" textLength="9.56" lengthAdjust="spacingAndGlyphs">$</text>
<text x="1151.57" y="166.63" font-size="17" fill="#2b2b2b" textLength="64.48" lengthAdjust="spacingAndGlyphs">1,100.00</text>
<text x="1235.14" y="166.63" font-size="17" fill="#f2f6fb" textLength="9.56" lengthAdjust="spacingAndGlyphs">$</text>
<text x="1270.52" y="166.63" font-size="17" fill="#f2f6fb" textLength="65.31" lengthAdjust="spacingAndGlyphs">2,300.00</text>
<text x="1354.91" y="166.63" font-size="17" fill="#2b2b2b" textLength="9.56" lengthAdjust="spacingAndGlyphs">$</text>
<text x="1403.88" y="166.63" font-size="17" fill="#2b2b2b" textLength="51.79" lengthAdjust="spacingAndGlyphs">500.00</text>
<text x="1474.68" y="166.63" font-size="17" fill="#2b2b2b" textLength="9.56" lengthAdjust="spacingAndGlyphs">$</text>
<text x="1524.16" y="166.63" font-size="17" fill="#2b2b2b" textLength="51.28" lengthAdjust="spacingAndGlyphs">700.00</text>
<text x="1594.45" y="166.63" font-size="17" fill="#2b2b2b" textLength="9.56" lengthAdjust="spacingAndGlyphs">$</text>
<text x="1630.65" y="166.63" font-size="17" fill="#2b2b2b" textLength="64.48" lengthAdjust="spacingAndGlyphs">1,100.00</text>
<text x="1714.22" y="166.63" font-size="17" fill="#ffffff" textLength="9.56" lengthAdjust="spacingAndGlyphs">$</text>
<text x="1749.60" y="166.63" font-size="17" fill="#ffffff" textLength="65.31" lengthAdjust="spacingAndGlyphs">2,300.00</text>
<text x="1833.99" y="166.63" font-size="17" fill="#2b2b2b" textLength="9.56" lengthAdjust="spacingAndGlyphs">$</text>
<text x="1882.96" y="166.63" font-size="17" fill="#2b2b2b" textLength="51.79" lengthAdjust="spacingAndGlyphs">500.00</text>
<text x="1953.76" y="166.63" font-size="17" fill="#2b2b2b" textLength="9.56" lengthAdjust="spacingAndGlyphs">$</text>
<text x="2003.24" y="166.63" font-size="17" fill="#2b2b2b" textLength="51.28" lengthAdjust="spacingAndGlyphs">700.00</text>
<text x="2073.53" y="166.63" font-size="17" fill="#2b2b2b" textLength="9.56" lengthAdjust="spacingAndGlyphs">$</text>
<text x="2109.73" y="166.63" font-size="17" fill="#2b2b2b" textLength="64.48" lengthAdjust="spacingAndGlyphs">1,100.00</text>
<text x="2193.30" y="166.63" font-size="17" fill="#ffffff" textLength="9.56" lengthAdjust="spacingAndGlyphs">$</text>
<text x="2228.68" y="166.63" font-size="17" fill="#ffffff" textLength="65.31" lengthAdjust="spacingAndGlyphs">2,300.00</text>
<text x="2313.25" y="167.53" font-size="16.6" font-weight="bold" fill="#000000" textLength="9.92" lengthAdjust="spacingAndGlyphs">$</text>
<text x="2371.00" y="167.53" font-size="16.4" font-weight="bold" fill="#000000" textLength="63.68" lengthAdjust="spacingAndGlyphs">9,200.00</text>
<text x="147.10" y="199.26" font-size="17" fill="#2b2b2b" textLength="220.49" lengthAdjust="spacingAndGlyphs">Variance (auto-calculates)</text>
<text x="396.75" y="199.26" font-size="17" fill="#2b2b2b" textLength="9.56" lengthAdjust="spacingAndGlyphs">$</text>
<text x="439.89" y="199.26" font-size="17" fill="#2b2b2b" textLength="62.23" lengthAdjust="spacingAndGlyphs">(500.00)</text>
<text x="516.52" y="199.26" font-size="17" fill="#2b2b2b" textLength="9.56" lengthAdjust="spacingAndGlyphs">$</text>
<text x="559.25" y="199.26" font-size="17" fill="#2b2b2b" textLength="62.65" lengthAdjust="spacingAndGlyphs">(300.00)</text>
<text x="636.29" y="199.26" font-size="17" fill="#2b2b2b" textLength="9.56" lengthAdjust="spacingAndGlyphs">$</text>
<text x="686.29" y="199.26" font-size="17" fill="#2b2b2b" textLength="50.75" lengthAdjust="spacingAndGlyphs">100.00</text>
<text x="756.24" y="200.16" font-size="16.6" font-weight="bold" fill="#000000" textLength="9.92" lengthAdjust="spacingAndGlyphs">$</text>
<text x="796.37" y="200.16" font-size="16.4" font-weight="bold" fill="#000000" textLength="65.90" lengthAdjust="spacingAndGlyphs">(700.00)</text>
<text x="875.83" y="199.26" font-size="17" fill="#2b2b2b" textLength="9.56" lengthAdjust="spacingAndGlyphs">$</text>
<text x="918.97" y="199.26" font-size="17" fill="#2b2b2b" textLength="62.23" lengthAdjust="spacingAndGlyphs">(500.00)</text>
<text x="995.60" y="199.26" font-size="17" fill="#2b2b2b" textLength="9.56" lengthAdjust="spacingAndGlyphs">$</text>
<text x="1038.33" y="199.26" font-size="17" fill="#2b2b2b" textLength="62.65" lengthAdjust="spacingAndGlyphs">(300.00)</text>
<text x="1115.37" y="199.26" font-size="17" fill="#2b2b2b" textLength="9.56" lengthAdjust="spacingAndGlyphs">$</text>
<text x="1165.37" y="199.26" font-size="17" fill="#2b2b2b" textLength="50.75" lengthAdjust="spacingAndGlyphs">100.00</text>
<text x="1235.32" y="200.16" font-size="16.6" font-weight="bold" fill="#000000" textLength="9.92" lengthAdjust="spacingAndGlyphs">$</text>
<text x="1275.45" y="200.16" font-size="16.4" font-weight="bold" fill="#000000" textLength="65.90" lengthAdjust="spacingAndGlyphs">(700.00)</text>
<text x="1354.91" y="199.26" font-size="17" fill="#2b2b2b" textLength="9.56" lengthAdjust="spacingAndGlyphs">$</text>
<text x="1398.05" y="199.26" font-size="17" fill="#2b2b2b" textLength="62.23" lengthAdjust="spacingAndGlyphs">(500.00)</text>
<text x="1474.68" y="199.26" font-size="17" fill="#2b2b2b" textLength="9.56" lengthAdjust="spacingAndGlyphs">$</text>
<text x="1517.41" y="199.26" font-size="17" fill="#2b2b2b" textLength="62.65" lengthAdjust="spacingAndGlyphs">(300.00)</text>
<text x="1594.45" y="199.26" font-size="17" fill="#2b2b2b" textLength="9.56" lengthAdjust="spacingAndGlyphs">$</text>
<text x="1644.45" y="199.26" font-size="17" fill="#2b2b2b" textLength="50.75" lengthAdjust="spacingAndGlyphs">100.00</text>
<text x="1714.40" y="200.16" font-size="16.6" font-weight="bold" fill="#000000" textLength="9.92" lengthAdjust="spacingAndGlyphs">$</text>
<text x="1754.53" y="200.16" font-size="16.4" font-weight="bold" fill="#000000" textLength="65.90" lengthAdjust="spacingAndGlyphs">(700.00)</text>
<text x="1833.99" y="199.26" font-size="17" fill="#2b2b2b" textLength="9.56" lengthAdjust="spacingAndGlyphs">$</text>
<text x="1877.13" y="199.26" font-size="17" fill="#2b2b2b" textLength="62.23" lengthAdjust="spacingAndGlyphs">(500.00)</text>
<text x="1953.76" y="199.26" font-size="17" fill="#2b2b2b" textLength="9.56" lengthAdjust="spacingAndGlyphs">$</text>
<text x="1996.49" y="199.26" font-size="17" fill="#2b2b2b" textLength="62.65" lengthAdjust="spacingAndGlyphs">(300.00)</text>
<text x="2073.53" y="199.26" font-size="17" fill="#2b2b2b" textLength="9.56" lengthAdjust="spacingAndGlyphs">$</text>
<text x="2123.53" y="199.26" font-size="17" fill="#2b2b2b" textLength="50.75" lengthAdjust="spacingAndGlyphs">100.00</text>
<text x="2193.48" y="200.16" font-size="16.6" font-weight="bold" fill="#000000" textLength="9.92" lengthAdjust="spacingAndGlyphs">$</text>
<text x="2233.61" y="200.16" font-size="16.4" font-weight="bold" fill="#000000" textLength="65.90" lengthAdjust="spacingAndGlyphs">(700.00)</text>
<text x="2313.25" y="200.16" font-size="16.6" font-weight="bold" fill="#000000" textLength="9.92" lengthAdjust="spacingAndGlyphs">$</text>
<text x="2363.21" y="200.16" font-size="16.4" font-weight="bold" fill="#000000" textLength="78.99" lengthAdjust="spacingAndGlyphs">(2,800.00)</text>
<text x="198.57" y="231.89" font-size="17" fill="#2b2b2b" textLength="169.22" lengthAdjust="spacingAndGlyphs">Previous Year Actual</text>
<text x="396.75" y="231.89" font-size="17" fill="#2b2b2b" textLength="9.56" lengthAdjust="spacingAndGlyphs">$</text>
<text x="446.23" y="231.89" font-size="17" fill="#2b2b2b" textLength="51.28" lengthAdjust="spacingAndGlyphs">700.00</text>
<text x="516.52" y="231.89" font-size="17" fill="#2b2b2b" textLength="9.56" lengthAdjust="spacingAndGlyphs">$</text>
<text x="552.72" y="231.89" font-size="17" fill="#2b2b2b" textLength="64.48" lengthAdjust="spacingAndGlyphs">1,100.00</text>
<text x="636.29" y="231.89" font-size="17" fill="#2b2b2b" textLength="9.56" lengthAdjust="spacingAndGlyphs">$</text>
<text x="685.26" y="231.89" font-size="17" fill="#2b2b2b" textLength="51.79" lengthAdjust="spacingAndGlyphs">800.00</text>
<text x="756.06" y="231.89" font-size="17" fill="#1c2a3a" textLength="9.56" lengthAdjust="spacingAndGlyphs">$</text>
<text x="791.44" y="231.89" font-size="17" fill="#1c2a3a" textLength="65.31" lengthAdjust="spacingAndGlyphs">2,600.00</text>
<text x="875.83" y="231.89" font-size="17" fill="#2b2b2b" textLength="9.56" lengthAdjust="spacingAndGlyphs">$</text>
<text x="925.31" y="231.89" font-size="17" fill="#2b2b2b" textLength="51.28" lengthAdjust="spacingAndGlyphs">700.00</text>
<text x="995.60" y="231.89" font-size="17" fill="#2b2b2b" textLength="9.56" lengthAdjust="spacingAndGlyphs">$</text>
<text x="1031.80" y="231.89" font-size="17" fill="#2b2b2b" textLength="64.48" lengthAdjust="spacingAndGlyphs">1,100.00</text>
<text x="1115.37" y="231.89" font-size="17" fill="#2b2b2b" textLength="9.56" lengthAdjust="spacingAndGlyphs">$</text>
<text x="1164.34" y="231.89" font-size="17" fill="#2b2b2b" textLength="51.79" lengthAdjust="spacingAndGlyphs">800.00</text>
<text x="1235.14" y="231.89" font-size="17" fill="#f2f6fb" textLength="9.56" lengthAdjust="spacingAndGlyphs">$</text>
<text x="1270.52" y="231.89" font-size="17" fill="#f2f6fb" textLength="65.31" lengthAdjust="spacingAndGlyphs">2,600.00</text>
<text x="1354.91" y="231.89" font-size="17" fill="#2b2b2b" textLength="9.56" lengthAdjust="spacingAndGlyphs">$</text>
<text x="1404.39" y="231.89" font-size="17" fill="#2b2b2b" textLength="51.28" lengthAdjust="spacingAndGlyphs">700.00</text>
<text x="1474.68" y="231.89" font-size="17" fill="#2b2b2b" textLength="9.56" lengthAdjust="spacingAndGlyphs">$</text>
<text x="1510.88" y="231.89" font-size="17" fill="#2b2b2b" textLength="64.48" lengthAdjust="spacingAndGlyphs">1,100.00</text>
<text x="1594.45" y="231.89" font-size="17" fill="#2b2b2b" textLength="9.56" lengthAdjust="spacingAndGlyphs">$</text>
<text x="1643.42" y="231.89" font-size="17" fill="#2b2b2b" textLength="51.79" lengthAdjust="spacingAndGlyphs">800.00</text>
<text x="1714.22" y="231.89" font-size="17" fill="#ffffff" textLength="9.56" lengthAdjust="spacingAndGlyphs">$</text>
<text x="1749.60" y="231.89" font-size="17" fill="#ffffff" textLength="65.31" lengthAdjust="spacingAndGlyphs">2,600.00</text>
<text x="1833.99" y="231.89" font-size="17" fill="#2b2b2b" textLength="9.56" lengthAdjust="spacingAndGlyphs">$</text>
<text x="1883.47" y="231.89" font-size="17" fill="#2b2b2b" textLength="51.28" lengthAdjust="spacingAndGlyphs">700.00</text>
<text x="1953.76" y="231.89" font-size="17" fill="#2b2b2b" textLength="9.56" lengthAdjust="spacingAndGlyphs">$</text>
<text x="1989.96" y="231.89" font-size="17" fill="#2b2b2b" textLength="64.48" lengthAdjust="spacingAndGlyphs">1,100.00</text>
<text x="2073.53" y="231.89" font-size="17" fill="#2b2b2b" textLength="9.56" lengthAdjust="spacingAndGlyphs">$</text>
<text x="2122.50" y="231.89" font-size="17" fill="#2b2b2b" textLength="51.79" lengthAdjust="spacingAndGlyphs">800.00</text>
<text x="2193.30" y="231.89" font-size="17" fill="#ffffff" textLength="9.56" lengthAdjust="spacingAndGlyphs">$</text>
<text x="2228.68" y="231.89" font-size="17" fill="#ffffff" textLength="65.31" lengthAdjust="spacingAndGlyphs">2,600.00</text>
<text x="2313.25" y="232.79" font-size="16.6" font-weight="bold" fill="#000000" textLength="9.92" lengthAdjust="spacingAndGlyphs">$</text>
<text x="2361.19" y="232.79" font-size="16.4" font-weight="bold" fill="#000000" textLength="73.62" lengthAdjust="spacingAndGlyphs">10,400.00</text>
<text x="177.98" y="264.52" font-size="17" fill="#2b2b2b" textLength="189.29" lengthAdjust="spacingAndGlyphs">Previous Year Variance</text>
<text x="396.75" y="264.52" font-size="17" fill="#2b2b2b" textLength="9.56" lengthAdjust="spacingAndGlyphs">$</text>
<text x="439.89" y="264.52" font-size="17" fill="#2b2b2b" textLength="62.23" lengthAdjust="spacingAndGlyphs">(200.00)</text>
<text x="516.52" y="264.52" font-size="17" fill="#2b2b2b" textLength="9.56" lengthAdjust="spacingAndGlyphs">$</text>
<text x="559.66" y="264.52" font-size="17" fill="#2b2b2b" textLength="62.23" lengthAdjust="spacingAndGlyphs">(400.00)</text>
<text x="636.29" y="264.52" font-size="17" fill="#2b2b2b" textLength="9.56" lengthAdjust="spacingAndGlyphs">$</text>
<text x="685.26" y="264.52" font-size="17" fill="#2b2b2b" textLength="51.79" lengthAdjust="spacingAndGlyphs">300.00</text>
<text x="756.06" y="264.52" font-size="17" fill="#1c2a3a" textLength="9.56" lengthAdjust="spacingAndGlyphs">$</text>
<text x="798.79" y="264.52" font-size="17" fill="#1c2a3a" textLength="62.65" lengthAdjust="spacingAndGlyphs">(300.00)</text>
<text x="875.83" y="264.52" font-size="17" fill="#2b2b2b" textLength="9.56" lengthAdjust="spacingAndGlyphs">$</text>
<text x="918.97" y="264.52" font-size="17" fill="#2b2b2b" textLength="62.23" lengthAdjust="spacingAndGlyphs">(200.00)</text>
<text x="995.60" y="264.52" font-size="17" fill="#2b2b2b" textLength="9.56" lengthAdjust="spacingAndGlyphs">$</text>
<text x="1038.74" y="264.52" font-size="17" fill="#2b2b2b" textLength="62.23" lengthAdjust="spacingAndGlyphs">(400.00)</text>
<text x="1115.37" y="264.52" font-size="17" fill="#2b2b2b" textLength="9.56" lengthAdjust="spacingAndGlyphs">$</text>
<text x="1164.34" y="264.52" font-size="17" fill="#2b2b2b" textLength="51.79" lengthAdjust="spacingAndGlyphs">300.00</text>
<text x="1235.14" y="264.52" font-size="17" fill="#f2f6fb" textLength="9.56" lengthAdjust="spacingAndGlyphs">$</text>
<text x="1277.87" y="264.52" font-size="17" fill="#f2f6fb" textLength="62.65" lengthAdjust="spacingAndGlyphs">(300.00)</text>
<text x="1354.91" y="264.52" font-size="17" fill="#2b2b2b" textLength="9.56" lengthAdjust="spacingAndGlyphs">$</text>
<text x="1398.05" y="264.52" font-size="17" fill="#2b2b2b" textLength="62.23" lengthAdjust="spacingAndGlyphs">(200.00)</text>
<text x="1474.68" y="264.52" font-size="17" fill="#2b2b2b" textLength="9.56" lengthAdjust="spacingAndGlyphs">$</text>
<text x="1517.82" y="264.52" font-size="17" fill="#2b2b2b" textLength="62.23" lengthAdjust="spacingAndGlyphs">(400.00)</text>
<text x="1594.45" y="264.52" font-size="17" fill="#2b2b2b" textLength="9.56" lengthAdjust="spacingAndGlyphs">$</text>
<text x="1643.42" y="264.52" font-size="17" fill="#2b2b2b" textLength="51.79" lengthAdjust="spacingAndGlyphs">300.00</text>
<text x="1714.22" y="264.52" font-size="17" fill="#ffffff" textLength="9.56" lengthAdjust="spacingAndGlyphs">$</text>
<text x="1756.95" y="264.52" font-size="17" fill="#ffffff" textLength="62.65" lengthAdjust="spacingAndGlyphs">(300.00)</text>
<text x="1833.99" y="264.52" font-size="17" fill="#2b2b2b" textLength="9.56" lengthAdjust="spacingAndGlyphs">$</text>
<text x="1877.13" y="264.52" font-size="17" fill="#2b2b2b" textLength="62.23" lengthAdjust="spacingAndGlyphs">(200.00)</text>
<text x="1953.76" y="264.52" font-size="17" fill="#2b2b2b" textLength="9.56" lengthAdjust="spacingAndGlyphs">$</text>
<text x="1996.90" y="264.52" font-size="17" fill="#2b2b2b" textLength="62.23" lengthAdjust="spacingAndGlyphs">(400.00)</text>
<text x="2073.53" y="264.52" font-size="17" fill="#2b2b2b" textLength="9.56" lengthAdjust="spacingAndGlyphs">$</text>
<text x="2122.50" y="264.52" font-size="17" fill="#2b2b2b" textLength="51.79" lengthAdjust="spacingAndGlyphs">300.00</text>
<text x="2193.30" y="264.52" font-size="17" fill="#ffffff" textLength="9.56" lengthAdjust="spacingAndGlyphs">$</text>
<text x="2236.03" y="264.52" font-size="17" fill="#ffffff" textLength="62.65" lengthAdjust="spacingAndGlyphs">(300.00)</text>
<text x="2313.25" y="265.42" font-size="16.6" font-weight="bold" fill="#000000" textLength="9.92" lengthAdjust="spacingAndGlyphs">$</text>
<text x="2363.21" y="265.42" font-size="16.4" font-weight="bold" fill="#000000" textLength="78.99" lengthAdjust="spacingAndGlyphs">(1,200.00)</text>
<text x="20.24" y="299.15" font-size="17" font-weight="bold" fill="#000000" textLength="174.73" lengthAdjust="spacingAndGlyphs">Software Subscriptions</text>
<text x="19.95" y="323.45" font-size="17" font-weight="bold" fill="#000000" textLength="182.07" lengthAdjust="spacingAndGlyphs">(Monthly/Annual Saas)</text>
<text x="286.47" y="311.75" font-size="17.6" fill="#e4763a" textLength="43.09" lengthAdjust="spacingAndGlyphs">OpEx</text>
<text x="307.45" y="354.45" font-size="17" fill="#2b2b2b" textLength="59.19" lengthAdjust="spacingAndGlyphs">Budget</text>
<text x="396.75" y="354.45" font-size="17" fill="#2b2b2b" textLength="9.56" lengthAdjust="spacingAndGlyphs">$</text>
<text x="432.95" y="354.45" font-size="17" fill="#2b2b2b" textLength="64.48" lengthAdjust="spacingAndGlyphs">1,000.00</text>
<text x="516.52" y="354.45" font-size="17" fill="#2b2b2b" textLength="9.56" lengthAdjust="spacingAndGlyphs">$</text>
<text x="552.72" y="354.45" font-size="17" fill="#2b2b2b" textLength="64.48" lengthAdjust="spacingAndGlyphs">1,000.00</text>
<text x="636.29" y="354.45" font-size="17" fill="#2b2b2b" textLength="9.56" lengthAdjust="spacingAndGlyphs">$</text>
<text x="672.49" y="354.45" font-size="17" fill="#2b2b2b" textLength="64.48" lengthAdjust="spacingAndGlyphs">1,000.00</text>
<text x="756.06" y="354.45" font-size="17" fill="#1c2a3a" textLength="9.56" lengthAdjust="spacingAndGlyphs">$</text>
<text x="790.93" y="354.45" font-size="17" fill="#1c2a3a" textLength="65.82" lengthAdjust="spacingAndGlyphs">3,000.00</text>
<text x="875.83" y="354.45" font-size="17" fill="#2b2b2b" textLength="9.56" lengthAdjust="spacingAndGlyphs">$</text>
<text x="912.03" y="354.45" font-size="17" fill="#2b2b2b" textLength="64.48" lengthAdjust="spacingAndGlyphs">1,000.00</text>
<text x="995.60" y="354.45" font-size="17" fill="#2b2b2b" textLength="9.56" lengthAdjust="spacingAndGlyphs">$</text>
<text x="1031.80" y="354.45" font-size="17" fill="#2b2b2b" textLength="64.48" lengthAdjust="spacingAndGlyphs">1,000.00</text>
<text x="1115.37" y="354.45" font-size="17" fill="#2b2b2b" textLength="9.56" lengthAdjust="spacingAndGlyphs">$</text>
<text x="1151.57" y="354.45" font-size="17" fill="#2b2b2b" textLength="64.48" lengthAdjust="spacingAndGlyphs">1,000.00</text>
<text x="1235.14" y="354.45" font-size="17" fill="#f2f6fb" textLength="9.56" lengthAdjust="spacingAndGlyphs">$</text>
<text x="1270.01" y="354.45" font-size="17" fill="#f2f6fb" textLength="65.82" lengthAdjust="spacingAndGlyphs">3,000.00</text>
<text x="1354.91" y="354.45" font-size="17" fill="#2b2b2b" textLength="9.56" lengthAdjust="spacingAndGlyphs">$</text>
<text x="1391.11" y="354.45" font-size="17" fill="#2b2b2b" textLength="64.48" lengthAdjust="spacingAndGlyphs">1,000.00</text>
<text x="1474.68" y="354.45" font-size="17" fill="#2b2b2b" textLength="9.56" lengthAdjust="spacingAndGlyphs">$</text>
<text x="1510.88" y="354.45" font-size="17" fill="#2b2b2b" textLength="64.48" lengthAdjust="spacingAndGlyphs">1,000.00</text>
<text x="1594.45" y="354.45" font-size="17" fill="#2b2b2b" textLength="9.56" lengthAdjust="spacingAndGlyphs">$</text>
<text x="1630.65" y="354.45" font-size="17" fill="#2b2b2b" textLength="64.48" lengthAdjust="spacingAndGlyphs">1,000.00</text>
<text x="1714.22" y="354.45" font-size="17" fill="#ffffff" textLength="9.56" lengthAdjust="spacingAndGlyphs">$</text>
<text x="1749.09" y="354.45" font-size="17" fill="#ffffff" textLength="65.82" lengthAdjust="spacingAndGlyphs">3,000.00</text>
<text x="1833.99" y="354.45" font-size="17" fill="#2b2b2b" textLength="9.56" lengthAdjust="spacingAndGlyphs">$</text>
<text x="1870.19" y="354.45" font-size="17" fill="#2b2b2b" textLength="64.48" lengthAdjust="spacingAndGlyphs">1,000.00</text>
<text x="1953.76" y="354.45" font-size="17" fill="#2b2b2b" textLength="9.56" lengthAdjust="spacingAndGlyphs">$</text>
<text x="1989.96" y="354.45" font-size="17" fill="#2b2b2b" textLength="64.48" lengthAdjust="spacingAndGlyphs">1,000.00</text>
<text x="2073.53" y="354.45" font-size="17" fill="#2b2b2b" textLength="9.56" lengthAdjust="spacingAndGlyphs">$</text>
<text x="2109.73" y="354.45" font-size="17" fill="#2b2b2b" textLength="64.48" lengthAdjust="spacingAndGlyphs">1,000.00</text>
<text x="2193.30" y="354.45" font-size="17" fill="#ffffff" textLength="9.56" lengthAdjust="spacingAndGlyphs">$</text>
<text x="2228.17" y="354.45" font-size="17" fill="#ffffff" textLength="65.82" lengthAdjust="spacingAndGlyphs">3,000.00</text>
<text x="2313.25" y="355.35" font-size="16.6" font-weight="bold" fill="#000000" textLength="9.92" lengthAdjust="spacingAndGlyphs">$</text>
<text x="2361.19" y="355.35" font-size="16.4" font-weight="bold" fill="#000000" textLength="73.62" lengthAdjust="spacingAndGlyphs">12,000.00</text>
<text x="312.60" y="387.08" font-size="17" fill="#2b2b2b" textLength="55.07" lengthAdjust="spacingAndGlyphs">Actual</text>
<text x="396.75" y="387.08" font-size="17" fill="#2b2b2b" textLength="9.56" lengthAdjust="spacingAndGlyphs">$</text>
<text x="445.72" y="387.08" font-size="17" fill="#2b2b2b" textLength="51.79" lengthAdjust="spacingAndGlyphs">500.00</text>
<text x="516.52" y="387.08" font-size="17" fill="#2b2b2b" textLength="9.56" lengthAdjust="spacingAndGlyphs">$</text>
<text x="566.00" y="387.08" font-size="17" fill="#2b2b2b" textLength="51.28" lengthAdjust="spacingAndGlyphs">700.00</text>
<text x="636.29" y="387.08" font-size="17" fill="#2b2b2b" textLength="9.56" lengthAdjust="spacingAndGlyphs">$</text>
<text x="672.49" y="387.08" font-size="17" fill="#2b2b2b" textLength="64.48" lengthAdjust="spacingAndGlyphs">1,100.00</text>
<text x="756.06" y="387.08" font-size="17" fill="#1c2a3a" textLength="9.56" lengthAdjust="spacingAndGlyphs">$</text>
<text x="791.44" y="387.08" font-size="17" fill="#1c2a3a" textLength="65.31" lengthAdjust="spacingAndGlyphs">2,300.00</text>
<text x="875.83" y="387.08" font-size="17" fill="#2b2b2b" textLength="9.56" lengthAdjust="spacingAndGlyphs">$</text>
<text x="924.80" y="387.08" font-size="17" fill="#2b2b2b" textLength="51.79" lengthAdjust="spacingAndGlyphs">500.00</text>
<text x="995.60" y="387.08" font-size="17" fill="#2b2b2b" textLength="9.56" lengthAdjust="spacingAndGlyphs">$</text>
<text x="1045.08" y="387.08" font-size="17" fill="#2b2b2b" textLength="51.28" lengthAdjust="spacingAndGlyphs">700.00</text>
<text x="1115.37" y="387.08" font-size="17" fill="#2b2b2b" textLength="9.56" lengthAdjust="spacingAndGlyphs">$</text>
<text x="1151.57" y="387.08" font-size="17" fill="#2b2b2b" textLength="64.48" lengthAdjust="spacingAndGlyphs">1,100.00</text>
<text x="1235.14" y="387.08" font-size="17" fill="#f2f6fb" textLength="9.56" lengthAdjust="spacingAndGlyphs">$</text>
<text x="1270.52" y="387.08" font-size="17" fill="#f2f6fb" textLength="65.31" lengthAdjust="spacingAndGlyphs">2,300.00</text>
<text x="1354.91" y="387.08" font-size="17" fill="#2b2b2b" textLength="9.56" lengthAdjust="spacingAndGlyphs">$</text>
<text x="1403.88" y="387.08" font-size="17" fill="#2b2b2b" textLength="51.79" lengthAdjust="spacingAndGlyphs">500.00</text>
<text x="1474.68" y="387.08" font-size="17" fill="#2b2b2b" textLength="9.56" lengthAdjust="spacingAndGlyphs">$</text>
<text x="1524.16" y="387.08" font-size="17" fill="#2b2b2b" textLength="51.28" lengthAdjust="spacingAndGlyphs">700.00</text>
<text x="1594.45" y="387.08" font-size="17" fill="#2b2b2b" textLength="9.56" lengthAdjust="spacingAndGlyphs">$</text>
<text x="1630.65" y="387.08" font-size="17" fill="#2b2b2b" textLength="64.48" lengthAdjust="spacingAndGlyphs">1,100.00</text>
<text x="1714.22" y="387.08" font-size="17" fill="#ffffff" textLength="9.56" lengthAdjust="spacingAndGlyphs">$</text>
<text x="1749.60" y="387.08" font-size="17" fill="#ffffff" textLength="65.31" lengthAdjust="spacingAndGlyphs">2,300.00</text>
<text x="1833.99" y="387.08" font-size="17" fill="#2b2b2b" textLength="9.56" lengthAdjust="spacingAndGlyphs">$</text>
<text x="1882.96" y="387.08" font-size="17" fill="#2b2b2b" textLength="51.79" lengthAdjust="spacingAndGlyphs">500.00</text>
<text x="1953.76" y="387.08" font-size="17" fill="#2b2b2b" textLength="9.56" lengthAdjust="spacingAndGlyphs">$</text>
<text x="2003.24" y="387.08" font-size="17" fill="#2b2b2b" textLength="51.28" lengthAdjust="spacingAndGlyphs">700.00</text>
<text x="2073.53" y="387.08" font-size="17" fill="#2b2b2b" textLength="9.56" lengthAdjust="spacingAndGlyphs">$</text>
<text x="2109.73" y="387.08" font-size="17" fill="#2b2b2b" textLength="64.48" lengthAdjust="spacingAndGlyphs">1,100.00</text>
<text x="2193.30" y="387.08" font-size="17" fill="#ffffff" textLength="9.56" lengthAdjust="spacingAndGlyphs">$</text>
<text x="2228.68" y="387.08" font-size="17" fill="#ffffff" textLength="65.31" lengthAdjust="spacingAndGlyphs">2,300.00</text>
<text x="2313.25" y="387.98" font-size="16.6" font-weight="bold" fill="#000000" textLength="9.92" lengthAdjust="spacingAndGlyphs">$</text>
<text x="2371.00" y="387.98" font-size="16.4" font-weight="bold" fill="#000000" textLength="63.68" lengthAdjust="spacingAndGlyphs">9,200.00</text>
<text x="147.10" y="419.71" font-size="17" fill="#2b2b2b" textLength="220.49" lengthAdjust="spacingAndGlyphs">Variance (auto-calculates)</text>
<text x="396.75" y="419.71" font-size="17" fill="#2b2b2b" textLength="9.56" lengthAdjust="spacingAndGlyphs">$</text>
<text x="439.89" y="419.71" font-size="17" fill="#2b2b2b" textLength="62.23" lengthAdjust="spacingAndGlyphs">(500.00)</text>
<text x="516.52" y="419.71" font-size="17" fill="#2b2b2b" textLength="9.56" lengthAdjust="spacingAndGlyphs">$</text>
<text x="559.25" y="419.71" font-size="17" fill="#2b2b2b" textLength="62.65" lengthAdjust="spacingAndGlyphs">(300.00)</text>
<text x="636.29" y="419.71" font-size="17" fill="#2b2b2b" textLength="9.56" lengthAdjust="spacingAndGlyphs">$</text>
<text x="686.29" y="419.71" font-size="17" fill="#2b2b2b" textLength="50.75" lengthAdjust="spacingAndGlyphs">100.00</text>
<text x="756.24" y="420.61" font-size="16.6" font-weight="bold" fill="#000000" textLength="9.92" lengthAdjust="spacingAndGlyphs">$</text>
<text x="796.37" y="420.61" font-size="16.4" font-weight="bold" fill="#000000" textLength="65.90" lengthAdjust="spacingAndGlyphs">(700.00)</text>
<text x="875.83" y="419.71" font-size="17" fill="#2b2b2b" textLength="9.56" lengthAdjust="spacingAndGlyphs">$</text>
<text x="918.97" y="419.71" font-size="17" fill="#2b2b2b" textLength="62.23" lengthAdjust="spacingAndGlyphs">(500.00)</text>
<text x="995.60" y="419.71" font-size="17" fill="#2b2b2b" textLength="9.56" lengthAdjust="spacingAndGlyphs">$</text>
<text x="1038.33" y="419.71" font-size="17" fill="#2b2b2b" textLength="62.65" lengthAdjust="spacingAndGlyphs">(300.00)</text>
<text x="1115.37" y="419.71" font-size="17" fill="#2b2b2b" textLength="9.56" lengthAdjust="spacingAndGlyphs">$</text>
<text x="1165.37" y="419.71" font-size="17" fill="#2b2b2b" textLength="50.75" lengthAdjust="spacingAndGlyphs">100.00</text>
<text x="1235.32" y="420.61" font-size="16.6" font-weight="bold" fill="#000000" textLength="9.92" lengthAdjust="spacingAndGlyphs">$</text>
<text x="1275.45" y="420.61" font-size="16.4" font-weight="bold" fill="#000000" textLength="65.90" lengthAdjust="spacingAndGlyphs">(700.00)</text>
<text x="1354.91" y="419.71" font-size="17" fill="#2b2b2b" textLength="9.56" lengthAdjust="spacingAndGlyphs">$</text>
<text x="1398.05" y="419.71" font-size="17" fill="#2b2b2b" textLength="62.23" lengthAdjust="spacingAndGlyphs">(500.00)</text>
<text x="1474.68" y="419.71" font-size="17" fill="#2b2b2b" textLength="9.56" lengthAdjust="spacingAndGlyphs">$</text>
<text x="1517.41" y="419.71" font-size="17" fill="#2b2b2b" textLength="62.65" lengthAdjust="spacingAndGlyphs">(300.00)</text>
<text x="1594.45" y="419.71" font-size="17" fill="#2b2b2b" textLength="9.56" lengthAdjust="spacingAndGlyphs">$</text>
<text x="1644.45" y="419.71" font-size="17" fill="#2b2b2b" textLength="50.75" lengthAdjust="spacingAndGlyphs">100.00</text>
<text x="1714.40" y="420.61" font-size="16.6" font-weight="bold" fill="#000000" textLength="9.92" lengthAdjust="spacingAndGlyphs">$</text>
<text x="1754.53" y="420.61" font-size="16.4" font-weight="bold" fill="#000000" textLength="65.90" lengthAdjust="spacingAndGlyphs">(700.00)</text>
<text x="1833.99" y="419.71" font-size="17" fill="#2b2b2b" textLength="9.56" lengthAdjust="spacingAndGlyphs">$</text>
<text x="1877.13" y="419.71" font-size="17" fill="#2b2b2b" textLength="62.23" lengthAdjust="spacingAndGlyphs">(500.00)</text>
<text x="1953.76" y="419.71" font-size="17" fill="#2b2b2b" textLength="9.56" lengthAdjust="spacingAndGlyphs">$</text>
<text x="1996.49" y="419.71" font-size="17" fill="#2b2b2b" textLength="62.65" lengthAdjust="spacingAndGlyphs">(300.00)</text>
<text x="2073.53" y="419.71" font-size="17" fill="#2b2b2b" textLength="9.56" lengthAdjust="spacingAndGlyphs">$</text>
<text x="2123.53" y="419.71" font-size="17" fill="#2b2b2b" textLength="50.75" lengthAdjust="spacingAndGlyphs">100.00</text>
<text x="2193.48" y="420.61" font-size="16.6" font-weight="bold" fill="#000000" textLength="9.92" lengthAdjust="spacingAndGlyphs">$</text>
<text x="2233.61" y="420.61" font-size="16.4" font-weight="bold" fill="#000000" textLength="65.90" lengthAdjust="spacingAndGlyphs">(700.00)</text>
<text x="2313.25" y="420.61" font-size="16.6" font-weight="bold" fill="#000000" textLength="9.92" lengthAdjust="spacingAndGlyphs">$</text>
<text x="2363.21" y="420.61" font-size="16.4" font-weight="bold" fill="#000000" textLength="78.99" lengthAdjust="spacingAndGlyphs">(2,800.00)</text>
<text x="198.57" y="452.34" font-size="17" fill="#2b2b2b" textLength="169.22" lengthAdjust="spacingAndGlyphs">Previous Year Actual</text>
<text x="396.75" y="452.34" font-size="17" fill="#2b2b2b" textLength="9.56" lengthAdjust="spacingAndGlyphs">$</text>
<text x="446.23" y="452.34" font-size="17" fill="#2b2b2b" textLength="51.28" lengthAdjust="spacingAndGlyphs">700.00</text>
<text x="516.52" y="452.34" font-size="17" fill="#2b2b2b" textLength="9.56" lengthAdjust="spacingAndGlyphs">$</text>
<text x="552.72" y="452.34" font-size="17" fill="#2b2b2b" textLength="64.48" lengthAdjust="spacingAndGlyphs">1,100.00</text>
<text x="636.29" y="452.34" font-size="17" fill="#2b2b2b" textLength="9.56" lengthAdjust="spacingAndGlyphs">$</text>
<text x="685.26" y="452.34" font-size="17" fill="#2b2b2b" textLength="51.79" lengthAdjust="spacingAndGlyphs">800.00</text>
<text x="756.06" y="452.34" font-size="17" fill="#1c2a3a" textLength="9.56" lengthAdjust="spacingAndGlyphs">$</text>
<text x="791.44" y="452.34" font-size="17" fill="#1c2a3a" textLength="65.31" lengthAdjust="spacingAndGlyphs">2,600.00</text>
<text x="875.83" y="452.34" font-size="17" fill="#2b2b2b" textLength="9.56" lengthAdjust="spacingAndGlyphs">$</text>
<text x="925.31" y="452.34" font-size="17" fill="#2b2b2b" textLength="51.28" lengthAdjust="spacingAndGlyphs">700.00</text>
<text x="995.60" y="452.34" font-size="17" fill="#2b2b2b" textLength="9.56" lengthAdjust="spacingAndGlyphs">$</text>
<text x="1031.80" y="452.34" font-size="17" fill="#2b2b2b" textLength="64.48" lengthAdjust="spacingAndGlyphs">1,100.00</text>
<text x="1115.37" y="452.34" font-size="17" fill="#2b2b2b" textLength="9.56" lengthAdjust="spacingAndGlyphs">$</text>
<text x="1164.34" y="452.34" font-size="17" fill="#2b2b2b" textLength="51.79" lengthAdjust="spacingAndGlyphs">800.00</text>
<text x="1235.14" y="452.34" font-size="17" fill="#f2f6fb" textLength="9.56" lengthAdjust="spacingAndGlyphs">$</text>
<text x="1270.52" y="452.34" font-size="17" fill="#f2f6fb" textLength="65.31" lengthAdjust="spacingAndGlyphs">2,600.00</text>
<text x="1354.91" y="452.34" font-size="17" fill="#2b2b2b" textLength="9.56" lengthAdjust="spacingAndGlyphs">$</text>
<text x="1404.39" y="452.34" font-size="17" fill="#2b2b2b" textLength="51.28" lengthAdjust="spacingAndGlyphs">700.00</text>
<text x="1474.68" y="452.34" font-size="17" fill="#2b2b2b" textLength="9.56" lengthAdjust="spacingAndGlyphs">$</text>
<text x="1510.88" y="452.34" font-size="17" fill="#2b2b2b" textLength="64.48" lengthAdjust="spacingAndGlyphs">1,100.00</text>
<text x="1594.45" y="452.34" font-size="17" fill="#2b2b2b" textLength="9.56" lengthAdjust="spacingAndGlyphs">$</text>
<text x="1643.42" y="452.34" font-size="17" fill="#2b2b2b" textLength="51.79" lengthAdjust="spacingAndGlyphs">800.00</text>
<text x="1714.22" y="452.34" font-size="17" fill="#ffffff" textLength="9.56" lengthAdjust="spacingAndGlyphs">$</text>
<text x="1749.60" y="452.34" font-size="17" fill="#ffffff" textLength="65.31" lengthAdjust="spacingAndGlyphs">2,600.00</text>
<text x="1833.99" y="452.34" font-size="17" fill="#2b2b2b" textLength="9.56" lengthAdjust="spacingAndGlyphs">$</text>
<text x="1883.47" y="452.34" font-size="17" fill="#2b2b2b" textLength="51.28" lengthAdjust="spacingAndGlyphs">700.00</text>
<text x="1953.76" y="452.34" font-size="17" fill="#2b2b2b" textLength="9.56" lengthAdjust="spacingAndGlyphs">$</text>
<text x="1989.96" y="452.34" font-size="17" fill="#2b2b2b" textLength="64.48" lengthAdjust="spacingAndGlyphs">1,100.00</text>
<text x="2073.53" y="452.34" font-size="17" fill="#2b2b2b" textLength="9.56" lengthAdjust="spacingAndGlyphs">$</text>
<text x="2122.50" y="452.34" font-size="17" fill="#2b2b2b" textLength="51.79" lengthAdjust="spacingAndGlyphs">800.00</text>
<text x="2193.30" y="452.34" font-size="17" fill="#ffffff" textLength="9.56" lengthAdjust="spacingAndGlyphs">$</text>
<text x="2228.68" y="452.34" font-size="17" fill="#ffffff" textLength="65.31" lengthAdjust="spacingAndGlyphs">2,600.00</text>
<text x="2313.25" y="453.24" font-size="16.6" font-weight="bold" fill="#000000" textLength="9.92" lengthAdjust="spacingAndGlyphs">$</text>
<text x="2361.19" y="453.24" font-size="16.4" font-weight="bold" fill="#000000" textLength="73.62" lengthAdjust="spacingAndGlyphs">10,400.00</text>
<text x="177.98" y="484.97" font-size="17" fill="#2b2b2b" textLength="189.29" lengthAdjust="spacingAndGlyphs">Previous Year Variance</text>
<text x="396.75" y="484.97" font-size="17" fill="#2b2b2b" textLength="9.56" lengthAdjust="spacingAndGlyphs">$</text>
<text x="439.89" y="484.97" font-size="17" fill="#2b2b2b" textLength="62.23" lengthAdjust="spacingAndGlyphs">(200.00)</text>
<text x="516.52" y="484.97" font-size="17" fill="#2b2b2b" textLength="9.56" lengthAdjust="spacingAndGlyphs">$</text>
<text x="559.66" y="484.97" font-size="17" fill="#2b2b2b" textLength="62.23" lengthAdjust="spacingAndGlyphs">(400.00)</text>
<text x="636.29" y="484.97" font-size="17" fill="#2b2b2b" textLength="9.56" lengthAdjust="spacingAndGlyphs">$</text>
<text x="685.26" y="484.97" font-size="17" fill="#2b2b2b" textLength="51.79" lengthAdjust="spacingAndGlyphs">300.00</text>
<text x="756.06" y="484.97" font-size="17" fill="#1c2a3a" textLength="9.56" lengthAdjust="spacingAndGlyphs">$</text>
<text x="798.79" y="484.97" font-size="17" fill="#1c2a3a" textLength="62.65" lengthAdjust="spacingAndGlyphs">(300.00)</text>
<text x="875.83" y="484.97" font-size="17" fill="#2b2b2b" textLength="9.56" lengthAdjust="spacingAndGlyphs">$</text>
<text x="918.97" y="484.97" font-size="17" fill="#2b2b2b" textLength="62.23" lengthAdjust="spacingAndGlyphs">(200.00)</text>
<text x="995.60" y="484.97" font-size="17" fill="#2b2b2b" textLength="9.56" lengthAdjust="spacingAndGlyphs">$</text>
<text x="1038.74" y="484.97" font-size="17" fill="#2b2b2b" textLength="62.23" lengthAdjust="spacingAndGlyphs">(400.00)</text>
<text x="1115.37" y="484.97" font-size="17" fill="#2b2b2b" textLength="9.56" lengthAdjust="spacingAndGlyphs">$</text>
<text x="1164.34" y="484.97" font-size="17" fill="#2b2b2b" textLength="51.79" lengthAdjust="spacingAndGlyphs">300.00</text>
<text x="1235.14" y="484.97" font-size="17" fill="#f2f6fb" textLength="9.56" lengthAdjust="spacingAndGlyphs">$</text>
<text x="1277.87" y="484.97" font-size="17" fill="#f2f6fb" textLength="62.65" lengthAdjust="spacingAndGlyphs">(300.00)</text>
<text x="1354.91" y="484.97" font-size="17" fill="#2b2b2b" textLength="9.56" lengthAdjust="spacingAndGlyphs">$</text>
<text x="1398.05" y="484.97" font-size="17" fill="#2b2b2b" textLength="62.23" lengthAdjust="spacingAndGlyphs">(200.00)</text>
<text x="1474.68" y="484.97" font-size="17" fill="#2b2b2b" textLength="9.56" lengthAdjust="spacingAndGlyphs">$</text>
<text x="1517.82" y="484.97" font-size="17" fill="#2b2b2b" textLength="62.23" lengthAdjust="spacingAndGlyphs">(400.00)</text>
<text x="1594.45" y="484.97" font-size="17" fill="#2b2b2b" textLength="9.56" lengthAdjust="spacingAndGlyphs">$</text>
<text x="1643.42" y="484.97" font-size="17" fill="#2b2b2b" textLength="51.79" lengthAdjust="spacingAndGlyphs">300.00</text>
<text x="1714.22" y="484.97" font-size="17" fill="#ffffff" textLength="9.56" lengthAdjust="spacingAndGlyphs">$</text>
<text x="1756.95" y="484.97" font-size="17" fill="#ffffff" textLength="62.65" lengthAdjust="spacingAndGlyphs">(300.00)</text>
<text x="1833.99" y="484.97" font-size="17" fill="#2b2b2b" textLength="9.56" lengthAdjust="spacingAndGlyphs">$</text>
<text x="1877.13" y="484.97" font-size="17" fill="#2b2b2b" textLength="62.23" lengthAdjust="spacingAndGlyphs">(200.00)</text>
<text x="1953.76" y="484.97" font-size="17" fill="#2b2b2b" textLength="9.56" lengthAdjust="spacingAndGlyphs">$</text>
<text x="1996.90" y="484.97" font-size="17" fill="#2b2b2b" textLength="62.23" lengthAdjust="spacingAndGlyphs">(400.00)</text>
<text x="2073.53" y="484.97" font-size="17" fill="#2b2b2b" textLength="9.56" lengthAdjust="spacingAndGlyphs">$</text>
<text x="2122.50" y="484.97" font-size="17" fill="#2b2b2b" textLength="51.79" lengthAdjust="spacingAndGlyphs">300.00</text>
<text x="2193.30" y="484.97" font-size="17" fill="#ffffff" textLength="9.56" lengthAdjust="spacingAndGlyphs">$</text>
<text x="2236.03" y="484.97" font-size="17" fill="#ffffff" textLength="62.65" lengthAdjust="spacingAndGlyphs">(300.00)</text>
<text x="2313.25" y="485.87" font-size="16.6" font-weight="bold" fill="#000000" textLength="9.92" lengthAdjust="spacingAndGlyphs">$</text>
<text x="2363.21" y="485.87" font-size="16.4" font-weight="bold" fill="#000000" textLength="78.99" lengthAdjust="spacingAndGlyphs">(1,200.00)</text>
</g>
</svg>
</body>
</html>
